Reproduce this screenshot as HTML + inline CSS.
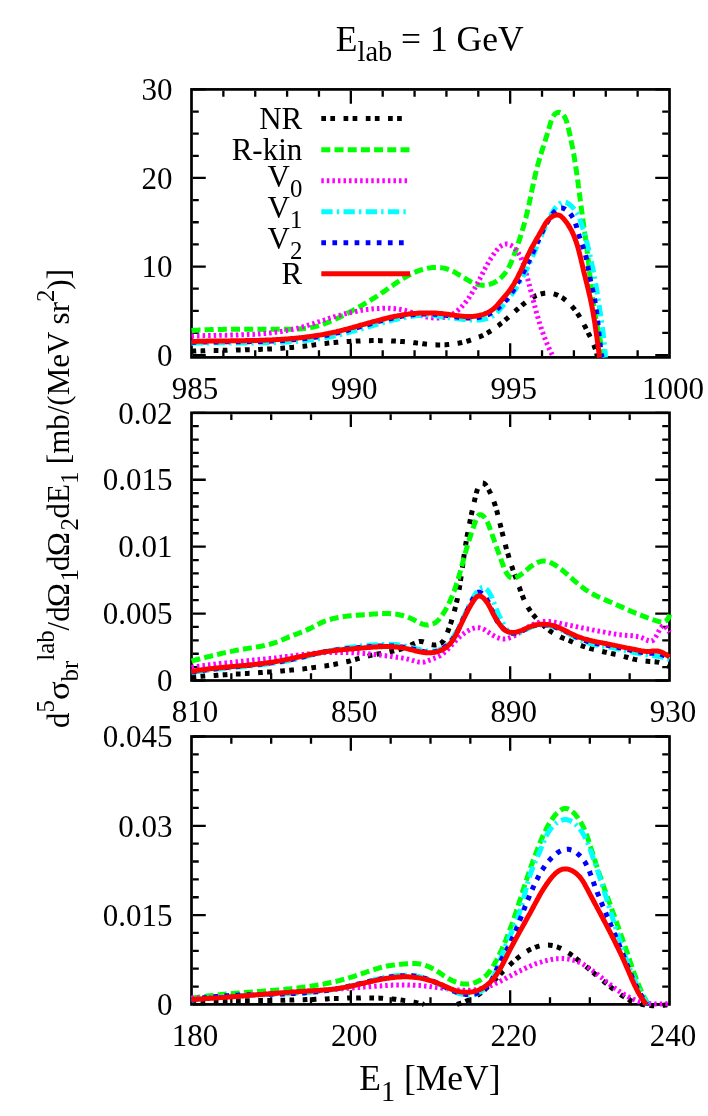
<!DOCTYPE html>
<html><head><meta charset="utf-8"><title>E_lab = 1 GeV</title>
<style>html,body{margin:0;padding:0;background:#fff}body{width:708px;height:1116px;overflow:hidden;font-family:"Liberation Serif",serif}svg{will-change:transform}</style>
</head><body>
<svg width="708" height="1116" viewBox="0 0 708 1116" style="display:block">
<rect width="708" height="1116" fill="#fff"/>
<rect x="191.5" y="89.4" width="478.0" height="268.0" fill="none" stroke="#000" stroke-width="2.7"/>
<path d="M223.37,356.04999999999995v-5.9 M223.37,90.75v5.9 M255.23,356.04999999999995v-5.9 M255.23,90.75v5.9 M287.10,356.04999999999995v-5.9 M287.10,90.75v5.9 M318.97,356.04999999999995v-5.9 M318.97,90.75v5.9 M350.83,356.04999999999995v-12.9 M350.83,90.75v12.9 M382.70,356.04999999999995v-5.9 M382.70,90.75v5.9 M414.57,356.04999999999995v-5.9 M414.57,90.75v5.9 M446.43,356.04999999999995v-5.9 M446.43,90.75v5.9 M478.30,356.04999999999995v-5.9 M478.30,90.75v5.9 M510.17,356.04999999999995v-12.9 M510.17,90.75v12.9 M542.03,356.04999999999995v-5.9 M542.03,90.75v5.9 M573.90,356.04999999999995v-5.9 M573.90,90.75v5.9 M605.77,356.04999999999995v-5.9 M605.77,90.75v5.9 M637.63,356.04999999999995v-5.9 M637.63,90.75v5.9 M192.85,355.10h12.9 M668.15,355.10h-12.9 M192.85,332.96h5.9 M668.15,332.96h-5.9 M192.85,310.82h5.9 M668.15,310.82h-5.9 M192.85,288.68h5.9 M668.15,288.68h-5.9 M192.85,266.53h12.9 M668.15,266.53h-12.9 M192.85,244.39h5.9 M668.15,244.39h-5.9 M192.85,222.25h5.9 M668.15,222.25h-5.9 M192.85,200.11h5.9 M668.15,200.11h-5.9 M192.85,177.97h12.9 M668.15,177.97h-12.9 M192.85,155.82h5.9 M668.15,155.82h-5.9 M192.85,133.68h5.9 M668.15,133.68h-5.9 M192.85,111.54h5.9 M668.15,111.54h-5.9 M192.85,89.40h12.9 M668.15,89.40h-12.9" stroke="#000" stroke-width="2.3" fill="none"/>
<text x="195.0" y="399.1" font-family="Liberation Serif, serif" font-size="31" text-anchor="middle">985</text>
<text x="354.3" y="399.1" font-family="Liberation Serif, serif" font-size="31" text-anchor="middle">990</text>
<text x="513.7" y="399.1" font-family="Liberation Serif, serif" font-size="31" text-anchor="middle">995</text>
<text x="673.0" y="399.1" font-family="Liberation Serif, serif" font-size="31" text-anchor="middle">1000</text>
<text x="172.5" y="365.8" font-family="Liberation Serif, serif" font-size="31" text-anchor="end">0</text>
<text x="172.5" y="277.2" font-family="Liberation Serif, serif" font-size="31" text-anchor="end">10</text>
<text x="172.5" y="188.7" font-family="Liberation Serif, serif" font-size="31" text-anchor="end">20</text>
<text x="172.5" y="100.1" font-family="Liberation Serif, serif" font-size="31" text-anchor="end">30</text>
<g fill="none" stroke-width="5.0" stroke-linejoin="round">
<path d="M191.5,351.2 L192.7,351.2 L193.9,351.1 L195.1,351.1 L196.3,351.0 L197.5,351.0 L198.7,350.9 L199.9,350.9 L201.1,350.9 L202.3,350.8 L203.5,350.8 L204.7,350.8 L205.9,350.7 L207.1,350.7 L208.3,350.7 L209.5,350.6 L210.7,350.6 L211.9,350.6 L213.1,350.5 L214.3,350.5 L215.5,350.5 L216.7,350.5 L217.9,350.4 L219.1,350.4 L220.3,350.4 L221.5,350.4 L222.7,350.3 L223.9,350.3 L225.1,350.3 L226.3,350.3 L227.5,350.2 L228.7,350.2 L229.9,350.2 L231.1,350.2 L232.3,350.1 L233.5,350.1 L234.7,350.1 L235.9,350.1 L237.1,350.0 L238.3,350.0 L239.5,350.0 L240.7,350.0 L241.9,349.9 L243.1,349.9 L244.3,349.9 L245.5,349.8 L246.7,349.8 L247.9,349.8 L249.1,349.7 L250.3,349.7 L251.5,349.7 L252.7,349.6 L253.9,349.6 L255.1,349.6 L256.3,349.5 L257.5,349.5 L258.7,349.4 L259.9,349.4 L261.1,349.3 L262.3,349.3 L263.5,349.3 L264.7,349.2 L265.9,349.1 L267.1,349.1 L268.3,349.0 L269.5,349.0 L270.7,348.9 L271.9,348.9 L273.1,348.8 L274.3,348.7 L275.5,348.7 L276.7,348.6 L277.9,348.5 L279.1,348.4 L280.3,348.4 L281.5,348.3 L282.7,348.2 L283.9,348.1 L285.1,348.0 L286.2,347.9 L287.4,347.8 L288.6,347.7 L289.8,347.6 L291.0,347.5 L292.2,347.4 L293.4,347.3 L294.6,347.2 L295.8,347.1 L297.0,347.0 L298.2,346.8 L299.4,346.7 L300.6,346.6 L301.8,346.4 L303.0,346.3 L304.1,346.2 L305.3,346.0 L306.5,345.9 L307.7,345.7 L308.9,345.6 L310.1,345.4 L311.3,345.3 L312.5,345.1 L313.7,344.9 L314.9,344.8 L316.0,344.6 L317.2,344.5 L318.4,344.3 L319.6,344.1 L320.8,344.0 L322.0,343.8 L323.2,343.7 L324.4,343.5 L325.6,343.4 L326.8,343.3 L327.9,343.1 L329.1,343.0 L330.3,342.9 L331.5,342.8 L332.7,342.6 L333.9,342.5 L335.1,342.4 L336.3,342.3 L337.5,342.2 L338.7,342.1 L339.9,342.0 L341.1,341.9 L342.3,341.8 L343.5,341.7 L344.7,341.7 L345.9,341.6 L347.1,341.5 L348.3,341.4 L349.5,341.4 L350.7,341.3 L351.9,341.2 L353.1,341.2 L354.3,341.1 L355.5,341.1 L356.7,341.0 L357.9,341.0 L359.1,340.9 L360.3,340.9 L361.5,340.8 L362.7,340.8 L363.9,340.8 L365.1,340.7 L366.3,340.7 L367.5,340.7 L368.7,340.7 L369.9,340.7 L371.1,340.6 L372.3,340.6 L373.5,340.6 L374.7,340.6 L375.9,340.6 L377.1,340.6 L378.3,340.6 L379.5,340.7 L380.7,340.7 L381.9,340.7 L383.1,340.7 L384.3,340.7 L385.5,340.8 L386.7,340.8 L387.9,340.8 L389.1,340.9 L390.3,340.9 L391.5,341.0 L392.7,341.0 L393.9,341.1 L395.1,341.1 L396.2,341.2 L397.4,341.3 L398.6,341.3 L399.8,341.4 L401.0,341.5 L402.2,341.6 L403.4,341.6 L404.6,341.7 L405.8,341.8 L407.0,341.9 L408.2,342.0 L409.4,342.2 L410.6,342.3 L411.8,342.4 L413.0,342.5 L414.2,342.7 L415.4,342.8 L416.6,342.9 L417.8,343.1 L419.0,343.2 L420.2,343.4 L421.4,343.5 L422.6,343.7 L423.8,343.8 L425.0,343.9 L426.2,344.1 L427.4,344.2 L428.6,344.3 L429.7,344.4 L430.9,344.5 L432.1,344.6 L433.3,344.7 L434.5,344.8 L435.7,344.8 L436.9,344.9 L438.1,344.9 L439.3,344.9 L440.5,344.9 L441.7,344.9 L442.8,344.9 L444.0,344.8 L445.2,344.8 L446.4,344.7 L447.6,344.6 L448.8,344.5 L450.0,344.4 L451.1,344.3 L452.3,344.1 L453.5,344.0 L454.7,343.8 L455.9,343.6 L457.1,343.4 L458.3,343.2 L459.5,343.0 L460.6,342.7 L461.8,342.5 L463.0,342.2 L464.2,341.9 L465.4,341.6 L466.5,341.3 L467.7,341.0 L468.9,340.7 L470.0,340.3 L471.2,339.9 L472.4,339.6 L473.5,339.2 L474.7,338.8 L475.8,338.3 L476.9,337.9 L478.0,337.4 L479.2,337.0 L480.3,336.5 L481.4,336.0 L482.5,335.5 L483.5,335.0 L484.6,334.4 L485.7,333.9 L486.7,333.3 L487.8,332.7 L488.8,332.1 L489.8,331.5 L490.8,330.9 L491.8,330.3 L492.8,329.6 L493.8,328.9 L494.8,328.3 L495.7,327.6 L496.7,326.9 L497.6,326.2 L498.6,325.5 L499.5,324.7 L500.4,324.0 L501.3,323.2 L502.3,322.5 L503.2,321.7 L504.1,321.0 L505.0,320.2 L505.9,319.4 L506.8,318.6 L507.7,317.9 L508.6,317.1 L509.5,316.3 L510.4,315.5 L511.3,314.7 L512.2,313.9 L513.1,313.1 L514.0,312.3 L514.9,311.5 L515.8,310.7 L516.7,309.8 L517.7,309.0 L518.6,308.2 L519.5,307.4 L520.4,306.6 L521.4,305.8 L522.3,305.0 L523.3,304.3 L524.2,303.5 L525.2,302.7 L526.2,301.9 L527.2,301.2 L528.1,300.5 L529.1,299.8 L530.2,299.1 L531.2,298.4 L532.2,297.8 L533.2,297.2 L534.3,296.6 L535.3,296.0 L536.4,295.5 L537.5,295.1 L538.6,294.7 L539.7,294.3 L540.8,294.0 L541.9,293.7 L543.1,293.5 L544.2,293.3 L545.4,293.2 L546.5,293.1 L547.7,293.1 L548.9,293.1 L550.0,293.2 L551.2,293.3 L552.3,293.5 L553.5,293.8 L554.6,294.1 L555.7,294.5 L556.8,294.9 L557.9,295.3 L558.9,295.8 L560.0,296.4 L561.0,297.0 L562.1,297.6 L563.1,298.3 L564.1,299.0 L565.0,299.7 L566.0,300.5 L566.9,301.3 L567.9,302.1 L568.8,303.0 L569.6,303.8 L570.5,304.7 L571.3,305.6 L572.1,306.5 L572.9,307.5 L573.7,308.4 L574.5,309.4 L575.2,310.3 L575.9,311.3 L576.6,312.3 L577.3,313.3 L578.0,314.3 L578.7,315.3 L579.3,316.3 L579.9,317.4 L580.5,318.4 L581.2,319.4 L581.7,320.5 L582.3,321.5 L582.9,322.6 L583.5,323.6 L584.0,324.7 L584.6,325.8 L585.2,326.8 L585.7,327.9 L586.2,329.0 L586.8,330.1 L587.3,331.1 L587.9,332.2 L588.4,333.3 L588.9,334.3 L589.5,335.4 L590.0,336.5 L590.5,337.5 L591.0,338.6 L591.5,339.7 L592.0,340.8 L592.5,341.9 L593.0,342.9 L593.4,344.0 L593.9,345.1 L594.3,346.2 L594.7,347.4 L595.1,348.5 L595.5,349.6 L595.9,350.7 L596.2,351.9 L596.5,353.0 L596.8,354.2 L597.1,355.4 L597.3,356.6 L597.5,357.4" stroke="#000000" stroke-dasharray="4.7 4.35 4.7 8.5"/>
<path d="M191.5,330.5 L192.7,330.4 L193.9,330.4 L195.1,330.3 L196.3,330.2 L197.5,330.2 L198.7,330.1 L199.9,330.0 L201.1,330.0 L202.3,329.9 L203.5,329.9 L204.7,329.8 L205.9,329.8 L207.1,329.8 L208.3,329.7 L209.5,329.7 L210.7,329.6 L211.9,329.6 L213.1,329.6 L214.3,329.5 L215.5,329.5 L216.7,329.5 L217.9,329.4 L219.1,329.4 L220.3,329.4 L221.5,329.4 L222.7,329.4 L223.9,329.3 L225.1,329.3 L226.3,329.3 L227.5,329.3 L228.7,329.3 L229.9,329.3 L231.1,329.3 L232.3,329.2 L233.5,329.2 L234.7,329.2 L235.9,329.2 L237.1,329.2 L238.3,329.2 L239.5,329.2 L240.7,329.2 L241.9,329.2 L243.1,329.2 L244.3,329.2 L245.5,329.2 L246.7,329.2 L247.9,329.2 L249.1,329.2 L250.2,329.2 L251.4,329.2 L252.6,329.2 L253.8,329.2 L255.0,329.2 L256.2,329.2 L257.4,329.2 L258.6,329.2 L259.8,329.2 L261.0,329.2 L262.2,329.2 L263.4,329.2 L264.6,329.2 L265.8,329.3 L267.0,329.3 L268.2,329.3 L269.4,329.3 L270.6,329.3 L271.9,329.3 L273.1,329.3 L274.3,329.3 L275.5,329.3 L276.7,329.3 L277.9,329.3 L279.1,329.3 L280.3,329.3 L281.5,329.3 L282.7,329.3 L283.9,329.3 L285.1,329.3 L286.3,329.3 L287.5,329.2 L288.7,329.2 L289.9,329.2 L291.1,329.2 L292.3,329.2 L293.5,329.1 L294.7,329.1 L295.9,329.0 L297.1,329.0 L298.3,328.9 L299.5,328.9 L300.7,328.8 L301.9,328.7 L303.1,328.6 L304.3,328.4 L305.5,328.3 L306.7,328.2 L307.8,328.0 L309.0,327.8 L310.2,327.6 L311.4,327.4 L312.5,327.2 L313.7,326.9 L314.9,326.7 L316.0,326.4 L317.2,326.1 L318.3,325.8 L319.5,325.4 L320.6,325.1 L321.8,324.7 L322.9,324.3 L324.0,323.9 L325.2,323.4 L326.3,323.0 L327.4,322.6 L328.5,322.1 L329.6,321.6 L330.8,321.2 L331.9,320.7 L333.0,320.2 L334.1,319.7 L335.2,319.2 L336.3,318.7 L337.4,318.2 L338.5,317.7 L339.5,317.2 L340.6,316.6 L341.7,316.1 L342.8,315.6 L343.9,315.1 L344.9,314.5 L346.0,314.0 L347.1,313.4 L348.2,312.9 L349.2,312.4 L350.3,311.8 L351.3,311.2 L352.4,310.7 L353.4,310.1 L354.5,309.5 L355.5,309.0 L356.6,308.4 L357.6,307.8 L358.7,307.2 L359.7,306.6 L360.8,306.1 L361.8,305.5 L362.8,304.9 L363.9,304.3 L364.9,303.6 L365.9,303.0 L366.9,302.4 L368.0,301.8 L369.0,301.2 L370.0,300.6 L371.0,299.9 L372.0,299.3 L373.0,298.6 L374.1,298.0 L375.1,297.4 L376.1,296.7 L377.1,296.1 L378.1,295.4 L379.1,294.7 L380.1,294.1 L381.1,293.4 L382.1,292.7 L383.1,292.1 L384.1,291.4 L385.1,290.7 L386.1,290.0 L387.1,289.3 L388.1,288.6 L389.0,287.9 L390.0,287.2 L391.0,286.5 L392.0,285.9 L393.0,285.2 L394.0,284.5 L395.0,283.8 L396.0,283.1 L397.0,282.4 L398.0,281.8 L399.0,281.1 L400.0,280.4 L401.0,279.8 L402.0,279.1 L403.1,278.5 L404.1,277.9 L405.1,277.3 L406.1,276.7 L407.2,276.1 L408.2,275.5 L409.3,274.9 L410.4,274.4 L411.4,273.9 L412.5,273.3 L413.6,272.8 L414.7,272.3 L415.8,271.9 L416.9,271.4 L418.0,271.0 L419.1,270.6 L420.2,270.2 L421.4,269.8 L422.5,269.5 L423.7,269.2 L424.9,268.9 L426.1,268.6 L427.2,268.3 L428.4,268.1 L429.6,267.9 L430.8,267.8 L432.0,267.6 L433.2,267.5 L434.4,267.5 L435.6,267.4 L436.8,267.4 L438.0,267.5 L439.1,267.5 L440.3,267.6 L441.5,267.8 L442.7,267.9 L443.8,268.1 L445.0,268.4 L446.1,268.7 L447.2,269.0 L448.4,269.4 L449.5,269.8 L450.6,270.3 L451.7,270.8 L452.8,271.3 L453.8,271.8 L454.9,272.4 L456.0,273.0 L457.0,273.6 L458.1,274.2 L459.2,274.8 L460.2,275.5 L461.3,276.1 L462.3,276.8 L463.4,277.5 L464.5,278.1 L465.5,278.8 L466.6,279.4 L467.7,280.0 L468.8,280.6 L469.8,281.2 L470.9,281.8 L472.0,282.3 L473.1,282.8 L474.2,283.3 L475.3,283.7 L476.4,284.1 L477.5,284.4 L478.7,284.7 L479.8,284.9 L480.9,285.1 L482.1,285.2 L483.2,285.3 L484.4,285.2 L485.6,285.2 L486.8,285.0 L487.9,284.8 L489.1,284.5 L490.3,284.1 L491.4,283.7 L492.6,283.3 L493.7,282.8 L494.8,282.2 L495.8,281.6 L496.9,281.0 L497.9,280.3 L498.8,279.6 L499.8,278.8 L500.7,278.0 L501.6,277.2 L502.4,276.3 L503.2,275.4 L504.0,274.5 L504.8,273.6 L505.5,272.6 L506.2,271.6 L506.9,270.6 L507.5,269.6 L508.1,268.6 L508.7,267.5 L509.2,266.5 L509.8,265.4 L510.3,264.3 L510.8,263.2 L511.3,262.1 L511.7,261.0 L512.2,259.9 L512.6,258.8 L513.1,257.7 L513.5,256.5 L513.9,255.4 L514.3,254.3 L514.7,253.2 L515.2,252.0 L515.6,250.9 L516.0,249.8 L516.4,248.6 L516.8,247.5 L517.2,246.4 L517.6,245.3 L518.0,244.1 L518.3,243.0 L518.7,241.9 L519.1,240.7 L519.5,239.6 L519.8,238.4 L520.2,237.3 L520.6,236.2 L520.9,235.0 L521.3,233.9 L521.7,232.8 L522.0,231.6 L522.3,230.5 L522.7,229.3 L523.0,228.2 L523.4,227.0 L523.7,225.9 L524.0,224.7 L524.3,223.6 L524.6,222.4 L524.9,221.3 L525.3,220.1 L525.6,218.9 L525.9,217.8 L526.1,216.6 L526.4,215.4 L526.7,214.3 L527.0,213.1 L527.3,211.9 L527.5,210.8 L527.8,209.6 L528.1,208.4 L528.3,207.2 L528.6,206.1 L528.9,204.9 L529.1,203.7 L529.4,202.5 L529.6,201.3 L529.9,200.2 L530.1,199.0 L530.4,197.8 L530.6,196.6 L530.9,195.4 L531.1,194.2 L531.4,193.1 L531.6,191.9 L531.8,190.7 L532.1,189.5 L532.3,188.3 L532.6,187.2 L532.8,186.0 L533.1,184.8 L533.3,183.6 L533.6,182.5 L533.9,181.3 L534.1,180.1 L534.4,178.9 L534.6,177.8 L534.9,176.6 L535.2,175.4 L535.4,174.3 L535.7,173.1 L536.0,172.0 L536.3,170.8 L536.6,169.6 L536.9,168.5 L537.2,167.3 L537.5,166.2 L537.8,165.0 L538.1,163.9 L538.4,162.8 L538.7,161.6 L539.1,160.5 L539.4,159.4 L539.7,158.2 L540.1,157.1 L540.4,155.9 L540.7,154.8 L541.1,153.7 L541.4,152.5 L541.8,151.4 L542.1,150.3 L542.5,149.1 L542.8,148.0 L543.2,146.9 L543.6,145.7 L543.9,144.6 L544.3,143.4 L544.6,142.3 L545.0,141.1 L545.4,140.0 L545.7,138.8 L546.1,137.7 L546.4,136.5 L546.8,135.4 L547.2,134.2 L547.5,133.0 L547.9,131.8 L548.3,130.6 L548.6,129.5 L549.0,128.3 L549.3,127.1 L549.7,125.9 L550.0,124.7 L550.4,123.4 L550.7,122.2 L551.1,121.0 L551.5,119.9 L552.0,118.7 L552.4,117.7 L553.0,116.6 L553.6,115.7 L554.3,114.8 L555.1,114.0 L555.9,113.3 L556.9,112.8 L557.9,112.4 L559.0,112.3 L560.0,112.4 L561.0,112.9 L561.9,113.6 L562.8,114.4 L563.6,115.4 L564.3,116.5 L565.0,117.5 L565.5,118.7 L566.0,119.8 L566.4,120.9 L566.8,122.1 L567.1,123.2 L567.4,124.4 L567.7,125.6 L568.0,126.7 L568.3,127.9 L568.6,129.1 L568.9,130.2 L569.1,131.4 L569.4,132.6 L569.7,133.8 L569.9,134.9 L570.2,136.1 L570.5,137.3 L570.7,138.5 L571.0,139.6 L571.2,140.8 L571.4,142.0 L571.7,143.2 L571.9,144.3 L572.1,145.5 L572.4,146.7 L572.6,147.9 L572.8,149.1 L573.0,150.2 L573.2,151.4 L573.4,152.6 L573.7,153.8 L573.9,155.0 L574.1,156.1 L574.3,157.3 L574.5,158.5 L574.7,159.7 L574.8,160.9 L575.0,162.1 L575.2,163.2 L575.4,164.4 L575.6,165.6 L575.8,166.8 L575.9,168.0 L576.1,169.2 L576.3,170.4 L576.5,171.5 L576.6,172.7 L576.8,173.9 L577.0,175.1 L577.1,176.3 L577.3,177.5 L577.5,178.7 L577.6,179.9 L577.8,181.0 L578.0,182.2 L578.1,183.4 L578.3,184.6 L578.4,185.8 L578.6,187.0 L578.8,188.2 L578.9,189.4 L579.1,190.6 L579.2,191.7 L579.4,192.9 L579.5,194.1 L579.7,195.3 L579.8,196.5 L580.0,197.7 L580.1,198.9 L580.3,200.1 L580.4,201.3 L580.6,202.5 L580.8,203.6 L580.9,204.8 L581.1,206.0 L581.2,207.2 L581.4,208.4 L581.5,209.6 L581.7,210.8 L581.8,212.0 L582.0,213.2 L582.2,214.4 L582.3,215.5 L582.5,216.7 L582.6,217.9 L582.8,219.1 L583.0,220.3 L583.1,221.5 L583.3,222.7 L583.5,223.9 L583.6,225.1 L583.8,226.2 L584.0,227.4 L584.2,228.6 L584.3,229.8 L584.5,231.0 L584.7,232.2 L584.8,233.4 L585.0,234.6 L585.2,235.8 L585.3,236.9 L585.5,238.1 L585.7,239.3 L585.8,240.5 L586.0,241.7 L586.1,242.9 L586.3,244.1 L586.5,245.3 L586.6,246.5 L586.8,247.6 L586.9,248.8 L587.1,250.0 L587.2,251.2 L587.4,252.4 L587.5,253.6 L587.6,254.8 L587.8,256.0 L587.9,257.2 L588.1,258.4 L588.2,259.6 L588.3,260.8 L588.5,261.9 L588.6,263.1 L588.7,264.3 L588.9,265.5 L589.0,266.7 L589.1,267.9 L589.2,269.1 L589.4,270.3 L589.5,271.5 L589.6,272.7 L589.7,273.9 L589.9,275.1 L590.0,276.3 L590.1,277.5 L590.3,278.6 L590.4,279.8 L590.5,281.0 L590.7,282.2 L590.8,283.4 L590.9,284.6 L591.1,285.8 L591.2,287.0 L591.3,288.2 L591.5,289.4 L591.6,290.6 L591.8,291.8 L591.9,292.9 L592.1,294.1 L592.2,295.3 L592.4,296.5 L592.5,297.7 L592.7,298.9 L592.9,300.1 L593.0,301.3 L593.2,302.5 L593.4,303.6 L593.6,304.8 L593.8,306.0 L593.9,307.2 L594.1,308.4 L594.3,309.6 L594.5,310.8 L594.7,311.9 L594.9,313.1 L595.1,314.3 L595.3,315.5 L595.5,316.7 L595.7,317.9 L595.9,319.0 L596.1,320.2 L596.4,321.4 L596.6,322.6 L596.8,323.8 L597.0,324.9 L597.2,326.1 L597.5,327.3 L597.7,328.5 L597.9,329.7 L598.2,330.8 L598.4,332.0 L598.6,333.2 L598.9,334.4 L599.1,335.5 L599.4,336.7 L599.6,337.9 L599.9,339.1 L600.1,340.2 L600.4,341.4 L600.6,342.6 L600.9,343.8 L601.1,344.9 L601.4,346.1 L601.7,347.3 L601.9,348.4 L602.2,349.6 L602.5,350.8 L602.7,351.9 L603.0,353.1 L603.3,354.3 L603.5,355.5 L603.8,356.6 L604.0,357.4" stroke="#00ff00" stroke-dasharray="9 4.2"/>
<path d="M191.5,336.1 L192.7,336.0 L193.9,336.0 L195.1,335.9 L196.3,335.9 L197.5,335.9 L198.7,335.8 L199.8,335.8 L201.0,335.7 L202.2,335.7 L203.4,335.7 L204.6,335.6 L205.8,335.6 L207.0,335.6 L208.2,335.6 L209.4,335.5 L210.6,335.5 L211.8,335.5 L213.0,335.5 L214.2,335.4 L215.4,335.4 L216.6,335.4 L217.8,335.4 L219.0,335.4 L220.2,335.3 L221.4,335.3 L222.6,335.3 L223.8,335.3 L225.1,335.3 L226.3,335.2 L227.5,335.2 L228.7,335.2 L229.9,335.2 L231.1,335.1 L232.3,335.1 L233.5,335.1 L234.7,335.1 L235.9,335.0 L237.1,335.0 L238.3,335.0 L239.5,334.9 L240.7,334.9 L241.9,334.8 L243.1,334.8 L244.3,334.8 L245.5,334.7 L246.7,334.7 L247.9,334.6 L249.1,334.5 L250.3,334.5 L251.5,334.4 L252.7,334.4 L253.9,334.3 L255.1,334.2 L256.3,334.1 L257.5,334.1 L258.7,334.0 L259.9,333.9 L261.1,333.8 L262.3,333.7 L263.5,333.6 L264.7,333.5 L265.9,333.4 L267.1,333.3 L268.3,333.1 L269.5,333.0 L270.7,332.9 L271.8,332.7 L273.0,332.6 L274.2,332.5 L275.4,332.3 L276.6,332.1 L277.8,332.0 L279.0,331.8 L280.1,331.6 L281.3,331.5 L282.5,331.3 L283.7,331.1 L284.9,330.9 L286.0,330.7 L287.2,330.4 L288.4,330.2 L289.6,330.0 L290.7,329.7 L291.9,329.5 L293.1,329.2 L294.2,329.0 L295.4,328.7 L296.6,328.4 L297.7,328.1 L298.9,327.8 L300.1,327.5 L301.2,327.2 L302.4,326.9 L303.5,326.6 L304.7,326.3 L305.8,325.9 L307.0,325.6 L308.1,325.2 L309.3,324.9 L310.4,324.5 L311.6,324.1 L312.7,323.8 L313.9,323.4 L315.0,323.0 L316.2,322.6 L317.3,322.3 L318.4,321.9 L319.6,321.5 L320.7,321.1 L321.9,320.7 L323.0,320.4 L324.2,320.0 L325.3,319.6 L326.5,319.2 L327.6,318.9 L328.7,318.5 L329.9,318.1 L331.0,317.8 L332.2,317.4 L333.3,317.1 L334.5,316.7 L335.6,316.4 L336.8,316.0 L337.9,315.7 L339.1,315.4 L340.2,315.1 L341.4,314.7 L342.5,314.4 L343.7,314.1 L344.9,313.8 L346.0,313.6 L347.2,313.3 L348.3,313.0 L349.5,312.7 L350.7,312.5 L351.8,312.2 L353.0,312.0 L354.2,311.7 L355.4,311.5 L356.5,311.3 L357.7,311.0 L358.9,310.8 L360.1,310.6 L361.2,310.4 L362.4,310.2 L363.6,310.1 L364.8,309.9 L366.0,309.7 L367.2,309.5 L368.4,309.4 L369.6,309.2 L370.8,309.1 L372.0,309.0 L373.2,308.8 L374.4,308.7 L375.6,308.6 L376.8,308.5 L378.0,308.5 L379.2,308.4 L380.4,308.3 L381.6,308.3 L382.8,308.2 L384.0,308.2 L385.2,308.2 L386.4,308.2 L387.7,308.2 L388.9,308.3 L390.1,308.3 L391.3,308.4 L392.4,308.5 L393.6,308.5 L394.8,308.7 L396.0,308.8 L397.2,308.9 L398.4,309.1 L399.6,309.3 L400.7,309.5 L401.9,309.7 L403.1,309.9 L404.2,310.2 L405.4,310.5 L406.5,310.8 L407.7,311.1 L408.8,311.4 L410.0,311.8 L411.1,312.1 L412.2,312.5 L413.4,312.9 L414.5,313.3 L415.6,313.7 L416.8,314.1 L417.9,314.5 L419.1,314.8 L420.2,315.2 L421.4,315.6 L422.5,315.9 L423.7,316.2 L424.8,316.5 L426.0,316.8 L427.2,317.1 L428.4,317.3 L429.6,317.5 L430.8,317.7 L432.0,317.8 L433.3,317.9 L434.5,318.0 L435.7,318.0 L436.9,318.0 L438.1,318.0 L439.3,317.9 L440.5,317.8 L441.7,317.7 L442.9,317.5 L444.1,317.2 L445.2,317.0 L446.4,316.7 L447.5,316.3 L448.6,315.9 L449.7,315.5 L450.8,315.0 L451.8,314.4 L452.9,313.9 L453.9,313.3 L454.9,312.6 L455.8,311.9 L456.8,311.2 L457.7,310.5 L458.6,309.7 L459.5,308.9 L460.4,308.0 L461.3,307.2 L462.1,306.3 L463.0,305.4 L463.8,304.5 L464.6,303.5 L465.3,302.6 L466.1,301.6 L466.9,300.6 L467.6,299.6 L468.3,298.6 L469.0,297.6 L469.7,296.6 L470.3,295.6 L471.0,294.6 L471.6,293.6 L472.3,292.6 L472.9,291.5 L473.5,290.5 L474.1,289.5 L474.7,288.4 L475.2,287.4 L475.8,286.4 L476.4,285.3 L476.9,284.3 L477.5,283.2 L478.0,282.2 L478.6,281.2 L479.1,280.1 L479.7,279.1 L480.2,278.0 L480.7,277.0 L481.3,275.9 L481.8,274.8 L482.3,273.8 L482.9,272.7 L483.4,271.7 L484.0,270.6 L484.5,269.6 L485.1,268.5 L485.6,267.5 L486.2,266.4 L486.8,265.4 L487.4,264.3 L488.0,263.3 L488.6,262.2 L489.2,261.2 L489.8,260.1 L490.5,259.1 L491.1,258.0 L491.8,257.0 L492.5,256.0 L493.2,254.9 L493.9,253.9 L494.6,252.9 L495.4,251.8 L496.2,250.8 L497.0,249.8 L497.8,248.9 L498.6,248.0 L499.5,247.1 L500.5,246.4 L501.4,245.7 L502.4,245.1 L503.5,244.6 L504.5,244.3 L505.6,244.1 L506.7,244.0 L507.8,244.1 L508.8,244.4 L509.8,244.8 L510.9,245.3 L511.8,246.0 L512.8,246.7 L513.7,247.5 L514.6,248.3 L515.5,249.2 L516.3,250.2 L517.1,251.2 L517.8,252.1 L518.5,253.1 L519.1,254.2 L519.7,255.2 L520.2,256.3 L520.8,257.3 L521.3,258.4 L521.7,259.5 L522.2,260.7 L522.6,261.8 L523.0,262.9 L523.4,264.0 L523.8,265.2 L524.1,266.3 L524.5,267.5 L524.8,268.7 L525.2,269.8 L525.5,271.0 L525.8,272.1 L526.2,273.3 L526.5,274.5 L526.8,275.6 L527.1,276.8 L527.4,277.9 L527.8,279.1 L528.1,280.3 L528.4,281.4 L528.7,282.6 L529.0,283.8 L529.3,284.9 L529.6,286.1 L529.9,287.3 L530.2,288.4 L530.5,289.6 L530.8,290.8 L531.1,291.9 L531.4,293.1 L531.7,294.2 L532.0,295.4 L532.3,296.6 L532.6,297.7 L532.9,298.9 L533.2,300.1 L533.5,301.2 L533.8,302.4 L534.1,303.5 L534.4,304.7 L534.7,305.9 L535.0,307.0 L535.3,308.2 L535.6,309.3 L535.9,310.5 L536.2,311.7 L536.5,312.8 L536.9,314.0 L537.2,315.1 L537.5,316.3 L537.9,317.4 L538.2,318.6 L538.5,319.7 L538.9,320.9 L539.2,322.0 L539.6,323.1 L539.9,324.3 L540.3,325.4 L540.7,326.6 L541.0,327.7 L541.4,328.8 L541.8,330.0 L542.2,331.1 L542.6,332.2 L543.0,333.3 L543.4,334.5 L543.8,335.6 L544.2,336.7 L544.6,337.8 L545.1,338.9 L545.5,340.0 L545.9,341.2 L546.4,342.3 L546.9,343.4 L547.3,344.5 L547.8,345.6 L548.3,346.7 L548.8,347.8 L549.3,348.9 L549.8,350.0 L550.3,351.0 L550.9,352.1 L551.4,353.2 L551.9,354.3 L552.5,355.4 L553.1,356.4 L553.6,357.4" stroke="#ff00ff" stroke-dasharray="2.5 3.05"/>
<path d="M191.5,343.2 L192.7,343.2 L193.9,343.1 L195.1,343.1 L196.3,343.1 L197.4,343.0 L198.6,343.0 L199.8,343.0 L201.0,343.0 L202.2,343.0 L203.4,342.9 L204.6,342.9 L205.8,342.9 L207.0,342.9 L208.2,342.9 L209.4,342.9 L210.6,342.9 L211.8,342.9 L213.0,342.9 L214.2,342.8 L215.4,342.8 L216.6,342.8 L217.8,342.8 L219.0,342.8 L220.2,342.8 L221.4,342.8 L222.6,342.8 L223.8,342.8 L225.0,342.8 L226.2,342.9 L227.4,342.9 L228.6,342.9 L229.8,342.9 L231.0,342.9 L232.2,342.9 L233.4,342.9 L234.6,342.9 L235.8,342.9 L237.0,342.9 L238.2,342.9 L239.4,342.9 L240.6,342.9 L241.8,342.9 L243.0,342.9 L244.2,342.9 L245.4,342.9 L246.6,342.9 L247.8,342.9 L249.1,342.9 L250.3,342.9 L251.5,342.9 L252.7,342.9 L253.9,342.9 L255.1,342.9 L256.3,342.9 L257.5,342.9 L258.7,342.8 L259.9,342.8 L261.1,342.8 L262.3,342.8 L263.5,342.8 L264.7,342.8 L265.9,342.7 L267.1,342.7 L268.3,342.7 L269.5,342.7 L270.7,342.6 L271.9,342.6 L273.1,342.6 L274.4,342.5 L275.6,342.5 L276.8,342.4 L278.0,342.4 L279.2,342.4 L280.4,342.3 L281.6,342.2 L282.8,342.2 L284.0,342.1 L285.2,342.1 L286.4,342.0 L287.6,341.9 L288.8,341.9 L290.0,341.8 L291.2,341.7 L292.4,341.6 L293.6,341.5 L294.7,341.5 L295.9,341.4 L297.1,341.3 L298.3,341.2 L299.5,341.1 L300.7,341.0 L301.9,340.8 L303.1,340.7 L304.3,340.6 L305.5,340.5 L306.7,340.4 L307.9,340.2 L309.1,340.1 L310.2,339.9 L311.4,339.8 L312.6,339.7 L313.8,339.5 L315.0,339.3 L316.2,339.2 L317.4,339.0 L318.5,338.8 L319.7,338.6 L320.9,338.5 L322.1,338.3 L323.3,338.1 L324.4,337.9 L325.6,337.7 L326.8,337.4 L328.0,337.2 L329.1,337.0 L330.3,336.8 L331.5,336.5 L332.7,336.3 L333.8,336.1 L335.0,335.8 L336.2,335.5 L337.3,335.3 L338.5,335.0 L339.7,334.7 L340.8,334.5 L342.0,334.2 L343.2,333.9 L344.3,333.6 L345.5,333.3 L346.6,333.0 L347.8,332.7 L349.0,332.4 L350.1,332.1 L351.3,331.7 L352.4,331.4 L353.6,331.1 L354.8,330.8 L355.9,330.5 L357.1,330.1 L358.2,329.8 L359.4,329.5 L360.5,329.1 L361.7,328.8 L362.9,328.5 L364.0,328.1 L365.2,327.8 L366.3,327.5 L367.5,327.1 L368.6,326.8 L369.8,326.5 L370.9,326.1 L372.1,325.8 L373.3,325.5 L374.4,325.1 L375.6,324.8 L376.7,324.5 L377.9,324.1 L379.0,323.8 L380.2,323.5 L381.4,323.2 L382.5,322.8 L383.7,322.5 L384.8,322.2 L386.0,321.9 L387.2,321.6 L388.3,321.3 L389.5,321.0 L390.7,320.7 L391.8,320.4 L393.0,320.1 L394.2,319.9 L395.3,319.6 L396.5,319.3 L397.7,319.0 L398.8,318.8 L400.0,318.5 L401.2,318.3 L402.3,318.0 L403.5,317.8 L404.7,317.6 L405.9,317.4 L407.1,317.1 L408.2,316.9 L409.4,316.7 L410.6,316.5 L411.8,316.4 L413.0,316.2 L414.2,316.0 L415.3,315.8 L416.5,315.7 L417.7,315.6 L418.9,315.4 L420.1,315.3 L421.3,315.2 L422.5,315.1 L423.7,315.0 L424.9,315.0 L426.1,314.9 L427.3,314.9 L428.5,315.0 L429.7,315.0 L430.9,315.1 L432.1,315.3 L433.3,315.4 L434.5,315.6 L435.7,315.8 L436.8,316.0 L438.0,316.2 L439.2,316.4 L440.4,316.7 L441.6,316.9 L442.8,317.1 L444.0,317.3 L445.1,317.4 L446.3,317.6 L447.5,317.7 L448.7,317.8 L449.9,317.9 L451.1,318.1 L452.2,318.2 L453.4,318.3 L454.6,318.4 L455.8,318.5 L457.0,318.6 L458.2,318.8 L459.4,318.9 L460.6,319.1 L461.8,319.2 L463.0,319.4 L464.2,319.5 L465.4,319.6 L466.6,319.7 L467.8,319.9 L469.0,320.0 L470.3,320.0 L471.5,320.1 L472.7,320.2 L473.9,320.2 L475.1,320.2 L476.3,320.2 L477.5,320.1 L478.7,320.1 L479.9,320.0 L481.0,319.8 L482.2,319.6 L483.4,319.4 L484.6,319.2 L485.7,318.9 L486.9,318.6 L488.0,318.2 L489.1,317.8 L490.2,317.3 L491.3,316.8 L492.3,316.2 L493.3,315.6 L494.3,314.9 L495.2,314.2 L496.1,313.4 L497.0,312.5 L497.8,311.7 L498.6,310.8 L499.4,309.9 L500.2,308.9 L501.0,308.0 L501.8,307.1 L502.6,306.1 L503.3,305.2 L504.1,304.3 L504.9,303.3 L505.6,302.4 L506.4,301.5 L507.1,300.5 L507.9,299.6 L508.6,298.6 L509.4,297.7 L510.1,296.7 L510.8,295.8 L511.5,294.8 L512.2,293.8 L512.9,292.8 L513.6,291.9 L514.3,290.9 L515.0,289.9 L515.6,288.9 L516.3,287.9 L516.9,286.9 L517.6,285.9 L518.2,284.9 L518.8,283.9 L519.4,282.9 L520.0,281.8 L520.6,280.8 L521.2,279.8 L521.8,278.7 L522.4,277.7 L523.0,276.6 L523.5,275.6 L524.1,274.5 L524.6,273.4 L525.2,272.4 L525.7,271.3 L526.2,270.2 L526.8,269.2 L527.3,268.1 L527.8,267.0 L528.3,265.9 L528.8,264.8 L529.3,263.7 L529.8,262.7 L530.3,261.6 L530.8,260.5 L531.3,259.4 L531.8,258.3 L532.2,257.2 L532.7,256.1 L533.2,255.0 L533.7,253.9 L534.1,252.7 L534.6,251.6 L535.1,250.5 L535.6,249.4 L536.0,248.3 L536.5,247.2 L537.0,246.1 L537.4,245.0 L537.9,243.9 L538.4,242.8 L538.8,241.6 L539.3,240.5 L539.8,239.4 L540.2,238.3 L540.7,237.2 L541.2,236.1 L541.7,235.0 L542.1,233.9 L542.6,232.8 L543.1,231.7 L543.6,230.6 L544.1,229.5 L544.6,228.4 L545.0,227.3 L545.5,226.2 L546.0,225.1 L546.6,224.0 L547.1,222.9 L547.6,221.8 L548.1,220.8 L548.6,219.7 L549.2,218.6 L549.7,217.5 L550.2,216.5 L550.8,215.4 L551.3,214.4 L551.9,213.3 L552.5,212.3 L553.1,211.2 L553.7,210.2 L554.4,209.2 L555.1,208.2 L555.9,207.3 L556.7,206.4 L557.5,205.5 L558.5,204.6 L559.5,203.8 L560.5,203.1 L561.6,202.5 L562.7,202.1 L563.8,201.9 L564.8,202.0 L565.9,202.3 L566.9,202.8 L567.9,203.4 L568.9,204.1 L569.9,204.8 L570.8,205.6 L571.8,206.5 L572.7,207.4 L573.6,208.3 L574.4,209.3 L575.2,210.3 L575.9,211.3 L576.6,212.4 L577.2,213.4 L577.7,214.5 L578.3,215.5 L578.7,216.6 L579.2,217.7 L579.6,218.8 L580.0,220.0 L580.4,221.1 L580.8,222.2 L581.2,223.3 L581.6,224.5 L581.9,225.6 L582.3,226.7 L582.7,227.9 L583.0,229.0 L583.4,230.1 L583.7,231.3 L584.0,232.4 L584.4,233.5 L584.7,234.7 L585.0,235.8 L585.4,237.0 L585.7,238.1 L586.0,239.3 L586.3,240.4 L586.6,241.6 L586.9,242.7 L587.2,243.9 L587.5,245.1 L587.8,246.2 L588.1,247.4 L588.4,248.5 L588.7,249.7 L589.0,250.9 L589.2,252.0 L589.5,253.2 L589.8,254.4 L590.1,255.5 L590.3,256.7 L590.6,257.9 L590.8,259.1 L591.1,260.2 L591.3,261.4 L591.6,262.6 L591.8,263.8 L592.1,264.9 L592.3,266.1 L592.6,267.3 L592.8,268.5 L593.0,269.7 L593.3,270.8 L593.5,272.0 L593.7,273.2 L593.9,274.4 L594.2,275.6 L594.4,276.7 L594.6,277.9 L594.8,279.1 L595.0,280.3 L595.2,281.5 L595.5,282.7 L595.7,283.9 L595.9,285.0 L596.1,286.2 L596.3,287.4 L596.5,288.6 L596.7,289.8 L596.9,291.0 L597.1,292.2 L597.2,293.4 L597.4,294.5 L597.6,295.7 L597.8,296.9 L598.0,298.1 L598.2,299.3 L598.4,300.5 L598.6,301.7 L598.8,302.9 L598.9,304.0 L599.1,305.2 L599.3,306.4 L599.5,307.6 L599.7,308.8 L599.8,310.0 L600.0,311.2 L600.2,312.3 L600.4,313.5 L600.5,314.7 L600.7,315.9 L600.9,317.1 L601.1,318.3 L601.2,319.4 L601.4,320.6 L601.6,321.8 L601.7,323.0 L601.9,324.2 L602.1,325.4 L602.2,326.5 L602.4,327.7 L602.5,328.9 L602.7,330.1 L602.9,331.3 L603.0,332.5 L603.2,333.6 L603.3,334.8 L603.4,336.0 L603.6,337.2 L603.7,338.4 L603.9,339.6 L604.0,340.8 L604.1,342.0 L604.2,343.2 L604.4,344.4 L604.5,345.6 L604.6,346.7 L604.7,347.9 L604.8,349.1 L604.9,350.3 L605.0,351.5 L605.2,352.7 L605.2,354.0 L605.3,355.2 L605.4,356.4 L605.5,357.4" stroke="#00ffff" stroke-dasharray="11.3 4.2 2.3 4.4"/>
<path d="M191.5,342.3 L192.7,342.3 L193.9,342.2 L195.1,342.2 L196.3,342.2 L197.5,342.1 L198.7,342.1 L199.8,342.1 L201.0,342.1 L202.2,342.1 L203.4,342.0 L204.6,342.0 L205.8,342.0 L207.0,342.0 L208.2,342.0 L209.4,342.0 L210.6,341.9 L211.8,341.9 L213.0,341.9 L214.2,341.9 L215.4,341.9 L216.6,341.9 L217.8,341.9 L219.0,341.9 L220.2,341.9 L221.4,341.9 L222.6,341.9 L223.8,341.9 L225.0,341.8 L226.2,341.8 L227.4,341.8 L228.6,341.8 L229.8,341.8 L231.0,341.8 L232.2,341.8 L233.4,341.8 L234.6,341.8 L235.8,341.8 L237.0,341.8 L238.3,341.8 L239.5,341.8 L240.7,341.8 L241.9,341.7 L243.1,341.7 L244.3,341.7 L245.5,341.7 L246.7,341.7 L247.9,341.7 L249.1,341.7 L250.3,341.6 L251.5,341.6 L252.7,341.6 L253.9,341.6 L255.1,341.6 L256.3,341.5 L257.5,341.5 L258.7,341.5 L259.9,341.5 L261.1,341.4 L262.3,341.4 L263.5,341.4 L264.7,341.3 L265.9,341.3 L267.1,341.3 L268.3,341.2 L269.5,341.2 L270.7,341.1 L271.9,341.1 L273.1,341.0 L274.3,341.0 L275.5,340.9 L276.7,340.9 L277.9,340.8 L279.1,340.7 L280.3,340.7 L281.5,340.6 L282.7,340.5 L283.9,340.4 L285.1,340.4 L286.3,340.3 L287.5,340.2 L288.7,340.1 L289.9,340.0 L291.1,339.9 L292.3,339.8 L293.5,339.7 L294.7,339.6 L295.9,339.5 L297.1,339.4 L298.3,339.3 L299.5,339.2 L300.6,339.0 L301.8,338.9 L303.0,338.8 L304.2,338.6 L305.4,338.5 L306.6,338.4 L307.8,338.2 L309.0,338.1 L310.2,337.9 L311.3,337.7 L312.5,337.6 L313.7,337.4 L314.9,337.2 L316.1,337.0 L317.3,336.9 L318.4,336.7 L319.6,336.5 L320.8,336.3 L322.0,336.1 L323.1,335.9 L324.3,335.7 L325.5,335.4 L326.7,335.2 L327.9,335.0 L329.0,334.7 L330.2,334.5 L331.4,334.3 L332.5,334.0 L333.7,333.7 L334.9,333.5 L336.0,333.2 L337.2,332.9 L338.4,332.7 L339.5,332.4 L340.7,332.1 L341.9,331.8 L343.0,331.5 L344.2,331.2 L345.4,330.9 L346.5,330.6 L347.7,330.3 L348.8,329.9 L350.0,329.6 L351.2,329.3 L352.3,329.0 L353.5,328.7 L354.6,328.3 L355.8,328.0 L357.0,327.7 L358.1,327.3 L359.3,327.0 L360.4,326.7 L361.6,326.3 L362.7,326.0 L363.9,325.7 L365.1,325.3 L366.2,325.0 L367.4,324.7 L368.5,324.3 L369.7,324.0 L370.9,323.7 L372.0,323.3 L373.2,323.0 L374.3,322.7 L375.5,322.4 L376.6,322.1 L377.8,321.7 L379.0,321.4 L380.1,321.1 L381.3,320.8 L382.5,320.5 L383.6,320.2 L384.8,319.9 L385.9,319.6 L387.1,319.3 L388.3,319.1 L389.4,318.8 L390.6,318.5 L391.8,318.2 L392.9,318.0 L394.1,317.7 L395.3,317.5 L396.5,317.2 L397.6,317.0 L398.8,316.8 L400.0,316.6 L401.2,316.3 L402.3,316.1 L403.5,315.9 L404.7,315.8 L405.9,315.6 L407.1,315.4 L408.2,315.2 L409.4,315.1 L410.6,314.9 L411.8,314.8 L413.0,314.7 L414.2,314.6 L415.4,314.4 L416.6,314.3 L417.8,314.3 L419.0,314.2 L420.2,314.1 L421.4,314.1 L422.6,314.0 L423.8,314.0 L425.0,314.0 L426.2,314.0 L427.4,314.0 L428.6,314.0 L429.8,314.0 L431.0,314.0 L432.2,314.1 L433.4,314.1 L434.6,314.2 L435.8,314.3 L437.0,314.4 L438.2,314.5 L439.4,314.6 L440.6,314.7 L441.8,314.8 L443.0,315.0 L444.2,315.1 L445.4,315.3 L446.5,315.4 L447.7,315.6 L448.9,315.8 L450.1,316.0 L451.3,316.2 L452.4,316.4 L453.6,316.5 L454.8,316.7 L456.0,316.9 L457.2,317.1 L458.3,317.2 L459.5,317.4 L460.7,317.5 L461.9,317.7 L463.1,317.8 L464.3,317.9 L465.6,318.0 L466.8,318.0 L468.0,318.1 L469.2,318.1 L470.4,318.1 L471.6,318.1 L472.8,318.0 L474.0,318.0 L475.2,317.9 L476.4,317.8 L477.6,317.6 L478.8,317.4 L480.0,317.2 L481.1,316.9 L482.3,316.6 L483.4,316.3 L484.6,316.0 L485.7,315.6 L486.8,315.1 L487.9,314.7 L489.0,314.1 L490.1,313.6 L491.1,313.0 L492.2,312.4 L493.2,311.8 L494.2,311.1 L495.2,310.5 L496.2,309.7 L497.1,309.0 L498.1,308.3 L499.0,307.5 L499.9,306.7 L500.8,305.9 L501.7,305.1 L502.5,304.2 L503.3,303.4 L504.2,302.5 L505.0,301.6 L505.7,300.7 L506.5,299.8 L507.3,298.9 L508.0,297.9 L508.7,297.0 L509.4,296.0 L510.1,295.1 L510.8,294.1 L511.5,293.1 L512.2,292.1 L512.8,291.1 L513.5,290.1 L514.1,289.1 L514.7,288.1 L515.4,287.0 L516.0,286.0 L516.6,285.0 L517.2,283.9 L517.8,282.9 L518.4,281.9 L519.0,280.8 L519.5,279.8 L520.1,278.7 L520.7,277.6 L521.3,276.6 L521.8,275.5 L522.4,274.4 L522.9,273.4 L523.5,272.3 L524.0,271.2 L524.6,270.2 L525.1,269.1 L525.6,268.0 L526.2,266.9 L526.7,265.8 L527.2,264.8 L527.7,263.7 L528.3,262.6 L528.8,261.5 L529.3,260.4 L529.8,259.3 L530.3,258.2 L530.8,257.1 L531.3,256.0 L531.8,254.9 L532.3,253.8 L532.8,252.8 L533.3,251.7 L533.8,250.6 L534.3,249.5 L534.8,248.4 L535.2,247.3 L535.7,246.2 L536.2,245.1 L536.7,244.0 L537.2,242.9 L537.7,241.8 L538.1,240.8 L538.6,239.7 L539.1,238.6 L539.6,237.5 L540.1,236.4 L540.6,235.4 L541.1,234.3 L541.6,233.2 L542.1,232.1 L542.6,231.1 L543.1,230.0 L543.6,228.9 L544.2,227.8 L544.7,226.8 L545.3,225.7 L545.9,224.7 L546.5,223.6 L547.1,222.5 L547.7,221.5 L548.3,220.4 L549.0,219.4 L549.7,218.3 L550.4,217.3 L551.1,216.2 L551.8,215.2 L552.6,214.1 L553.4,213.1 L554.2,212.1 L555.0,211.1 L555.9,210.3 L556.8,209.5 L557.7,208.8 L558.6,208.3 L559.6,208.0 L560.6,207.8 L561.6,207.8 L562.7,208.1 L563.8,208.5 L564.8,209.0 L565.9,209.7 L566.9,210.4 L567.9,211.3 L568.8,212.2 L569.7,213.1 L570.5,214.1 L571.3,215.1 L572.0,216.1 L572.6,217.2 L573.2,218.2 L573.7,219.3 L574.2,220.4 L574.7,221.5 L575.2,222.6 L575.6,223.8 L576.0,224.9 L576.3,226.1 L576.7,227.2 L577.0,228.4 L577.3,229.5 L577.7,230.7 L578.0,231.9 L578.3,233.0 L578.7,234.2 L579.0,235.3 L579.4,236.5 L579.8,237.6 L580.2,238.8 L580.6,239.9 L580.9,241.0 L581.3,242.2 L581.7,243.3 L582.1,244.4 L582.5,245.5 L582.9,246.7 L583.3,247.8 L583.7,248.9 L584.1,250.1 L584.4,251.2 L584.8,252.3 L585.1,253.5 L585.4,254.6 L585.7,255.8 L586.0,256.9 L586.3,258.1 L586.6,259.3 L586.8,260.4 L587.1,261.6 L587.3,262.8 L587.5,264.0 L587.7,265.2 L587.9,266.3 L588.1,267.5 L588.4,268.7 L588.6,269.9 L588.8,271.1 L589.0,272.3 L589.2,273.5 L589.4,274.6 L589.6,275.8 L589.8,277.0 L590.1,278.2 L590.3,279.4 L590.5,280.6 L590.8,281.7 L591.1,282.9 L591.3,284.1 L591.6,285.2 L591.8,286.4 L592.1,287.6 L592.4,288.8 L592.6,289.9 L592.9,291.1 L593.2,292.3 L593.4,293.4 L593.7,294.6 L593.9,295.8 L594.2,297.0 L594.4,298.1 L594.6,299.3 L594.8,300.5 L595.0,301.7 L595.2,302.9 L595.4,304.0 L595.6,305.2 L595.8,306.4 L596.0,307.6 L596.2,308.8 L596.3,310.0 L596.5,311.1 L596.6,312.3 L596.8,313.5 L596.9,314.7 L597.1,315.9 L597.2,317.1 L597.4,318.3 L597.5,319.5 L597.6,320.7 L597.7,321.9 L597.9,323.1 L598.0,324.3 L598.1,325.4 L598.2,326.6 L598.4,327.8 L598.5,329.0 L598.6,330.2 L598.7,331.4 L598.8,332.6 L599.0,333.8 L599.1,335.0 L599.2,336.2 L599.3,337.4 L599.5,338.6 L599.6,339.8 L599.7,341.0 L599.9,342.2 L600.0,343.4 L600.2,344.6 L600.3,345.7 L600.4,346.9 L600.6,348.1 L600.8,349.3 L600.9,350.5 L601.1,351.7 L601.3,352.9 L601.5,354.1 L601.6,355.2 L601.8,356.4 L602.0,357.4" stroke="#0000ff" stroke-dasharray="4.7 6.4"/>
<path d="M191.5,341.5 L192.7,341.5 L193.9,341.4 L195.1,341.4 L196.3,341.4 L197.5,341.3 L198.7,341.3 L199.9,341.3 L201.0,341.2 L202.2,341.2 L203.4,341.2 L204.6,341.2 L205.8,341.2 L207.0,341.1 L208.2,341.1 L209.4,341.1 L210.6,341.1 L211.8,341.1 L213.0,341.0 L214.2,341.0 L215.4,341.0 L216.6,341.0 L217.8,341.0 L219.0,341.0 L220.2,341.0 L221.4,340.9 L222.6,340.9 L223.8,340.9 L225.0,340.9 L226.2,340.9 L227.4,340.9 L228.6,340.9 L229.8,340.9 L231.0,340.8 L232.2,340.8 L233.4,340.8 L234.6,340.8 L235.8,340.8 L237.0,340.8 L238.3,340.8 L239.5,340.7 L240.7,340.7 L241.9,340.7 L243.1,340.7 L244.3,340.7 L245.5,340.6 L246.7,340.6 L247.9,340.6 L249.1,340.6 L250.3,340.6 L251.5,340.5 L252.7,340.5 L253.9,340.5 L255.1,340.5 L256.3,340.4 L257.5,340.4 L258.7,340.4 L259.9,340.3 L261.1,340.3 L262.3,340.2 L263.5,340.2 L264.7,340.2 L265.9,340.1 L267.1,340.1 L268.3,340.0 L269.5,340.0 L270.7,339.9 L271.9,339.9 L273.1,339.8 L274.3,339.7 L275.5,339.7 L276.7,339.6 L277.9,339.5 L279.1,339.5 L280.3,339.4 L281.5,339.3 L282.7,339.2 L283.9,339.2 L285.1,339.1 L286.3,339.0 L287.5,338.9 L288.7,338.8 L289.9,338.7 L291.1,338.6 L292.3,338.5 L293.5,338.4 L294.7,338.3 L295.9,338.2 L297.1,338.1 L298.2,337.9 L299.4,337.8 L300.6,337.7 L301.8,337.6 L303.0,337.4 L304.2,337.3 L305.4,337.1 L306.6,337.0 L307.8,336.8 L308.9,336.7 L310.1,336.5 L311.3,336.4 L312.5,336.2 L313.7,336.0 L314.9,335.8 L316.0,335.6 L317.2,335.5 L318.4,335.3 L319.6,335.1 L320.8,334.9 L321.9,334.7 L323.1,334.5 L324.3,334.2 L325.5,334.0 L326.7,333.8 L327.8,333.6 L329.0,333.3 L330.2,333.1 L331.3,332.8 L332.5,332.6 L333.7,332.3 L334.9,332.1 L336.0,331.8 L337.2,331.5 L338.4,331.2 L339.5,331.0 L340.7,330.7 L341.8,330.4 L343.0,330.1 L344.2,329.8 L345.3,329.5 L346.5,329.2 L347.7,328.9 L348.8,328.5 L350.0,328.2 L351.1,327.9 L352.3,327.6 L353.5,327.3 L354.6,326.9 L355.8,326.6 L356.9,326.3 L358.1,326.0 L359.2,325.6 L360.4,325.3 L361.6,325.0 L362.7,324.7 L363.9,324.3 L365.0,324.0 L366.2,323.7 L367.4,323.3 L368.5,323.0 L369.7,322.7 L370.8,322.4 L372.0,322.0 L373.1,321.7 L374.3,321.4 L375.5,321.1 L376.6,320.8 L377.8,320.5 L379.0,320.2 L380.1,319.9 L381.3,319.5 L382.4,319.3 L383.6,319.0 L384.8,318.7 L385.9,318.4 L387.1,318.1 L388.3,317.8 L389.4,317.6 L390.6,317.3 L391.8,317.0 L392.9,316.8 L394.1,316.5 L395.3,316.3 L396.5,316.1 L397.6,315.8 L398.8,315.6 L400.0,315.4 L401.2,315.2 L402.4,315.0 L403.5,314.8 L404.7,314.6 L405.9,314.4 L407.1,314.3 L408.3,314.1 L409.5,314.0 L410.7,313.8 L411.9,313.7 L413.0,313.6 L414.2,313.5 L415.4,313.4 L416.6,313.3 L417.8,313.2 L419.0,313.1 L420.2,313.0 L421.4,313.0 L422.6,312.9 L423.8,312.9 L425.0,312.9 L426.2,312.9 L427.4,312.9 L428.6,312.9 L429.8,312.9 L431.0,312.9 L432.2,312.9 L433.4,313.0 L434.6,313.0 L435.8,313.1 L437.0,313.2 L438.2,313.3 L439.4,313.4 L440.6,313.5 L441.8,313.6 L443.0,313.7 L444.2,313.9 L445.4,314.0 L446.6,314.2 L447.8,314.3 L449.0,314.5 L450.2,314.7 L451.4,314.8 L452.5,315.0 L453.7,315.2 L454.9,315.4 L456.1,315.5 L457.3,315.7 L458.5,315.8 L459.7,316.0 L460.8,316.1 L462.0,316.2 L463.2,316.3 L464.4,316.4 L465.6,316.5 L466.8,316.5 L468.0,316.6 L469.2,316.6 L470.4,316.5 L471.6,316.5 L472.8,316.4 L474.0,316.3 L475.2,316.2 L476.4,316.0 L477.6,315.8 L478.8,315.6 L480.0,315.3 L481.2,315.0 L482.3,314.7 L483.5,314.3 L484.6,313.9 L485.8,313.4 L486.9,313.0 L487.9,312.5 L489.0,311.9 L490.0,311.3 L491.0,310.7 L492.0,310.0 L493.0,309.3 L493.9,308.5 L494.8,307.8 L495.6,306.9 L496.5,306.1 L497.3,305.2 L498.1,304.3 L498.8,303.3 L499.6,302.4 L500.4,301.5 L501.2,300.6 L502.0,299.6 L502.8,298.7 L503.5,297.8 L504.3,296.9 L505.1,296.0 L505.9,295.1 L506.7,294.2 L507.4,293.3 L508.2,292.3 L508.9,291.4 L509.6,290.4 L510.3,289.5 L511.0,288.5 L511.7,287.5 L512.3,286.5 L513.0,285.5 L513.6,284.5 L514.2,283.5 L514.8,282.4 L515.4,281.4 L516.0,280.3 L516.6,279.3 L517.1,278.2 L517.7,277.2 L518.2,276.1 L518.8,275.0 L519.3,273.9 L519.8,272.8 L520.4,271.8 L520.9,270.7 L521.4,269.6 L521.9,268.5 L522.4,267.4 L522.9,266.3 L523.4,265.2 L523.9,264.1 L524.4,263.0 L524.9,261.9 L525.4,260.8 L525.9,259.7 L526.4,258.6 L526.9,257.5 L527.4,256.4 L527.9,255.3 L528.5,254.3 L529.0,253.2 L529.5,252.1 L530.0,251.1 L530.6,250.0 L531.1,248.9 L531.7,247.9 L532.2,246.9 L532.8,245.8 L533.4,244.8 L534.0,243.7 L534.5,242.7 L535.1,241.7 L535.7,240.6 L536.3,239.6 L536.9,238.6 L537.5,237.5 L538.1,236.5 L538.7,235.5 L539.3,234.4 L539.9,233.4 L540.5,232.3 L541.1,231.3 L541.7,230.2 L542.3,229.1 L542.8,228.1 L543.4,227.0 L544.1,225.9 L544.7,224.9 L545.3,223.8 L546.0,222.8 L546.7,221.8 L547.5,220.8 L548.3,219.9 L549.2,219.0 L550.1,218.1 L551.1,217.3 L552.2,216.6 L553.4,216.0 L554.5,215.5 L555.7,215.1 L556.8,214.9 L557.9,215.0 L559.0,215.2 L560.0,215.6 L560.9,216.2 L561.8,217.0 L562.7,217.8 L563.5,218.7 L564.3,219.6 L565.0,220.5 L565.8,221.5 L566.5,222.4 L567.2,223.4 L567.9,224.4 L568.5,225.4 L569.1,226.4 L569.7,227.4 L570.3,228.4 L570.9,229.5 L571.5,230.5 L572.0,231.6 L572.5,232.7 L573.0,233.7 L573.5,234.8 L573.9,235.9 L574.4,237.0 L574.8,238.2 L575.2,239.3 L575.6,240.4 L576.0,241.5 L576.4,242.7 L576.8,243.8 L577.2,245.0 L577.5,246.1 L577.9,247.3 L578.2,248.5 L578.5,249.7 L578.8,250.8 L579.1,252.0 L579.4,253.2 L579.7,254.4 L580.0,255.6 L580.3,256.7 L580.6,257.9 L580.9,259.1 L581.2,260.3 L581.4,261.5 L581.7,262.7 L582.0,263.9 L582.3,265.0 L582.5,266.2 L582.8,267.4 L583.1,268.6 L583.4,269.8 L583.6,270.9 L583.9,272.1 L584.2,273.3 L584.5,274.4 L584.8,275.6 L585.1,276.8 L585.4,277.9 L585.6,279.1 L585.9,280.2 L586.2,281.4 L586.5,282.6 L586.8,283.7 L587.1,284.9 L587.4,286.0 L587.6,287.2 L587.9,288.3 L588.2,289.5 L588.5,290.6 L588.7,291.8 L589.0,292.9 L589.3,294.1 L589.6,295.3 L589.8,296.4 L590.1,297.6 L590.3,298.7 L590.6,299.9 L590.8,301.1 L591.1,302.2 L591.3,303.4 L591.6,304.6 L591.8,305.8 L592.0,306.9 L592.2,308.1 L592.5,309.3 L592.7,310.5 L592.9,311.7 L593.1,312.8 L593.3,314.0 L593.5,315.2 L593.7,316.4 L593.9,317.6 L594.1,318.8 L594.3,320.0 L594.5,321.2 L594.7,322.4 L594.9,323.6 L595.1,324.8 L595.2,326.0 L595.4,327.1 L595.6,328.3 L595.8,329.5 L595.9,330.7 L596.1,331.9 L596.3,333.1 L596.5,334.3 L596.6,335.5 L596.8,336.7 L597.0,337.9 L597.1,339.1 L597.3,340.3 L597.4,341.5 L597.6,342.7 L597.8,343.9 L597.9,345.1 L598.1,346.2 L598.2,347.4 L598.4,348.6 L598.6,349.8 L598.7,351.0 L598.9,352.2 L599.0,353.3 L599.2,354.5 L599.4,355.7 L599.5,356.9 L599.6,357.4" stroke="#ff0000"/>
</g>
<rect x="191.5" y="412.8" width="478.0" height="267.7" fill="none" stroke="#000" stroke-width="2.7"/>
<path d="M231.33,679.15v-5.9 M231.33,414.15000000000003v5.9 M271.17,679.15v-5.9 M271.17,414.15000000000003v5.9 M311.00,679.15v-5.9 M311.00,414.15000000000003v5.9 M350.83,679.15v-12.9 M350.83,414.15000000000003v12.9 M390.67,679.15v-5.9 M390.67,414.15000000000003v5.9 M430.50,679.15v-5.9 M430.50,414.15000000000003v5.9 M470.33,679.15v-5.9 M470.33,414.15000000000003v5.9 M510.17,679.15v-12.9 M510.17,414.15000000000003v12.9 M550.00,679.15v-5.9 M550.00,414.15000000000003v5.9 M589.83,679.15v-5.9 M589.83,414.15000000000003v5.9 M629.67,679.15v-5.9 M629.67,414.15000000000003v5.9 M192.85,680.50h12.9 M668.15,680.50h-12.9 M192.85,667.12h5.9 M668.15,667.12h-5.9 M192.85,653.73h5.9 M668.15,653.73h-5.9 M192.85,640.35h5.9 M668.15,640.35h-5.9 M192.85,626.96h5.9 M668.15,626.96h-5.9 M192.85,613.58h12.9 M668.15,613.58h-12.9 M192.85,600.19h5.9 M668.15,600.19h-5.9 M192.85,586.81h5.9 M668.15,586.81h-5.9 M192.85,573.42h5.9 M668.15,573.42h-5.9 M192.85,560.03h5.9 M668.15,560.03h-5.9 M192.85,546.65h12.9 M668.15,546.65h-12.9 M192.85,533.26h5.9 M668.15,533.26h-5.9 M192.85,519.88h5.9 M668.15,519.88h-5.9 M192.85,506.50h5.9 M668.15,506.50h-5.9 M192.85,493.11h5.9 M668.15,493.11h-5.9 M192.85,479.73h12.9 M668.15,479.73h-12.9 M192.85,466.34h5.9 M668.15,466.34h-5.9 M192.85,452.95h5.9 M668.15,452.95h-5.9 M192.85,439.57h5.9 M668.15,439.57h-5.9 M192.85,426.19h5.9 M668.15,426.19h-5.9 M192.85,412.80h12.9 M668.15,412.80h-12.9" stroke="#000" stroke-width="2.3" fill="none"/>
<text x="195.0" y="722.2" font-family="Liberation Serif, serif" font-size="31" text-anchor="middle">810</text>
<text x="354.3" y="722.2" font-family="Liberation Serif, serif" font-size="31" text-anchor="middle">850</text>
<text x="513.7" y="722.2" font-family="Liberation Serif, serif" font-size="31" text-anchor="middle">890</text>
<text x="673.0" y="722.2" font-family="Liberation Serif, serif" font-size="31" text-anchor="middle">930</text>
<text x="172.5" y="691.2" font-family="Liberation Serif, serif" font-size="31" text-anchor="end">0</text>
<text x="172.5" y="624.3" font-family="Liberation Serif, serif" font-size="31" text-anchor="end">0.005</text>
<text x="172.5" y="557.4" font-family="Liberation Serif, serif" font-size="31" text-anchor="end">0.01</text>
<text x="172.5" y="490.4" font-family="Liberation Serif, serif" font-size="31" text-anchor="end">0.015</text>
<text x="172.5" y="423.5" font-family="Liberation Serif, serif" font-size="31" text-anchor="end">0.02</text>
<g fill="none" stroke-width="5.0" stroke-linejoin="round">
<path d="M191.5,677.0 L192.7,676.9 L193.9,676.8 L195.1,676.7 L196.3,676.6 L197.5,676.6 L198.7,676.5 L199.9,676.4 L201.1,676.3 L202.3,676.2 L203.4,676.1 L204.6,676.1 L205.8,676.0 L207.0,675.9 L208.2,675.8 L209.4,675.7 L210.6,675.7 L211.8,675.6 L213.0,675.5 L214.2,675.4 L215.4,675.4 L216.6,675.3 L217.8,675.2 L219.0,675.1 L220.2,675.1 L221.4,675.0 L222.6,674.9 L223.8,674.8 L225.0,674.8 L226.2,674.7 L227.4,674.6 L228.6,674.6 L229.8,674.5 L231.0,674.4 L232.2,674.4 L233.4,674.3 L234.6,674.2 L235.8,674.1 L237.0,674.1 L238.2,674.0 L239.4,673.9 L240.6,673.9 L241.8,673.8 L243.0,673.7 L244.2,673.6 L245.4,673.6 L246.6,673.5 L247.8,673.4 L249.0,673.3 L250.2,673.3 L251.4,673.2 L252.6,673.1 L253.8,673.0 L255.0,673.0 L256.2,672.9 L257.4,672.8 L258.6,672.7 L259.8,672.6 L261.0,672.6 L262.2,672.5 L263.4,672.4 L264.6,672.3 L265.8,672.2 L267.0,672.1 L268.2,672.1 L269.3,672.0 L270.5,671.9 L271.7,671.8 L272.9,671.7 L274.1,671.6 L275.3,671.5 L276.5,671.4 L277.7,671.3 L278.9,671.2 L280.1,671.1 L281.3,671.0 L282.5,670.9 L283.7,670.8 L284.9,670.7 L286.1,670.6 L287.3,670.5 L288.5,670.4 L289.7,670.3 L290.9,670.1 L292.1,670.0 L293.3,669.9 L294.5,669.8 L295.6,669.7 L296.8,669.5 L298.0,669.4 L299.2,669.3 L300.4,669.2 L301.6,669.0 L302.8,668.9 L304.0,668.8 L305.2,668.6 L306.4,668.5 L307.6,668.3 L308.7,668.2 L309.9,668.0 L311.1,667.9 L312.3,667.7 L313.5,667.6 L314.7,667.4 L315.9,667.2 L317.1,667.1 L318.3,666.9 L319.4,666.7 L320.6,666.6 L321.8,666.4 L323.0,666.2 L324.2,666.0 L325.4,665.9 L326.5,665.7 L327.7,665.5 L328.9,665.3 L330.1,665.1 L331.3,664.9 L332.5,664.7 L333.6,664.5 L334.8,664.3 L336.0,664.0 L337.2,663.8 L338.3,663.6 L339.5,663.3 L340.7,663.1 L341.9,662.8 L343.0,662.6 L344.2,662.3 L345.4,662.0 L346.5,661.8 L347.7,661.5 L348.9,661.2 L350.0,660.9 L351.2,660.5 L352.3,660.2 L353.5,659.9 L354.7,659.6 L355.8,659.3 L357.0,658.9 L358.1,658.6 L359.3,658.3 L360.4,658.0 L361.6,657.7 L362.8,657.3 L363.9,657.0 L365.1,656.7 L366.2,656.4 L367.4,656.2 L368.6,655.9 L369.7,655.6 L370.9,655.4 L372.1,655.1 L373.2,654.9 L374.4,654.7 L375.6,654.4 L376.8,654.2 L377.9,654.0 L379.1,653.8 L380.3,653.6 L381.5,653.4 L382.7,653.2 L383.8,653.0 L385.0,652.7 L386.2,652.5 L387.4,652.3 L388.5,652.1 L389.7,651.8 L390.9,651.6 L392.0,651.4 L393.2,651.1 L394.4,650.8 L395.5,650.6 L396.7,650.3 L397.9,650.0 L399.0,649.6 L400.2,649.3 L401.3,649.0 L402.4,648.6 L403.6,648.2 L404.7,647.8 L405.9,647.4 L407.0,646.9 L408.1,646.5 L409.2,646.0 L410.3,645.5 L411.4,644.9 L412.5,644.4 L413.6,643.8 L414.7,643.2 L415.8,642.7 L416.9,642.2 L418.0,641.9 L419.1,641.6 L420.2,641.5 L421.3,641.6 L422.5,641.7 L423.6,642.0 L424.8,642.4 L426.0,642.8 L427.2,643.3 L428.4,643.7 L429.6,644.1 L430.8,644.5 L432.1,644.7 L433.4,644.9 L434.7,645.0 L436.0,644.9 L437.2,644.7 L438.4,644.4 L439.5,644.0 L440.6,643.5 L441.5,642.9 L442.3,642.1 L443.1,641.3 L443.8,640.4 L444.4,639.4 L445.0,638.3 L445.5,637.2 L446.0,636.1 L446.5,634.9 L446.9,633.8 L447.4,632.6 L447.8,631.5 L448.3,630.3 L448.7,629.1 L449.1,628.0 L449.5,626.8 L449.9,625.7 L450.3,624.5 L450.7,623.4 L451.1,622.2 L451.4,621.1 L451.8,619.9 L452.1,618.8 L452.5,617.6 L452.8,616.5 L453.2,615.3 L453.5,614.2 L453.8,613.0 L454.2,611.8 L454.5,610.7 L454.8,609.5 L455.1,608.4 L455.4,607.2 L455.7,606.1 L455.9,604.9 L456.2,603.8 L456.5,602.6 L456.8,601.4 L457.0,600.3 L457.3,599.1 L457.5,597.9 L457.7,596.8 L458.0,595.6 L458.2,594.4 L458.4,593.3 L458.7,592.1 L458.9,590.9 L459.1,589.7 L459.3,588.6 L459.5,587.4 L459.7,586.2 L459.9,585.0 L460.0,583.8 L460.2,582.6 L460.4,581.4 L460.6,580.2 L460.7,579.0 L460.9,577.9 L461.1,576.7 L461.2,575.5 L461.4,574.3 L461.6,573.1 L461.7,571.9 L461.9,570.7 L462.1,569.5 L462.2,568.3 L462.4,567.1 L462.6,565.9 L462.7,564.7 L462.9,563.5 L463.1,562.3 L463.2,561.2 L463.4,560.0 L463.6,558.8 L463.7,557.6 L463.9,556.4 L464.1,555.2 L464.3,554.1 L464.4,552.9 L464.6,551.7 L464.8,550.5 L465.0,549.3 L465.2,548.1 L465.4,547.0 L465.5,545.8 L465.7,544.6 L465.9,543.4 L466.1,542.2 L466.3,541.1 L466.5,539.9 L466.7,538.7 L466.9,537.5 L467.1,536.3 L467.3,535.2 L467.5,534.0 L467.8,532.8 L468.0,531.6 L468.2,530.4 L468.4,529.3 L468.6,528.1 L468.9,526.9 L469.1,525.7 L469.3,524.5 L469.6,523.4 L469.8,522.2 L470.0,521.0 L470.3,519.8 L470.5,518.6 L470.8,517.4 L471.0,516.3 L471.3,515.1 L471.5,513.9 L471.8,512.7 L472.0,511.6 L472.3,510.4 L472.5,509.2 L472.8,508.1 L473.1,506.9 L473.3,505.7 L473.6,504.6 L473.8,503.4 L474.1,502.3 L474.4,501.1 L474.6,500.0 L474.9,498.8 L475.2,497.7 L475.4,496.5 L475.7,495.3 L476.0,494.2 L476.3,493.0 L476.7,491.8 L477.0,490.6 L477.4,489.5 L477.8,488.3 L478.2,487.0 L478.6,485.9 L479.2,484.8 L480.1,484.0 L481.1,483.3 L482.2,483.0 L483.2,483.1 L484.2,483.5 L485.0,484.2 L485.8,485.0 L486.5,486.0 L487.1,487.1 L487.8,488.2 L488.4,489.2 L489.0,490.3 L489.5,491.4 L490.1,492.5 L490.6,493.6 L491.1,494.7 L491.6,495.8 L492.1,496.9 L492.6,498.0 L493.0,499.2 L493.4,500.3 L493.8,501.4 L494.2,502.5 L494.6,503.7 L495.0,504.8 L495.4,505.9 L495.7,507.1 L496.0,508.2 L496.4,509.4 L496.7,510.5 L497.0,511.7 L497.3,512.8 L497.6,514.0 L497.9,515.1 L498.2,516.3 L498.5,517.4 L498.8,518.6 L499.1,519.8 L499.4,520.9 L499.6,522.1 L499.9,523.3 L500.2,524.4 L500.5,525.6 L500.8,526.8 L501.1,527.9 L501.3,529.1 L501.6,530.3 L501.9,531.4 L502.2,532.6 L502.5,533.8 L502.8,534.9 L503.1,536.1 L503.4,537.3 L503.7,538.4 L504.0,539.6 L504.3,540.8 L504.6,541.9 L504.9,543.1 L505.2,544.3 L505.5,545.4 L505.8,546.6 L506.1,547.8 L506.5,548.9 L506.8,550.1 L507.1,551.2 L507.4,552.4 L507.8,553.5 L508.1,554.7 L508.5,555.8 L508.8,557.0 L509.1,558.1 L509.5,559.3 L509.8,560.4 L510.2,561.6 L510.6,562.7 L510.9,563.8 L511.3,565.0 L511.7,566.1 L512.1,567.2 L512.5,568.4 L512.8,569.5 L513.2,570.6 L513.6,571.7 L514.0,572.9 L514.4,574.0 L514.8,575.1 L515.2,576.2 L515.7,577.3 L516.1,578.5 L516.5,579.6 L516.9,580.7 L517.3,581.8 L517.7,583.0 L518.1,584.1 L518.5,585.2 L518.9,586.4 L519.4,587.5 L519.8,588.7 L520.2,589.8 L520.6,590.9 L521.0,592.1 L521.4,593.2 L521.9,594.4 L522.3,595.5 L522.8,596.6 L523.2,597.8 L523.7,598.9 L524.2,600.0 L524.7,601.1 L525.2,602.2 L525.7,603.2 L526.2,604.3 L526.8,605.4 L527.4,606.4 L528.0,607.4 L528.6,608.4 L529.3,609.4 L529.9,610.4 L530.6,611.4 L531.3,612.3 L532.0,613.3 L532.7,614.2 L533.5,615.1 L534.2,616.0 L535.0,616.9 L535.8,617.8 L536.6,618.7 L537.4,619.6 L538.3,620.4 L539.1,621.3 L539.9,622.1 L540.8,623.0 L541.7,623.8 L542.6,624.7 L543.5,625.5 L544.4,626.3 L545.3,627.1 L546.2,627.9 L547.2,628.6 L548.1,629.4 L549.1,630.1 L550.0,630.9 L551.0,631.6 L552.0,632.3 L553.0,632.9 L554.0,633.6 L555.1,634.2 L556.1,634.8 L557.1,635.4 L558.2,635.9 L559.3,636.4 L560.3,636.9 L561.4,637.4 L562.5,637.8 L563.6,638.3 L564.7,638.7 L565.8,639.2 L566.9,639.6 L568.0,640.1 L569.1,640.5 L570.2,641.0 L571.3,641.5 L572.5,642.0 L573.6,642.5 L574.7,642.9 L575.8,643.4 L576.9,643.9 L578.0,644.3 L579.1,644.8 L580.2,645.2 L581.4,645.6 L582.5,646.1 L583.6,646.4 L584.8,646.8 L585.9,647.2 L587.1,647.6 L588.2,647.9 L589.4,648.2 L590.5,648.6 L591.7,648.9 L592.8,649.2 L594.0,649.5 L595.1,649.8 L596.3,650.1 L597.5,650.4 L598.6,650.6 L599.8,650.9 L601.0,651.2 L602.1,651.4 L603.3,651.7 L604.5,652.0 L605.7,652.2 L606.8,652.5 L608.0,652.7 L609.2,653.0 L610.3,653.2 L611.5,653.5 L612.7,653.7 L613.9,654.0 L615.0,654.3 L616.2,654.5 L617.4,654.8 L618.5,655.1 L619.7,655.4 L620.9,655.7 L622.0,656.0 L623.2,656.3 L624.4,656.6 L625.5,656.9 L626.7,657.2 L627.8,657.5 L629.0,657.9 L630.2,658.2 L631.3,658.5 L632.5,658.8 L633.6,659.1 L634.8,659.4 L636.0,659.6 L637.1,659.9 L638.3,660.1 L639.5,660.4 L640.7,660.6 L641.8,660.7 L643.0,660.9 L644.2,661.0 L645.4,661.1 L646.6,661.2 L647.8,661.3 L649.0,661.4 L650.2,661.4 L651.4,661.5 L652.5,661.6 L653.7,661.7 L654.9,661.8 L656.1,661.9 L657.3,662.1 L658.5,662.3 L659.6,662.6 L660.8,662.8 L661.9,663.2 L663.1,663.6 L664.2,664.0 L665.3,664.5 L666.5,665.1 L667.6,665.7 L668.8,666.0 L669.5,666.0" stroke="#000000" stroke-dasharray="4.7 4.35 4.7 8.5"/>
<path d="M191.5,661.0 L192.7,660.7 L193.8,660.4 L195.0,660.1 L196.2,659.8 L197.3,659.5 L198.5,659.2 L199.7,658.9 L200.8,658.6 L202.0,658.3 L203.1,658.0 L204.3,657.7 L205.5,657.4 L206.6,657.1 L207.8,656.8 L209.0,656.6 L210.1,656.3 L211.3,656.0 L212.4,655.7 L213.6,655.4 L214.8,655.1 L215.9,654.8 L217.1,654.5 L218.3,654.2 L219.4,654.0 L220.6,653.7 L221.8,653.4 L222.9,653.1 L224.1,652.9 L225.3,652.6 L226.4,652.4 L227.6,652.1 L228.8,651.8 L229.9,651.6 L231.1,651.4 L232.3,651.1 L233.5,650.9 L234.7,650.6 L235.8,650.4 L237.0,650.2 L238.2,650.0 L239.4,649.8 L240.6,649.6 L241.7,649.4 L242.9,649.2 L244.1,649.0 L245.3,648.8 L246.5,648.6 L247.7,648.4 L248.9,648.2 L250.1,648.1 L251.3,647.9 L252.4,647.7 L253.6,647.5 L254.8,647.3 L256.0,647.1 L257.2,646.9 L258.4,646.7 L259.6,646.5 L260.7,646.3 L261.9,646.1 L263.1,645.8 L264.3,645.6 L265.4,645.3 L266.6,645.1 L267.8,644.8 L268.9,644.5 L270.1,644.2 L271.2,643.8 L272.4,643.5 L273.5,643.2 L274.6,642.8 L275.8,642.4 L276.9,642.0 L278.0,641.6 L279.1,641.1 L280.3,640.7 L281.4,640.2 L282.5,639.7 L283.6,639.3 L284.7,638.8 L285.8,638.3 L286.9,637.9 L288.0,637.4 L289.1,636.9 L290.3,636.5 L291.4,636.0 L292.5,635.6 L293.6,635.1 L294.7,634.7 L295.9,634.3 L297.0,633.9 L298.1,633.5 L299.2,633.0 L300.4,632.6 L301.5,632.2 L302.6,631.8 L303.7,631.3 L304.8,630.9 L305.9,630.4 L307.0,629.9 L308.1,629.4 L309.2,628.9 L310.3,628.4 L311.3,627.8 L312.4,627.3 L313.5,626.7 L314.5,626.2 L315.6,625.6 L316.6,625.0 L317.7,624.5 L318.8,623.9 L319.8,623.4 L320.9,622.9 L322.0,622.4 L323.1,621.9 L324.2,621.4 L325.4,621.0 L326.5,620.6 L327.6,620.2 L328.8,619.8 L329.9,619.5 L331.1,619.2 L332.2,618.8 L333.4,618.5 L334.6,618.3 L335.8,618.0 L336.9,617.8 L338.1,617.5 L339.3,617.3 L340.5,617.1 L341.7,616.9 L342.8,616.7 L344.0,616.6 L345.2,616.4 L346.4,616.2 L347.6,616.1 L348.8,616.0 L350.0,615.8 L351.2,615.7 L352.4,615.6 L353.6,615.5 L354.8,615.4 L355.9,615.3 L357.1,615.2 L358.3,615.2 L359.5,615.1 L360.7,615.0 L361.9,614.9 L363.1,614.8 L364.3,614.8 L365.5,614.7 L366.7,614.6 L367.9,614.5 L369.1,614.4 L370.3,614.3 L371.5,614.2 L372.7,614.1 L373.9,614.1 L375.1,614.0 L376.3,613.9 L377.5,613.8 L378.7,613.7 L379.9,613.7 L381.1,613.6 L382.3,613.6 L383.5,613.5 L384.7,613.5 L385.9,613.5 L387.1,613.5 L388.3,613.5 L389.5,613.6 L390.7,613.7 L391.9,613.8 L393.1,613.9 L394.3,614.0 L395.5,614.1 L396.7,614.3 L397.9,614.5 L399.0,614.7 L400.2,615.0 L401.4,615.2 L402.6,615.5 L403.7,615.8 L404.9,616.2 L406.0,616.5 L407.1,616.9 L408.2,617.3 L409.4,617.8 L410.5,618.3 L411.6,618.8 L412.7,619.3 L413.7,619.8 L414.8,620.4 L415.9,621.0 L416.9,621.6 L418.0,622.1 L419.1,622.7 L420.2,623.2 L421.3,623.6 L422.4,624.1 L423.6,624.4 L424.7,624.7 L425.9,624.9 L427.1,625.0 L428.3,625.0 L429.5,624.8 L430.7,624.6 L431.9,624.2 L433.1,623.8 L434.2,623.3 L435.3,622.7 L436.3,622.0 L437.2,621.2 L438.1,620.4 L438.9,619.6 L439.7,618.7 L440.4,617.7 L441.1,616.8 L441.8,615.8 L442.5,614.8 L443.1,613.8 L443.7,612.8 L444.4,611.8 L445.0,610.7 L445.6,609.7 L446.2,608.7 L446.7,607.6 L447.3,606.5 L447.9,605.5 L448.4,604.4 L448.9,603.3 L449.4,602.3 L450.0,601.2 L450.4,600.1 L450.9,599.0 L451.4,597.9 L451.9,596.8 L452.3,595.7 L452.8,594.5 L453.2,593.4 L453.6,592.3 L454.1,591.2 L454.5,590.0 L454.9,588.9 L455.3,587.8 L455.7,586.6 L456.1,585.5 L456.4,584.3 L456.8,583.2 L457.2,582.0 L457.6,580.9 L457.9,579.7 L458.3,578.6 L458.6,577.4 L459.0,576.2 L459.3,575.1 L459.6,573.9 L460.0,572.7 L460.3,571.6 L460.6,570.4 L460.9,569.3 L461.2,568.1 L461.6,566.9 L461.9,565.8 L462.2,564.6 L462.5,563.4 L462.8,562.3 L463.1,561.1 L463.4,560.0 L463.7,558.8 L464.1,557.7 L464.4,556.5 L464.7,555.4 L465.0,554.2 L465.3,553.1 L465.6,552.0 L465.9,550.8 L466.3,549.7 L466.6,548.6 L466.9,547.4 L467.2,546.3 L467.6,545.2 L467.9,544.1 L468.2,543.0 L468.6,541.9 L468.9,540.8 L469.3,539.6 L469.6,538.5 L470.0,537.4 L470.4,536.3 L470.7,535.1 L471.1,534.0 L471.5,532.8 L471.9,531.6 L472.3,530.5 L472.7,529.3 L473.1,528.1 L473.6,526.8 L474.0,525.6 L474.4,524.3 L474.9,523.1 L475.3,521.8 L475.8,520.5 L476.3,519.2 L476.8,518.0 L477.4,516.9 L478.0,516.0 L478.7,515.3 L479.4,514.8 L480.2,514.7 L481.1,514.8 L482.0,515.2 L482.9,515.9 L483.8,516.7 L484.7,517.6 L485.4,518.6 L486.1,519.6 L486.7,520.7 L487.3,521.8 L487.8,522.9 L488.3,524.1 L488.7,525.3 L489.2,526.5 L489.6,527.7 L490.0,528.8 L490.4,530.0 L490.8,531.2 L491.3,532.3 L491.7,533.4 L492.1,534.6 L492.5,535.7 L492.9,536.8 L493.3,537.9 L493.7,539.0 L494.1,540.1 L494.5,541.2 L494.9,542.4 L495.3,543.5 L495.7,544.6 L496.1,545.7 L496.5,546.8 L496.8,547.9 L497.2,549.0 L497.6,550.1 L498.0,551.3 L498.4,552.4 L498.8,553.5 L499.2,554.6 L499.6,555.8 L500.1,556.9 L500.5,558.0 L500.9,559.2 L501.3,560.3 L501.7,561.5 L502.1,562.6 L502.5,563.8 L503.0,564.9 L503.4,566.1 L503.8,567.3 L504.3,568.4 L504.8,569.6 L505.3,570.7 L505.8,571.8 L506.4,572.8 L507.1,573.8 L507.8,574.8 L508.5,575.7 L509.3,576.6 L510.2,577.3 L511.2,577.8 L512.2,578.1 L513.3,578.1 L514.4,577.9 L515.6,577.6 L516.7,577.1 L517.9,576.5 L519.0,575.8 L520.1,575.1 L521.1,574.4 L522.1,573.7 L523.1,572.9 L524.0,572.2 L524.9,571.4 L525.8,570.7 L526.7,569.9 L527.6,569.1 L528.5,568.4 L529.4,567.6 L530.4,566.8 L531.4,566.1 L532.5,565.4 L533.5,564.7 L534.6,564.1 L535.7,563.4 L536.8,562.9 L537.9,562.4 L539.0,562.0 L540.2,561.6 L541.3,561.3 L542.4,561.1 L543.6,561.1 L544.7,561.1 L545.8,561.2 L546.9,561.4 L548.1,561.7 L549.2,562.0 L550.3,562.5 L551.4,562.9 L552.4,563.5 L553.5,564.1 L554.6,564.7 L555.6,565.4 L556.7,566.1 L557.7,566.8 L558.7,567.5 L559.7,568.2 L560.7,569.0 L561.7,569.7 L562.6,570.5 L563.6,571.3 L564.5,572.0 L565.4,572.8 L566.4,573.6 L567.3,574.4 L568.2,575.2 L569.1,576.0 L570.0,576.8 L570.9,577.6 L571.8,578.4 L572.7,579.2 L573.6,580.0 L574.5,580.8 L575.4,581.6 L576.3,582.4 L577.2,583.1 L578.1,583.9 L579.0,584.7 L580.0,585.4 L580.9,586.2 L581.8,586.9 L582.7,587.6 L583.7,588.3 L584.6,589.0 L585.6,589.7 L586.6,590.4 L587.6,591.0 L588.6,591.7 L589.6,592.3 L590.6,592.9 L591.7,593.5 L592.7,594.0 L593.8,594.6 L594.9,595.1 L596.0,595.7 L597.0,596.2 L598.1,596.7 L599.2,597.2 L600.4,597.7 L601.5,598.2 L602.6,598.7 L603.7,599.1 L604.8,599.6 L605.9,600.1 L607.0,600.6 L608.1,601.1 L609.3,601.6 L610.4,602.0 L611.5,602.5 L612.6,603.0 L613.7,603.5 L614.8,604.0 L615.9,604.5 L617.0,605.0 L618.1,605.5 L619.2,605.9 L620.3,606.4 L621.4,606.9 L622.5,607.4 L623.6,607.9 L624.6,608.4 L625.7,608.8 L626.8,609.3 L627.9,609.8 L629.0,610.3 L630.1,610.7 L631.2,611.2 L632.3,611.7 L633.4,612.2 L634.5,612.6 L635.6,613.1 L636.7,613.5 L637.8,614.0 L638.9,614.4 L640.1,614.9 L641.2,615.3 L642.3,615.8 L643.4,616.2 L644.5,616.6 L645.6,617.0 L646.8,617.5 L647.9,617.9 L649.0,618.3 L650.1,618.7 L651.3,619.1 L652.4,619.5 L653.5,619.9 L654.7,620.2 L655.8,620.6 L657.0,621.0 L658.1,621.3 L659.3,621.7 L660.5,621.9 L661.6,622.1 L662.7,622.0 L663.8,621.8 L664.9,621.4 L666.0,620.8 L666.9,620.0 L667.7,619.0 L668.5,617.8 L669.0,616.5 L669.4,615.0 L669.5,614.5" stroke="#00ff00" stroke-dasharray="9 4.2"/>
<path d="M191.5,667.3 L192.7,667.1 L193.9,666.9 L195.1,666.8 L196.3,666.6 L197.4,666.4 L198.6,666.2 L199.8,666.1 L201.0,665.9 L202.2,665.7 L203.4,665.6 L204.6,665.4 L205.8,665.3 L207.0,665.1 L208.1,665.0 L209.3,664.8 L210.5,664.7 L211.7,664.5 L212.9,664.4 L214.1,664.2 L215.3,664.1 L216.5,663.9 L217.7,663.8 L218.9,663.7 L220.1,663.5 L221.3,663.4 L222.4,663.3 L223.6,663.1 L224.8,663.0 L226.0,662.9 L227.2,662.8 L228.4,662.6 L229.6,662.5 L230.8,662.4 L232.0,662.3 L233.2,662.1 L234.4,662.0 L235.6,661.9 L236.8,661.8 L238.0,661.7 L239.1,661.5 L240.3,661.4 L241.5,661.3 L242.7,661.2 L243.9,661.1 L245.1,661.0 L246.3,660.8 L247.5,660.7 L248.7,660.6 L249.9,660.5 L251.1,660.4 L252.3,660.2 L253.5,660.1 L254.7,660.0 L255.9,659.9 L257.1,659.8 L258.3,659.7 L259.4,659.5 L260.6,659.4 L261.8,659.3 L263.0,659.2 L264.2,659.1 L265.4,658.9 L266.6,658.8 L267.8,658.7 L269.0,658.6 L270.2,658.4 L271.4,658.3 L272.6,658.2 L273.8,658.0 L275.0,657.9 L276.2,657.8 L277.3,657.6 L278.5,657.5 L279.7,657.4 L280.9,657.2 L282.1,657.1 L283.3,656.9 L284.5,656.8 L285.7,656.6 L286.9,656.5 L288.1,656.4 L289.3,656.2 L290.5,656.1 L291.6,655.9 L292.8,655.8 L294.0,655.6 L295.2,655.5 L296.4,655.3 L297.6,655.2 L298.8,655.0 L300.0,654.9 L301.2,654.7 L302.4,654.6 L303.6,654.4 L304.8,654.3 L305.9,654.2 L307.1,654.0 L308.3,653.9 L309.5,653.8 L310.7,653.7 L311.9,653.6 L313.1,653.5 L314.3,653.3 L315.5,653.2 L316.7,653.1 L317.9,653.1 L319.1,653.0 L320.3,652.9 L321.5,652.8 L322.7,652.7 L323.9,652.7 L325.1,652.6 L326.3,652.6 L327.5,652.5 L328.7,652.5 L329.9,652.4 L331.1,652.4 L332.3,652.4 L333.5,652.4 L334.7,652.4 L335.9,652.4 L337.1,652.3 L338.3,652.3 L339.5,652.4 L340.7,652.4 L341.9,652.4 L343.1,652.4 L344.3,652.4 L345.5,652.5 L346.7,652.5 L347.9,652.5 L349.1,652.6 L350.3,652.6 L351.5,652.7 L352.7,652.7 L353.9,652.8 L355.1,652.9 L356.3,652.9 L357.5,653.0 L358.7,653.1 L359.9,653.2 L361.1,653.2 L362.3,653.3 L363.5,653.4 L364.7,653.5 L365.9,653.6 L367.0,653.7 L368.2,653.8 L369.4,653.9 L370.6,654.0 L371.8,654.2 L373.0,654.3 L374.2,654.4 L375.4,654.5 L376.6,654.6 L377.8,654.8 L379.0,654.9 L380.2,655.0 L381.4,655.2 L382.6,655.3 L383.8,655.5 L384.9,655.6 L386.1,655.8 L387.3,655.9 L388.5,656.1 L389.7,656.2 L390.9,656.4 L392.1,656.5 L393.3,656.7 L394.4,656.8 L395.6,657.0 L396.8,657.2 L398.0,657.4 L399.2,657.5 L400.3,657.7 L401.5,657.9 L402.7,658.1 L403.9,658.3 L405.1,658.6 L406.2,658.8 L407.4,659.1 L408.6,659.3 L409.8,659.6 L411.0,659.9 L412.2,660.3 L413.3,660.6 L414.5,661.0 L415.7,661.3 L416.9,661.6 L418.1,661.9 L419.3,662.1 L420.4,662.2 L421.6,662.3 L422.8,662.2 L423.9,662.1 L425.0,661.8 L426.2,661.4 L427.3,661.0 L428.4,660.6 L429.6,660.1 L430.7,659.7 L431.8,659.2 L433.0,658.8 L434.1,658.4 L435.2,657.9 L436.4,657.5 L437.5,657.0 L438.5,656.5 L439.6,656.0 L440.6,655.4 L441.6,654.7 L442.6,654.0 L443.5,653.3 L444.4,652.5 L445.3,651.7 L446.2,650.9 L447.0,650.1 L447.9,649.2 L448.7,648.3 L449.5,647.4 L450.4,646.5 L451.2,645.6 L452.0,644.7 L452.8,643.8 L453.6,642.9 L454.5,642.1 L455.3,641.2 L456.2,640.3 L457.0,639.5 L457.9,638.6 L458.7,637.8 L459.6,637.0 L460.5,636.2 L461.4,635.4 L462.3,634.6 L463.3,633.9 L464.2,633.2 L465.2,632.5 L466.2,631.9 L467.2,631.2 L468.3,630.6 L469.3,630.1 L470.4,629.5 L471.6,629.0 L472.7,628.6 L473.9,628.2 L475.0,627.9 L476.2,627.7 L477.4,627.6 L478.5,627.7 L479.7,627.8 L480.8,628.1 L481.9,628.5 L483.0,629.0 L484.1,629.5 L485.2,630.1 L486.2,630.8 L487.3,631.5 L488.4,632.2 L489.4,632.9 L490.5,633.6 L491.5,634.3 L492.6,635.0 L493.6,635.6 L494.7,636.2 L495.7,636.8 L496.8,637.4 L497.9,637.8 L498.9,638.2 L500.1,638.6 L501.2,638.8 L502.3,638.9 L503.5,639.0 L504.7,638.9 L505.9,638.8 L507.1,638.6 L508.2,638.3 L509.4,637.9 L510.6,637.5 L511.7,637.0 L512.8,636.5 L513.8,636.0 L514.9,635.4 L515.9,634.9 L516.9,634.2 L518.0,633.6 L519.0,633.0 L520.0,632.3 L521.0,631.6 L522.0,630.9 L523.0,630.3 L524.0,629.6 L525.0,628.9 L526.0,628.3 L527.1,627.6 L528.2,627.0 L529.2,626.4 L530.3,625.8 L531.4,625.3 L532.5,624.8 L533.6,624.3 L534.7,623.8 L535.8,623.4 L537.0,623.0 L538.1,622.6 L539.3,622.3 L540.4,622.0 L541.6,621.8 L542.8,621.6 L543.9,621.5 L545.1,621.4 L546.3,621.4 L547.5,621.4 L548.7,621.5 L549.8,621.6 L551.0,621.7 L552.2,621.8 L553.4,622.0 L554.6,622.2 L555.8,622.4 L557.0,622.6 L558.2,622.9 L559.4,623.1 L560.6,623.4 L561.8,623.6 L563.0,623.9 L564.2,624.1 L565.4,624.4 L566.6,624.6 L567.8,624.9 L568.9,625.1 L570.1,625.4 L571.3,625.6 L572.5,625.9 L573.7,626.1 L574.8,626.3 L576.0,626.6 L577.2,626.8 L578.3,627.1 L579.5,627.3 L580.7,627.5 L581.9,627.8 L583.0,628.0 L584.2,628.2 L585.4,628.5 L586.5,628.7 L587.7,628.9 L588.9,629.2 L590.1,629.4 L591.2,629.6 L592.4,629.9 L593.6,630.1 L594.7,630.3 L595.9,630.5 L597.1,630.8 L598.3,631.0 L599.4,631.2 L600.6,631.4 L601.8,631.7 L603.0,631.9 L604.2,632.1 L605.4,632.4 L606.5,632.6 L607.7,632.8 L608.9,633.0 L610.1,633.2 L611.3,633.5 L612.5,633.7 L613.7,633.9 L614.9,634.1 L616.1,634.2 L617.3,634.4 L618.4,634.6 L619.6,634.7 L620.8,634.9 L622.0,635.0 L623.2,635.1 L624.4,635.2 L625.6,635.3 L626.7,635.4 L627.9,635.5 L629.1,635.5 L630.3,635.6 L631.5,635.7 L632.6,635.8 L633.8,635.9 L635.0,636.0 L636.2,636.2 L637.4,636.5 L638.6,636.7 L639.8,637.1 L641.0,637.5 L642.2,637.9 L643.4,638.4 L644.6,639.0 L645.8,639.6 L647.0,640.1 L648.1,640.6 L649.2,640.9 L650.3,641.1 L651.2,641.1 L652.2,640.8 L653.0,640.3 L653.8,639.6 L654.6,638.8 L655.2,637.8 L655.9,636.7 L656.5,635.5 L657.2,634.3 L657.8,633.1 L658.4,631.9 L659.0,630.8 L659.6,629.7 L660.3,628.6 L660.9,627.6 L661.7,626.7 L662.4,626.0 L663.2,625.7 L663.9,625.7 L664.7,626.1 L665.5,626.8 L666.3,627.7 L667.1,628.8 L667.9,629.9 L668.6,631.0 L669.3,632.0 L669.5,632.3" stroke="#ff00ff" stroke-dasharray="2.5 3.05"/>
<path d="M191.5,672.7 L192.7,672.5 L193.9,672.3 L195.0,672.1 L196.2,671.9 L197.4,671.7 L198.6,671.5 L199.8,671.3 L201.0,671.2 L202.2,671.0 L203.3,670.8 L204.5,670.7 L205.7,670.5 L206.9,670.4 L208.1,670.2 L209.3,670.1 L210.5,669.9 L211.7,669.8 L212.9,669.6 L214.1,669.5 L215.3,669.4 L216.4,669.2 L217.6,669.1 L218.8,669.0 L220.0,668.8 L221.2,668.7 L222.4,668.6 L223.6,668.5 L224.8,668.4 L226.0,668.2 L227.2,668.1 L228.4,668.0 L229.6,667.9 L230.8,667.8 L232.0,667.7 L233.2,667.6 L234.4,667.4 L235.6,667.3 L236.8,667.2 L238.0,667.1 L239.2,667.0 L240.4,666.9 L241.6,666.8 L242.8,666.7 L243.9,666.6 L245.1,666.4 L246.3,666.3 L247.5,666.2 L248.7,666.1 L249.9,666.0 L251.1,665.9 L252.3,665.8 L253.5,665.6 L254.7,665.5 L255.9,665.4 L257.1,665.3 L258.3,665.1 L259.5,665.0 L260.7,664.9 L261.9,664.7 L263.1,664.6 L264.2,664.4 L265.4,664.3 L266.6,664.1 L267.8,664.0 L269.0,663.8 L270.2,663.7 L271.4,663.5 L272.6,663.4 L273.8,663.2 L274.9,663.0 L276.1,662.8 L277.3,662.6 L278.5,662.5 L279.7,662.3 L280.9,662.1 L282.0,661.9 L283.2,661.7 L284.4,661.4 L285.6,661.2 L286.8,661.0 L287.9,660.8 L289.1,660.5 L290.3,660.3 L291.5,660.1 L292.6,659.8 L293.8,659.5 L295.0,659.3 L296.2,659.0 L297.3,658.7 L298.5,658.5 L299.7,658.2 L300.8,657.9 L302.0,657.6 L303.2,657.3 L304.3,657.0 L305.5,656.7 L306.7,656.4 L307.8,656.1 L309.0,655.8 L310.2,655.5 L311.3,655.2 L312.5,654.9 L313.6,654.6 L314.8,654.3 L316.0,654.0 L317.1,653.7 L318.3,653.5 L319.5,653.2 L320.6,652.9 L321.8,652.6 L323.0,652.3 L324.1,652.0 L325.3,651.8 L326.5,651.5 L327.7,651.2 L328.8,651.0 L330.0,650.7 L331.2,650.5 L332.3,650.2 L333.5,650.0 L334.7,649.8 L335.9,649.6 L337.0,649.3 L338.2,649.1 L339.4,648.9 L340.6,648.7 L341.8,648.5 L342.9,648.3 L344.1,648.1 L345.3,647.9 L346.5,647.8 L347.7,647.6 L348.9,647.4 L350.0,647.2 L351.2,647.1 L352.4,646.9 L353.6,646.8 L354.8,646.6 L356.0,646.5 L357.2,646.3 L358.4,646.2 L359.6,646.1 L360.8,646.0 L361.9,645.8 L363.1,645.7 L364.3,645.6 L365.5,645.5 L366.7,645.4 L367.9,645.3 L369.1,645.2 L370.3,645.1 L371.5,645.0 L372.7,644.9 L373.9,644.9 L375.1,644.8 L376.3,644.7 L377.5,644.7 L378.7,644.6 L379.9,644.5 L381.1,644.5 L382.3,644.4 L383.5,644.4 L384.8,644.4 L386.0,644.3 L387.2,644.3 L388.4,644.3 L389.6,644.3 L390.8,644.4 L392.0,644.4 L393.2,644.4 L394.4,644.5 L395.6,644.6 L396.8,644.7 L397.9,644.8 L399.1,644.9 L400.3,645.1 L401.5,645.2 L402.7,645.4 L403.9,645.6 L405.0,645.9 L406.2,646.1 L407.4,646.4 L408.5,646.7 L409.7,647.0 L410.9,647.3 L412.0,647.6 L413.2,647.9 L414.4,648.3 L415.5,648.6 L416.7,648.9 L417.8,649.2 L419.0,649.5 L420.2,649.8 L421.4,650.1 L422.5,650.3 L423.7,650.5 L424.9,650.7 L426.1,650.9 L427.3,651.0 L428.5,651.1 L429.7,651.1 L430.9,651.1 L432.1,651.1 L433.3,651.0 L434.6,650.9 L435.8,650.7 L436.9,650.5 L438.1,650.2 L439.2,649.8 L440.3,649.4 L441.4,648.9 L442.4,648.4 L443.4,647.8 L444.4,647.1 L445.3,646.4 L446.2,645.7 L447.1,644.9 L447.9,644.1 L448.8,643.2 L449.5,642.3 L450.3,641.3 L451.0,640.4 L451.8,639.4 L452.5,638.4 L453.1,637.3 L453.8,636.3 L454.4,635.2 L455.1,634.1 L455.7,633.0 L456.3,631.9 L456.8,630.8 L457.4,629.7 L458.0,628.7 L458.5,627.6 L459.1,626.5 L459.6,625.4 L460.2,624.3 L460.7,623.3 L461.2,622.2 L461.7,621.1 L462.2,620.0 L462.7,619.0 L463.2,617.9 L463.7,616.9 L464.2,615.8 L464.7,614.7 L465.2,613.7 L465.7,612.6 L466.2,611.5 L466.8,610.5 L467.3,609.4 L467.8,608.4 L468.3,607.3 L468.8,606.2 L469.3,605.2 L469.9,604.1 L470.4,603.0 L471.0,602.0 L471.5,600.9 L472.1,599.8 L472.7,598.7 L473.3,597.6 L473.9,596.6 L474.5,595.5 L475.2,594.4 L475.9,593.4 L476.6,592.4 L477.4,591.4 L478.3,590.4 L479.2,589.5 L480.1,588.7 L481.1,588.1 L482.1,587.6 L483.1,587.4 L484.1,587.5 L485.0,587.9 L485.9,588.5 L486.8,589.3 L487.6,590.2 L488.4,591.3 L489.1,592.4 L489.8,593.5 L490.4,594.6 L490.9,595.7 L491.5,596.8 L492.0,597.9 L492.4,599.1 L492.9,600.2 L493.3,601.3 L493.8,602.4 L494.2,603.6 L494.6,604.7 L495.0,605.8 L495.5,606.9 L495.9,608.0 L496.3,609.1 L496.8,610.2 L497.2,611.3 L497.7,612.3 L498.1,613.4 L498.6,614.5 L499.1,615.5 L499.6,616.5 L500.1,617.6 L500.7,618.6 L501.2,619.7 L501.8,620.8 L502.3,621.8 L502.9,622.9 L503.5,624.0 L504.1,625.1 L504.8,626.3 L505.4,627.4 L506.1,628.6 L506.8,629.6 L507.6,630.7 L508.4,631.5 L509.3,632.3 L510.2,632.9 L511.2,633.3 L512.2,633.6 L513.3,633.8 L514.4,633.8 L515.6,633.7 L516.7,633.5 L517.9,633.2 L519.1,632.9 L520.2,632.5 L521.4,632.0 L522.6,631.4 L523.7,630.9 L524.8,630.3 L525.9,629.7 L527.0,629.1 L528.1,628.5 L529.2,628.0 L530.3,627.4 L531.4,626.9 L532.5,626.5 L533.6,626.1 L534.8,625.8 L535.9,625.5 L537.1,625.3 L538.3,625.1 L539.4,625.0 L540.6,625.0 L541.8,625.0 L543.0,625.0 L544.1,625.1 L545.3,625.2 L546.5,625.3 L547.7,625.5 L548.9,625.7 L550.0,626.0 L551.2,626.3 L552.4,626.6 L553.5,627.0 L554.7,627.3 L555.8,627.7 L556.9,628.2 L558.1,628.6 L559.2,629.1 L560.3,629.6 L561.4,630.1 L562.4,630.6 L563.5,631.1 L564.6,631.7 L565.7,632.2 L566.7,632.8 L567.8,633.3 L568.9,633.9 L569.9,634.5 L571.0,635.1 L572.1,635.6 L573.1,636.2 L574.2,636.8 L575.2,637.4 L576.3,637.9 L577.4,638.5 L578.4,639.0 L579.5,639.5 L580.6,640.0 L581.7,640.5 L582.8,641.0 L583.9,641.5 L585.0,641.9 L586.1,642.3 L587.2,642.7 L588.4,643.1 L589.5,643.4 L590.6,643.8 L591.8,644.0 L593.0,644.3 L594.2,644.6 L595.3,644.8 L596.5,645.0 L597.7,645.2 L598.9,645.4 L600.1,645.6 L601.3,645.8 L602.5,646.0 L603.7,646.2 L604.9,646.3 L606.1,646.5 L607.3,646.7 L608.5,647.0 L609.7,647.2 L610.9,647.4 L612.1,647.6 L613.2,647.9 L614.4,648.1 L615.6,648.4 L616.8,648.7 L617.9,648.9 L619.1,649.2 L620.3,649.4 L621.4,649.7 L622.6,650.0 L623.8,650.3 L624.9,650.5 L626.1,650.8 L627.3,651.1 L628.4,651.3 L629.6,651.6 L630.8,651.8 L631.9,652.1 L633.1,652.4 L634.3,652.6 L635.4,652.8 L636.6,653.1 L637.8,653.3 L639.0,653.5 L640.1,653.7 L641.3,653.9 L642.5,654.1 L643.7,654.2 L644.9,654.4 L646.1,654.6 L647.3,654.7 L648.5,654.9 L649.7,655.1 L650.9,655.2 L652.1,655.4 L653.2,655.6 L654.4,655.8 L655.6,656.0 L656.8,656.2 L658.0,656.4 L659.2,656.6 L660.3,656.8 L661.5,657.1 L662.7,657.4 L663.8,657.7 L665.0,658.0 L666.1,658.3 L667.3,658.7 L668.4,659.1 L669.5,659.5" stroke="#00ffff" stroke-dasharray="11.3 4.2 2.3 4.4"/>
<path d="M191.5,672.1 L192.7,671.9 L193.9,671.7 L195.1,671.5 L196.2,671.3 L197.4,671.2 L198.6,671.0 L199.8,670.8 L201.0,670.6 L202.2,670.5 L203.4,670.3 L204.6,670.2 L205.7,670.0 L206.9,669.8 L208.1,669.7 L209.3,669.5 L210.5,669.4 L211.7,669.3 L212.9,669.1 L214.1,669.0 L215.3,668.8 L216.5,668.7 L217.7,668.6 L218.9,668.4 L220.0,668.3 L221.2,668.2 L222.4,668.1 L223.6,667.9 L224.8,667.8 L226.0,667.7 L227.2,667.6 L228.4,667.4 L229.6,667.3 L230.8,667.2 L232.0,667.1 L233.2,667.0 L234.4,666.8 L235.6,666.7 L236.8,666.6 L238.0,666.5 L239.2,666.4 L240.4,666.3 L241.5,666.1 L242.7,666.0 L243.9,665.9 L245.1,665.8 L246.3,665.7 L247.5,665.6 L248.7,665.4 L249.9,665.3 L251.1,665.2 L252.3,665.1 L253.5,665.0 L254.7,664.8 L255.9,664.7 L257.1,664.6 L258.3,664.4 L259.5,664.3 L260.6,664.2 L261.8,664.0 L263.0,663.9 L264.2,663.8 L265.4,663.6 L266.6,663.5 L267.8,663.3 L269.0,663.2 L270.2,663.0 L271.4,662.9 L272.5,662.7 L273.7,662.5 L274.9,662.4 L276.1,662.2 L277.3,662.0 L278.5,661.8 L279.7,661.6 L280.8,661.5 L282.0,661.3 L283.2,661.1 L284.4,660.8 L285.6,660.6 L286.8,660.4 L287.9,660.2 L289.1,660.0 L290.3,659.7 L291.5,659.5 L292.6,659.2 L293.8,659.0 L295.0,658.7 L296.2,658.5 L297.3,658.2 L298.5,657.9 L299.7,657.6 L300.8,657.3 L302.0,657.1 L303.2,656.8 L304.4,656.5 L305.5,656.2 L306.7,655.9 L307.9,655.6 L309.0,655.3 L310.2,655.0 L311.4,654.8 L312.5,654.5 L313.7,654.2 L314.9,653.9 L316.0,653.6 L317.2,653.4 L318.4,653.1 L319.6,652.8 L320.7,652.6 L321.9,652.3 L323.1,652.1 L324.2,651.8 L325.4,651.6 L326.6,651.4 L327.8,651.2 L329.0,651.0 L330.1,650.8 L331.3,650.6 L332.5,650.4 L333.7,650.2 L334.9,650.1 L336.0,649.9 L337.2,649.7 L338.4,649.6 L339.6,649.5 L340.8,649.3 L342.0,649.2 L343.2,649.0 L344.4,648.9 L345.5,648.8 L346.7,648.7 L347.9,648.6 L349.1,648.4 L350.3,648.3 L351.5,648.2 L352.7,648.1 L353.9,648.0 L355.1,647.9 L356.3,647.8 L357.5,647.7 L358.7,647.6 L359.9,647.5 L361.1,647.4 L362.3,647.3 L363.5,647.2 L364.7,647.1 L365.9,647.0 L367.1,646.9 L368.3,646.8 L369.5,646.7 L370.7,646.6 L371.9,646.5 L373.1,646.4 L374.3,646.3 L375.5,646.2 L376.8,646.1 L378.0,646.1 L379.2,646.0 L380.4,646.0 L381.6,645.9 L382.8,645.9 L383.9,645.9 L385.1,645.9 L386.3,645.9 L387.5,645.9 L388.7,645.9 L389.9,645.9 L391.1,646.0 L392.3,646.0 L393.5,646.1 L394.6,646.2 L395.8,646.3 L397.0,646.4 L398.2,646.5 L399.4,646.7 L400.5,646.8 L401.7,647.0 L402.9,647.1 L404.1,647.3 L405.2,647.5 L406.4,647.7 L407.6,647.9 L408.8,648.2 L410.0,648.4 L411.2,648.6 L412.3,648.9 L413.5,649.1 L414.7,649.4 L415.9,649.7 L417.1,650.0 L418.3,650.3 L419.5,650.6 L420.7,650.9 L421.9,651.2 L423.1,651.4 L424.3,651.7 L425.5,651.9 L426.7,652.1 L427.9,652.2 L429.1,652.3 L430.3,652.3 L431.5,652.3 L432.7,652.2 L433.8,652.0 L435.0,651.8 L436.1,651.5 L437.2,651.1 L438.4,650.7 L439.4,650.3 L440.5,649.8 L441.6,649.2 L442.6,648.6 L443.6,647.9 L444.6,647.3 L445.6,646.5 L446.5,645.8 L447.4,645.0 L448.3,644.2 L449.1,643.3 L450.0,642.4 L450.8,641.5 L451.5,640.6 L452.3,639.7 L453.0,638.7 L453.7,637.7 L454.3,636.7 L455.0,635.7 L455.6,634.7 L456.2,633.6 L456.8,632.6 L457.4,631.5 L457.9,630.4 L458.5,629.3 L459.0,628.2 L459.6,627.1 L460.1,626.0 L460.6,624.9 L461.1,623.8 L461.6,622.7 L462.1,621.6 L462.5,620.5 L463.0,619.4 L463.5,618.3 L464.0,617.2 L464.5,616.1 L465.0,615.0 L465.4,614.0 L465.9,612.9 L466.4,611.9 L467.0,610.8 L467.5,609.8 L468.0,608.8 L468.5,607.7 L469.1,606.7 L469.6,605.6 L470.2,604.5 L470.7,603.4 L471.3,602.3 L471.9,601.1 L472.5,599.9 L473.1,598.7 L473.8,597.4 L474.4,596.2 L475.1,595.1 L475.8,594.1 L476.5,593.3 L477.3,592.7 L478.1,592.3 L479.0,592.1 L479.8,592.3 L480.8,592.7 L481.7,593.3 L482.6,594.1 L483.5,595.0 L484.4,596.0 L485.2,597.1 L486.0,598.1 L486.7,599.2 L487.3,600.3 L488.0,601.4 L488.5,602.5 L489.1,603.6 L489.6,604.7 L490.1,605.9 L490.6,607.0 L491.1,608.1 L491.5,609.2 L492.0,610.3 L492.4,611.4 L492.9,612.5 L493.4,613.6 L493.8,614.6 L494.3,615.7 L494.8,616.7 L495.3,617.8 L495.9,618.8 L496.5,619.9 L497.1,620.9 L497.7,621.9 L498.4,622.9 L499.1,624.0 L499.9,625.0 L500.7,625.9 L501.5,626.9 L502.4,627.8 L503.3,628.7 L504.2,629.5 L505.1,630.2 L506.1,630.9 L507.1,631.6 L508.2,632.1 L509.2,632.5 L510.3,632.9 L511.4,633.2 L512.6,633.3 L513.7,633.3 L514.9,633.2 L516.0,633.0 L517.2,632.7 L518.4,632.4 L519.5,632.0 L520.7,631.5 L521.8,631.0 L523.0,630.4 L524.1,629.9 L525.2,629.3 L526.3,628.8 L527.5,628.2 L528.6,627.7 L529.7,627.2 L530.8,626.7 L531.9,626.3 L533.1,625.9 L534.2,625.5 L535.4,625.3 L536.5,625.1 L537.7,624.9 L538.9,624.8 L540.0,624.7 L541.2,624.6 L542.4,624.6 L543.6,624.7 L544.7,624.8 L545.9,624.9 L547.1,625.1 L548.3,625.2 L549.5,625.5 L550.6,625.7 L551.8,626.0 L553.0,626.3 L554.1,626.7 L555.2,627.0 L556.4,627.4 L557.5,627.8 L558.6,628.3 L559.7,628.7 L560.9,629.2 L562.0,629.7 L563.1,630.2 L564.1,630.7 L565.2,631.2 L566.3,631.7 L567.4,632.3 L568.5,632.8 L569.5,633.4 L570.6,633.9 L571.7,634.4 L572.8,635.0 L573.9,635.5 L574.9,636.1 L576.0,636.6 L577.1,637.1 L578.2,637.7 L579.3,638.2 L580.4,638.7 L581.4,639.1 L582.5,639.6 L583.7,640.1 L584.8,640.5 L585.9,640.9 L587.0,641.3 L588.2,641.7 L589.3,642.0 L590.5,642.3 L591.6,642.6 L592.8,642.9 L594.0,643.1 L595.2,643.3 L596.3,643.6 L597.5,643.8 L598.7,644.0 L599.9,644.1 L601.1,644.3 L602.3,644.5 L603.5,644.7 L604.7,644.9 L605.9,645.1 L607.1,645.3 L608.3,645.5 L609.5,645.7 L610.7,645.9 L611.9,646.1 L613.0,646.4 L614.2,646.6 L615.4,646.8 L616.6,647.1 L617.7,647.3 L618.9,647.6 L620.1,647.8 L621.2,648.1 L622.4,648.4 L623.6,648.6 L624.7,648.9 L625.9,649.2 L627.1,649.4 L628.2,649.7 L629.4,649.9 L630.6,650.2 L631.7,650.4 L632.9,650.7 L634.1,650.9 L635.3,651.2 L636.4,651.4 L637.6,651.7 L638.8,651.9 L640.0,652.1 L641.2,652.3 L642.3,652.5 L643.5,652.7 L644.7,652.9 L645.9,653.0 L647.1,653.1 L648.3,653.2 L649.5,653.3 L650.7,653.3 L651.9,653.3 L653.1,653.3 L654.3,653.3 L655.5,653.4 L656.7,653.5 L657.9,653.6 L659.0,653.8 L660.2,654.1 L661.3,654.5 L662.4,654.9 L663.6,655.3 L664.7,655.8 L665.8,656.3 L666.9,656.8 L667.9,657.4 L669.0,657.9 L669.5,658.2" stroke="#0000ff" stroke-dasharray="4.7 6.4"/>
<path d="M191.5,671.5 L192.7,671.3 L193.9,671.1 L195.0,670.9 L196.2,670.7 L197.4,670.5 L198.6,670.3 L199.8,670.1 L201.0,670.0 L202.2,669.8 L203.4,669.6 L204.5,669.5 L205.7,669.3 L206.9,669.1 L208.1,669.0 L209.3,668.9 L210.5,668.7 L211.7,668.6 L212.9,668.4 L214.1,668.3 L215.3,668.2 L216.5,668.0 L217.7,667.9 L218.8,667.8 L220.0,667.7 L221.2,667.6 L222.4,667.4 L223.6,667.3 L224.8,667.2 L226.0,667.1 L227.2,667.0 L228.4,666.9 L229.6,666.8 L230.8,666.7 L232.0,666.6 L233.2,666.5 L234.4,666.4 L235.6,666.2 L236.8,666.1 L238.0,666.0 L239.2,665.9 L240.4,665.8 L241.6,665.7 L242.8,665.6 L244.0,665.5 L245.2,665.4 L246.4,665.3 L247.5,665.2 L248.7,665.0 L249.9,664.9 L251.1,664.8 L252.3,664.7 L253.5,664.6 L254.7,664.4 L255.9,664.3 L257.1,664.2 L258.3,664.0 L259.5,663.9 L260.7,663.7 L261.9,663.6 L263.1,663.4 L264.2,663.3 L265.4,663.1 L266.6,663.0 L267.8,662.8 L269.0,662.6 L270.2,662.5 L271.4,662.3 L272.6,662.1 L273.7,661.9 L274.9,661.7 L276.1,661.5 L277.3,661.3 L278.5,661.1 L279.6,660.9 L280.8,660.7 L282.0,660.4 L283.2,660.2 L284.4,660.0 L285.5,659.7 L286.7,659.5 L287.9,659.3 L289.1,659.0 L290.2,658.8 L291.4,658.5 L292.6,658.3 L293.8,658.0 L294.9,657.8 L296.1,657.5 L297.3,657.3 L298.5,657.0 L299.6,656.8 L300.8,656.5 L302.0,656.3 L303.2,656.0 L304.3,655.8 L305.5,655.5 L306.7,655.3 L307.9,655.0 L309.0,654.8 L310.2,654.5 L311.4,654.3 L312.6,654.1 L313.7,653.8 L314.9,653.6 L316.1,653.4 L317.3,653.2 L318.5,652.9 L319.6,652.7 L320.8,652.5 L322.0,652.3 L323.2,652.1 L324.4,651.9 L325.5,651.8 L326.7,651.6 L327.9,651.4 L329.1,651.2 L330.3,651.1 L331.5,650.9 L332.7,650.8 L333.8,650.6 L335.0,650.5 L336.2,650.3 L337.4,650.2 L338.6,650.1 L339.8,650.0 L341.0,649.8 L342.2,649.7 L343.4,649.6 L344.6,649.5 L345.8,649.4 L347.0,649.3 L348.1,649.2 L349.3,649.1 L350.5,649.0 L351.7,648.9 L352.9,648.8 L354.1,648.7 L355.3,648.6 L356.5,648.5 L357.7,648.4 L358.9,648.3 L360.1,648.2 L361.3,648.1 L362.5,648.0 L363.7,647.9 L364.9,647.8 L366.1,647.7 L367.3,647.6 L368.5,647.5 L369.7,647.4 L370.9,647.3 L372.1,647.2 L373.3,647.1 L374.5,647.0 L375.7,646.9 L376.9,646.9 L378.1,646.8 L379.3,646.8 L380.5,646.7 L381.7,646.7 L382.9,646.6 L384.1,646.6 L385.3,646.6 L386.5,646.6 L387.7,646.6 L388.9,646.6 L390.1,646.6 L391.2,646.7 L392.4,646.7 L393.6,646.8 L394.8,646.9 L396.0,647.0 L397.2,647.1 L398.4,647.2 L399.6,647.4 L400.8,647.5 L402.0,647.7 L403.2,647.9 L404.3,648.1 L405.5,648.4 L406.7,648.6 L407.9,648.9 L409.1,649.2 L410.3,649.5 L411.5,649.8 L412.7,650.1 L413.8,650.4 L415.0,650.7 L416.2,651.0 L417.4,651.2 L418.6,651.5 L419.7,651.8 L420.9,652.0 L422.1,652.2 L423.3,652.4 L424.5,652.5 L425.7,652.7 L426.8,652.8 L428.0,652.8 L429.2,652.8 L430.4,652.8 L431.6,652.7 L432.7,652.6 L433.9,652.4 L435.1,652.2 L436.2,651.9 L437.4,651.6 L438.5,651.3 L439.6,650.9 L440.7,650.4 L441.8,649.9 L442.8,649.4 L443.9,648.8 L444.9,648.2 L445.9,647.5 L446.8,646.8 L447.7,646.0 L448.6,645.2 L449.5,644.3 L450.3,643.4 L451.0,642.5 L451.8,641.5 L452.5,640.5 L453.2,639.5 L453.8,638.4 L454.5,637.4 L455.1,636.3 L455.7,635.2 L456.3,634.1 L456.8,633.0 L457.4,631.9 L457.9,630.8 L458.5,629.7 L459.0,628.6 L459.5,627.5 L460.0,626.5 L460.5,625.4 L461.0,624.3 L461.5,623.3 L462.0,622.2 L462.5,621.2 L463.0,620.1 L463.5,619.0 L464.0,618.0 L464.6,616.9 L465.1,615.9 L465.6,614.8 L466.1,613.8 L466.7,612.7 L467.2,611.6 L467.8,610.6 L468.4,609.5 L469.0,608.4 L469.6,607.3 L470.2,606.2 L470.8,605.1 L471.5,604.0 L472.2,602.9 L472.9,601.8 L473.6,600.7 L474.3,599.6 L475.1,598.6 L475.9,597.7 L476.7,596.9 L477.6,596.3 L478.4,596.0 L479.3,595.8 L480.3,596.0 L481.2,596.4 L482.1,597.0 L483.1,597.7 L484.0,598.6 L484.9,599.6 L485.7,600.6 L486.5,601.7 L487.3,602.8 L488.0,603.9 L488.6,604.9 L489.2,606.0 L489.8,607.1 L490.4,608.2 L490.9,609.3 L491.5,610.3 L492.0,611.4 L492.5,612.5 L493.1,613.5 L493.6,614.6 L494.2,615.6 L494.7,616.6 L495.3,617.6 L495.9,618.6 L496.5,619.6 L497.2,620.6 L497.8,621.6 L498.5,622.6 L499.2,623.6 L500.0,624.7 L500.7,625.7 L501.5,626.7 L502.4,627.6 L503.2,628.5 L504.1,629.4 L505.1,630.1 L506.0,630.8 L507.1,631.4 L508.1,631.8 L509.2,632.1 L510.3,632.3 L511.4,632.5 L512.6,632.5 L513.8,632.4 L515.0,632.3 L516.2,632.1 L517.3,631.8 L518.5,631.5 L519.7,631.1 L520.9,630.7 L522.1,630.3 L523.2,629.8 L524.3,629.3 L525.4,628.8 L526.5,628.3 L527.6,627.8 L528.7,627.3 L529.8,626.8 L531.0,626.4 L532.1,626.0 L533.2,625.6 L534.4,625.3 L535.5,625.0 L536.7,624.8 L537.9,624.6 L539.1,624.5 L540.3,624.3 L541.5,624.3 L542.7,624.3 L543.9,624.3 L545.1,624.3 L546.3,624.4 L547.5,624.5 L548.6,624.7 L549.8,624.9 L551.0,625.1 L552.2,625.4 L553.4,625.7 L554.5,626.0 L555.7,626.4 L556.8,626.8 L557.9,627.2 L559.0,627.7 L560.1,628.2 L561.2,628.7 L562.3,629.2 L563.4,629.7 L564.4,630.3 L565.5,630.8 L566.6,631.4 L567.7,631.9 L568.7,632.5 L569.8,633.0 L570.9,633.6 L572.0,634.1 L573.1,634.6 L574.2,635.1 L575.3,635.6 L576.4,636.0 L577.5,636.5 L578.6,636.9 L579.7,637.3 L580.9,637.7 L582.0,638.1 L583.1,638.5 L584.3,638.9 L585.4,639.2 L586.6,639.5 L587.8,639.8 L588.9,640.1 L590.1,640.4 L591.3,640.7 L592.4,641.0 L593.6,641.2 L594.8,641.5 L595.9,641.7 L597.1,642.0 L598.3,642.2 L599.5,642.4 L600.7,642.6 L601.8,642.8 L603.0,643.1 L604.2,643.3 L605.4,643.5 L606.6,643.7 L607.7,644.0 L608.9,644.2 L610.1,644.4 L611.3,644.7 L612.4,644.9 L613.6,645.1 L614.8,645.4 L616.0,645.6 L617.1,645.9 L618.3,646.1 L619.5,646.4 L620.7,646.6 L621.8,646.9 L623.0,647.1 L624.2,647.4 L625.4,647.6 L626.5,647.9 L627.7,648.1 L628.9,648.3 L630.1,648.6 L631.2,648.8 L632.4,649.1 L633.6,649.3 L634.8,649.5 L636.0,649.8 L637.1,650.0 L638.3,650.2 L639.5,650.4 L640.7,650.7 L641.9,650.9 L643.0,651.1 L644.2,651.2 L645.4,651.4 L646.6,651.4 L647.8,651.5 L649.0,651.4 L650.2,651.4 L651.4,651.2 L652.6,651.1 L653.8,651.0 L655.0,650.9 L656.1,650.9 L657.3,651.0 L658.4,651.2 L659.6,651.5 L660.7,651.8 L661.8,652.3 L662.8,652.8 L663.9,653.4 L665.0,654.0 L666.0,654.7 L667.0,655.3 L668.0,656.0 L669.0,656.7 L669.5,657.0" stroke="#ff0000"/>
</g>
<rect x="191.5" y="736.5" width="478.0" height="267.9" fill="none" stroke="#000" stroke-width="2.7"/>
<path d="M231.33,1003.05v-5.9 M231.33,737.85v5.9 M271.17,1003.05v-5.9 M271.17,737.85v5.9 M311.00,1003.05v-5.9 M311.00,737.85v5.9 M350.83,1003.05v-12.9 M350.83,737.85v12.9 M390.67,1003.05v-5.9 M390.67,737.85v5.9 M430.50,1003.05v-5.9 M430.50,737.85v5.9 M470.33,1003.05v-5.9 M470.33,737.85v5.9 M510.17,1003.05v-12.9 M510.17,737.85v12.9 M550.00,1003.05v-5.9 M550.00,737.85v5.9 M589.83,1003.05v-5.9 M589.83,737.85v5.9 M629.67,1003.05v-5.9 M629.67,737.85v5.9 M192.85,1004.40h12.9 M668.15,1004.40h-12.9 M192.85,986.54h5.9 M668.15,986.54h-5.9 M192.85,968.68h5.9 M668.15,968.68h-5.9 M192.85,950.82h5.9 M668.15,950.82h-5.9 M192.85,932.96h5.9 M668.15,932.96h-5.9 M192.85,915.10h12.9 M668.15,915.10h-12.9 M192.85,897.24h5.9 M668.15,897.24h-5.9 M192.85,879.38h5.9 M668.15,879.38h-5.9 M192.85,861.52h5.9 M668.15,861.52h-5.9 M192.85,843.66h5.9 M668.15,843.66h-5.9 M192.85,825.80h12.9 M668.15,825.80h-12.9 M192.85,807.94h5.9 M668.15,807.94h-5.9 M192.85,790.08h5.9 M668.15,790.08h-5.9 M192.85,772.22h5.9 M668.15,772.22h-5.9 M192.85,754.36h5.9 M668.15,754.36h-5.9 M192.85,736.50h12.9 M668.15,736.50h-12.9" stroke="#000" stroke-width="2.3" fill="none"/>
<text x="195.0" y="1046.1" font-family="Liberation Serif, serif" font-size="31" text-anchor="middle">180</text>
<text x="354.3" y="1046.1" font-family="Liberation Serif, serif" font-size="31" text-anchor="middle">200</text>
<text x="513.7" y="1046.1" font-family="Liberation Serif, serif" font-size="31" text-anchor="middle">220</text>
<text x="673.0" y="1046.1" font-family="Liberation Serif, serif" font-size="31" text-anchor="middle">240</text>
<text x="172.5" y="1015.1" font-family="Liberation Serif, serif" font-size="31" text-anchor="end">0</text>
<text x="172.5" y="925.8" font-family="Liberation Serif, serif" font-size="31" text-anchor="end">0.015</text>
<text x="172.5" y="836.5" font-family="Liberation Serif, serif" font-size="31" text-anchor="end">0.03</text>
<text x="172.5" y="747.2" font-family="Liberation Serif, serif" font-size="31" text-anchor="end">0.045</text>
<g fill="none" stroke-width="5.0" stroke-linejoin="round">
<path d="M191.5,1000.5 L192.7,1000.5 L193.9,1000.5 L195.1,1000.6 L196.3,1000.6 L197.5,1000.6 L198.7,1000.6 L199.9,1000.6 L201.1,1000.6 L202.3,1000.7 L203.5,1000.7 L204.7,1000.7 L205.9,1000.7 L207.1,1000.7 L208.3,1000.7 L209.5,1000.7 L210.7,1000.7 L211.9,1000.7 L213.1,1000.8 L214.3,1000.8 L215.5,1000.8 L216.7,1000.8 L217.9,1000.8 L219.1,1000.8 L220.3,1000.8 L221.5,1000.8 L222.7,1000.8 L223.9,1000.8 L225.1,1000.8 L226.3,1000.8 L227.5,1000.8 L228.7,1000.8 L229.9,1000.8 L231.1,1000.8 L232.3,1000.8 L233.5,1000.8 L234.7,1000.8 L235.9,1000.8 L237.1,1000.8 L238.3,1000.8 L239.5,1000.8 L240.7,1000.8 L241.9,1000.8 L243.1,1000.8 L244.3,1000.8 L245.5,1000.8 L246.7,1000.7 L247.9,1000.7 L249.1,1000.7 L250.3,1000.7 L251.5,1000.7 L252.7,1000.7 L253.9,1000.7 L255.1,1000.7 L256.3,1000.7 L257.5,1000.6 L258.7,1000.6 L259.9,1000.6 L261.1,1000.6 L262.3,1000.6 L263.5,1000.6 L264.7,1000.6 L265.9,1000.5 L267.1,1000.5 L268.3,1000.5 L269.5,1000.5 L270.7,1000.5 L271.9,1000.4 L273.1,1000.4 L274.3,1000.4 L275.5,1000.4 L276.7,1000.3 L277.9,1000.3 L279.1,1000.3 L280.3,1000.3 L281.5,1000.3 L282.7,1000.2 L283.9,1000.2 L285.1,1000.2 L286.3,1000.1 L287.5,1000.1 L288.7,1000.1 L289.9,1000.1 L291.1,1000.0 L292.3,1000.0 L293.5,1000.0 L294.7,999.9 L295.9,999.9 L297.1,999.9 L298.3,999.8 L299.5,999.8 L300.7,999.8 L301.9,999.7 L303.1,999.7 L304.3,999.7 L305.5,999.6 L306.7,999.6 L307.9,999.5 L309.1,999.5 L310.3,999.5 L311.5,999.4 L312.7,999.4 L313.9,999.4 L315.1,999.3 L316.3,999.3 L317.5,999.2 L318.7,999.2 L319.9,999.1 L321.1,999.1 L322.3,999.1 L323.5,999.0 L324.7,999.0 L325.9,998.9 L327.1,998.9 L328.3,998.8 L329.5,998.8 L330.7,998.7 L331.9,998.7 L333.1,998.6 L334.3,998.6 L335.5,998.5 L336.7,998.5 L337.9,998.4 L339.1,998.4 L340.3,998.4 L341.5,998.3 L342.7,998.3 L343.9,998.2 L345.1,998.2 L346.3,998.2 L347.5,998.1 L348.7,998.1 L349.9,998.0 L351.1,998.0 L352.3,998.0 L353.5,998.0 L354.7,997.9 L355.9,997.9 L357.1,997.9 L358.3,997.9 L359.5,997.9 L360.7,997.9 L361.9,997.8 L363.1,997.8 L364.3,997.8 L365.5,997.8 L366.7,997.9 L367.9,997.9 L369.1,997.9 L370.3,997.9 L371.5,997.9 L372.7,997.9 L373.9,998.0 L375.1,998.0 L376.2,998.0 L377.4,998.1 L378.6,998.1 L379.8,998.2 L381.0,998.2 L382.2,998.3 L383.4,998.4 L384.6,998.4 L385.8,998.5 L387.0,998.6 L388.2,998.7 L389.4,998.8 L390.6,998.9 L391.8,999.0 L393.0,999.1 L394.2,999.2 L395.3,999.3 L396.5,999.5 L397.7,999.6 L398.9,999.8 L400.1,999.9 L401.3,1000.1 L402.5,1000.2 L403.7,1000.4 L404.8,1000.6 L406.0,1000.7 L407.2,1000.9 L408.4,1001.1 L409.6,1001.3 L410.8,1001.5 L411.9,1001.8 L413.1,1002.0 L414.3,1002.2 L415.5,1002.4 L416.7,1002.7 L417.9,1002.9 L419.0,1003.2 L420.2,1003.5 L421.4,1003.8 L422.6,1004.0 L423.7,1004.3 L424.0,1004.4" stroke="#000000" stroke-dasharray="4.7 4.35 4.7 8.5"/>
<path d="M456.9,1004.4 L458.1,1004.0 L459.2,1003.7 L460.3,1003.3 L461.5,1002.9 L462.6,1002.5 L463.8,1002.1 L464.9,1001.7 L466.0,1001.2 L467.1,1000.7 L468.2,1000.3 L469.3,999.8 L470.4,999.2 L471.5,998.7 L472.5,998.2 L473.6,997.6 L474.6,997.0 L475.7,996.4 L476.7,995.8 L477.7,995.1 L478.7,994.5 L479.6,993.8 L480.6,993.1 L481.5,992.3 L482.5,991.6 L483.4,990.9 L484.3,990.1 L485.2,989.3 L486.1,988.5 L487.0,987.7 L487.9,986.9 L488.7,986.1 L489.6,985.2 L490.5,984.4 L491.3,983.5 L492.2,982.7 L493.0,981.8 L493.8,980.9 L494.7,980.1 L495.5,979.2 L496.3,978.3 L497.2,977.5 L498.0,976.6 L498.8,975.7 L499.7,974.9 L500.5,974.0 L501.3,973.1 L502.2,972.3 L503.0,971.4 L503.9,970.6 L504.7,969.8 L505.6,968.9 L506.4,968.1 L507.3,967.3 L508.2,966.4 L509.0,965.6 L509.9,964.8 L510.8,964.0 L511.7,963.2 L512.6,962.4 L513.5,961.6 L514.4,960.8 L515.3,960.1 L516.2,959.3 L517.1,958.5 L518.0,957.7 L519.0,957.0 L519.9,956.2 L520.9,955.5 L521.8,954.7 L522.8,954.0 L523.8,953.3 L524.8,952.6 L525.8,952.0 L526.8,951.3 L527.9,950.7 L528.9,950.1 L530.0,949.5 L531.1,949.0 L532.2,948.5 L533.3,948.0 L534.4,947.6 L535.6,947.1 L536.7,946.8 L537.9,946.4 L539.1,946.1 L540.2,945.8 L541.4,945.6 L542.6,945.4 L543.8,945.3 L545.0,945.2 L546.1,945.1 L547.3,945.1 L548.5,945.1 L549.6,945.2 L550.8,945.3 L551.9,945.5 L553.1,945.7 L554.2,946.0 L555.3,946.3 L556.4,946.7 L557.5,947.0 L558.6,947.5 L559.7,947.9 L560.8,948.4 L561.9,948.9 L562.9,949.5 L564.0,950.1 L565.0,950.7 L566.1,951.3 L567.1,952.0 L568.1,952.6 L569.2,953.3 L570.2,954.0 L571.2,954.8 L572.2,955.5 L573.2,956.2 L574.2,957.0 L575.2,957.7 L576.1,958.5 L577.1,959.3 L578.1,960.0 L579.0,960.8 L580.0,961.6 L580.9,962.3 L581.9,963.1 L582.8,963.8 L583.7,964.6 L584.6,965.4 L585.6,966.1 L586.5,966.9 L587.4,967.7 L588.3,968.4 L589.2,969.2 L590.1,970.0 L591.1,970.7 L592.0,971.5 L592.9,972.3 L593.8,973.0 L594.7,973.8 L595.6,974.6 L596.5,975.3 L597.4,976.1 L598.3,976.9 L599.2,977.6 L600.1,978.4 L601.0,979.1 L601.9,979.9 L602.8,980.7 L603.7,981.4 L604.6,982.2 L605.6,982.9 L606.5,983.7 L607.4,984.4 L608.3,985.2 L609.3,985.9 L610.2,986.7 L611.1,987.5 L612.1,988.2 L613.0,988.9 L614.0,989.7 L614.9,990.4 L615.9,991.2 L616.9,991.9 L617.9,992.6 L618.8,993.3 L619.8,994.0 L620.8,994.7 L621.8,995.4 L622.8,996.0 L623.9,996.7 L624.9,997.3 L625.9,997.9 L627.0,998.5 L628.0,999.1 L629.1,999.7 L630.1,1000.2 L631.2,1000.7 L632.3,1001.2 L633.4,1001.7 L634.5,1002.1 L635.6,1002.5 L636.8,1002.9 L637.9,1003.3 L639.0,1003.6 L640.2,1003.9 L641.3,1004.2 L642.5,1004.5 L643.7,1004.7 L644.9,1004.9 L646.1,1005.1 L647.2,1005.3 L648.4,1005.4 L649.6,1005.5 L650.9,1005.6 L652.1,1005.7 L653.3,1005.7 L654.5,1005.7 L655.7,1005.7 L656.9,1005.7 L658.1,1005.7 L659.3,1005.6 L660.6,1005.5 L661.8,1005.4 L663.0,1005.3 L664.2,1005.2 L665.4,1005.0 L666.6,1004.9 L667.8,1004.7 L669.0,1004.5 L669.5,1004.4" stroke="#000000" stroke-dasharray="4.7 4.35 4.7 8.5"/>
<path d="M191.5,998.3 L192.7,998.1 L193.9,997.9 L195.0,997.7 L196.2,997.6 L197.4,997.4 L198.6,997.2 L199.8,997.0 L201.0,996.9 L202.1,996.7 L203.3,996.6 L204.5,996.4 L205.7,996.2 L206.9,996.1 L208.1,996.0 L209.3,995.8 L210.5,995.7 L211.7,995.5 L212.8,995.4 L214.0,995.3 L215.2,995.1 L216.4,995.0 L217.6,994.9 L218.8,994.8 L220.0,994.6 L221.2,994.5 L222.4,994.4 L223.6,994.3 L224.8,994.2 L226.0,994.1 L227.2,994.0 L228.4,993.9 L229.6,993.8 L230.8,993.7 L232.0,993.6 L233.2,993.5 L234.4,993.4 L235.6,993.3 L236.8,993.2 L238.0,993.1 L239.2,993.0 L240.4,992.9 L241.6,992.8 L242.8,992.7 L244.0,992.6 L245.2,992.5 L246.4,992.4 L247.6,992.3 L248.8,992.2 L250.0,992.2 L251.2,992.1 L252.4,992.0 L253.6,991.9 L254.8,991.8 L256.0,991.7 L257.2,991.6 L258.4,991.5 L259.6,991.4 L260.8,991.4 L262.0,991.3 L263.2,991.2 L264.4,991.1 L265.6,991.0 L266.8,990.9 L268.0,990.8 L269.2,990.7 L270.4,990.6 L271.6,990.5 L272.8,990.4 L274.0,990.3 L275.2,990.2 L276.4,990.1 L277.6,990.0 L278.8,989.9 L280.0,989.8 L281.1,989.7 L282.3,989.6 L283.5,989.5 L284.7,989.4 L285.9,989.2 L287.1,989.1 L288.3,989.0 L289.5,988.9 L290.7,988.8 L291.9,988.6 L293.1,988.5 L294.3,988.4 L295.5,988.2 L296.7,988.1 L297.9,987.9 L299.1,987.8 L300.2,987.7 L301.4,987.5 L302.6,987.3 L303.8,987.2 L305.0,987.0 L306.2,986.9 L307.4,986.7 L308.5,986.5 L309.7,986.4 L310.9,986.2 L312.1,986.0 L313.3,985.8 L314.5,985.6 L315.6,985.4 L316.8,985.2 L318.0,985.0 L319.2,984.8 L320.4,984.6 L321.5,984.4 L322.7,984.2 L323.9,984.0 L325.1,983.7 L326.2,983.5 L327.4,983.3 L328.6,983.0 L329.7,982.8 L330.9,982.5 L332.1,982.3 L333.2,982.0 L334.4,981.7 L335.6,981.5 L336.7,981.2 L337.9,980.9 L339.1,980.6 L340.2,980.3 L341.4,980.0 L342.5,979.7 L343.7,979.4 L344.9,979.1 L346.0,978.7 L347.2,978.4 L348.3,978.1 L349.5,977.7 L350.6,977.4 L351.8,977.0 L352.9,976.7 L354.1,976.3 L355.2,975.9 L356.3,975.5 L357.5,975.1 L358.6,974.7 L359.8,974.4 L360.9,974.0 L362.0,973.6 L363.2,973.2 L364.3,972.8 L365.5,972.4 L366.6,972.0 L367.7,971.6 L368.9,971.2 L370.0,970.8 L371.2,970.4 L372.3,970.0 L373.5,969.7 L374.6,969.3 L375.7,968.9 L376.9,968.6 L378.0,968.3 L379.2,967.9 L380.3,967.6 L381.5,967.3 L382.6,967.0 L383.8,966.7 L385.0,966.5 L386.1,966.2 L387.3,966.0 L388.5,965.8 L389.6,965.6 L390.8,965.4 L392.0,965.3 L393.2,965.1 L394.4,965.0 L395.5,964.8 L396.7,964.7 L397.9,964.6 L399.1,964.4 L400.3,964.3 L401.5,964.2 L402.8,964.1 L404.0,964.0 L405.2,963.9 L406.4,963.8 L407.6,963.7 L408.9,963.6 L410.1,963.5 L411.3,963.5 L412.5,963.5 L413.7,963.5 L414.9,963.5 L416.1,963.6 L417.3,963.7 L418.5,963.8 L419.7,963.9 L420.8,964.1 L422.0,964.4 L423.2,964.7 L424.3,965.0 L425.4,965.4 L426.5,965.8 L427.7,966.2 L428.8,966.7 L429.8,967.1 L430.9,967.7 L432.0,968.2 L433.0,968.8 L434.1,969.4 L435.1,970.0 L436.2,970.6 L437.2,971.2 L438.2,971.9 L439.2,972.5 L440.2,973.2 L441.2,973.9 L442.1,974.5 L443.1,975.2 L444.1,975.9 L445.1,976.5 L446.1,977.2 L447.1,977.8 L448.1,978.4 L449.2,979.0 L450.2,979.6 L451.3,980.1 L452.5,980.7 L453.6,981.2 L454.7,981.6 L455.9,982.1 L457.1,982.5 L458.3,982.8 L459.5,983.2 L460.6,983.4 L461.8,983.7 L463.0,983.9 L464.2,984.0 L465.4,984.1 L466.6,984.1 L467.8,984.1 L469.0,984.0 L470.2,983.8 L471.3,983.6 L472.5,983.4 L473.6,983.0 L474.7,982.7 L475.8,982.3 L476.9,981.8 L478.0,981.3 L479.0,980.8 L480.0,980.2 L481.1,979.5 L482.0,978.9 L483.0,978.1 L483.9,977.4 L484.9,976.6 L485.7,975.8 L486.6,975.0 L487.4,974.1 L488.2,973.2 L489.0,972.3 L489.7,971.3 L490.5,970.3 L491.2,969.3 L491.8,968.3 L492.5,967.3 L493.1,966.3 L493.7,965.2 L494.3,964.2 L494.9,963.1 L495.5,962.0 L496.1,961.0 L496.7,959.9 L497.2,958.8 L497.8,957.7 L498.3,956.6 L498.9,955.6 L499.4,954.5 L499.9,953.4 L500.4,952.3 L500.9,951.2 L501.5,950.1 L502.0,949.0 L502.5,947.9 L502.9,946.8 L503.4,945.7 L503.9,944.6 L504.4,943.5 L504.8,942.4 L505.3,941.3 L505.8,940.2 L506.2,939.1 L506.7,938.0 L507.1,936.9 L507.6,935.8 L508.0,934.7 L508.4,933.6 L508.9,932.5 L509.3,931.3 L509.7,930.2 L510.1,929.1 L510.5,928.0 L510.9,926.9 L511.4,925.7 L511.8,924.6 L512.2,923.5 L512.6,922.4 L513.0,921.2 L513.3,920.1 L513.7,919.0 L514.1,917.8 L514.5,916.7 L514.9,915.6 L515.3,914.4 L515.7,913.3 L516.0,912.2 L516.4,911.0 L516.8,909.9 L517.2,908.8 L517.5,907.6 L517.9,906.5 L518.3,905.3 L518.6,904.2 L519.0,903.1 L519.4,901.9 L519.7,900.8 L520.1,899.6 L520.5,898.5 L520.8,897.3 L521.2,896.2 L521.6,895.0 L521.9,893.9 L522.3,892.8 L522.7,891.6 L523.0,890.5 L523.4,889.3 L523.8,888.2 L524.1,887.0 L524.5,885.9 L524.9,884.7 L525.3,883.6 L525.6,882.4 L526.0,881.3 L526.4,880.2 L526.8,879.0 L527.1,877.9 L527.5,876.7 L527.9,875.6 L528.3,874.4 L528.7,873.3 L529.1,872.2 L529.5,871.0 L529.9,869.9 L530.2,868.7 L530.6,867.6 L531.0,866.5 L531.4,865.3 L531.9,864.2 L532.3,863.1 L532.7,861.9 L533.1,860.8 L533.5,859.7 L533.9,858.6 L534.3,857.4 L534.7,856.3 L535.2,855.2 L535.6,854.1 L536.0,853.0 L536.4,851.9 L536.9,850.7 L537.3,849.6 L537.7,848.5 L538.2,847.4 L538.6,846.3 L539.0,845.2 L539.5,844.1 L539.9,843.0 L540.4,841.9 L540.8,840.9 L541.3,839.8 L541.7,838.7 L542.2,837.6 L542.7,836.5 L543.1,835.5 L543.6,834.4 L544.1,833.3 L544.6,832.2 L545.1,831.2 L545.7,830.1 L546.2,829.0 L546.8,827.9 L547.3,826.9 L547.9,825.8 L548.6,824.7 L549.2,823.6 L549.9,822.5 L550.6,821.5 L551.3,820.4 L552.0,819.3 L552.8,818.2 L553.6,817.1 L554.4,816.0 L555.3,815.0 L556.2,813.9 L557.1,813.0 L558.0,812.1 L558.9,811.3 L559.9,810.5 L560.8,809.9 L561.8,809.4 L562.8,808.9 L563.8,808.6 L564.8,808.5 L565.8,808.4 L566.8,808.6 L567.8,808.8 L568.7,809.2 L569.7,809.7 L570.7,810.4 L571.7,811.1 L572.6,811.9 L573.6,812.7 L574.5,813.7 L575.4,814.7 L576.2,815.7 L577.1,816.8 L577.9,817.9 L578.6,819.0 L579.4,820.1 L580.1,821.2 L580.8,822.3 L581.4,823.4 L582.0,824.5 L582.6,825.6 L583.1,826.7 L583.7,827.8 L584.2,828.9 L584.6,830.0 L585.1,831.1 L585.6,832.2 L586.0,833.3 L586.4,834.4 L586.8,835.5 L587.2,836.6 L587.6,837.7 L588.0,838.8 L588.4,839.9 L588.7,841.1 L589.1,842.2 L589.5,843.3 L589.8,844.4 L590.2,845.6 L590.6,846.7 L590.9,847.9 L591.3,849.0 L591.6,850.1 L592.0,851.3 L592.4,852.4 L592.7,853.6 L593.1,854.7 L593.4,855.9 L593.8,857.0 L594.2,858.1 L594.5,859.3 L594.9,860.4 L595.3,861.6 L595.6,862.7 L596.0,863.9 L596.4,865.0 L596.8,866.1 L597.1,867.3 L597.5,868.4 L597.9,869.6 L598.3,870.7 L598.7,871.8 L599.0,873.0 L599.4,874.1 L599.8,875.3 L600.2,876.4 L600.6,877.5 L601.0,878.7 L601.4,879.8 L601.8,880.9 L602.2,882.1 L602.6,883.2 L602.9,884.3 L603.3,885.5 L603.7,886.6 L604.1,887.7 L604.5,888.9 L604.9,890.0 L605.3,891.1 L605.7,892.2 L606.1,893.4 L606.5,894.5 L606.9,895.6 L607.4,896.8 L607.8,897.9 L608.2,899.0 L608.6,900.1 L609.0,901.3 L609.4,902.4 L609.8,903.5 L610.2,904.7 L610.6,905.8 L611.0,906.9 L611.4,908.0 L611.8,909.2 L612.2,910.3 L612.6,911.4 L613.0,912.6 L613.5,913.7 L613.9,914.8 L614.3,915.9 L614.7,917.1 L615.1,918.2 L615.5,919.3 L615.9,920.5 L616.3,921.6 L616.7,922.7 L617.1,923.8 L617.5,925.0 L617.9,926.1 L618.3,927.2 L618.7,928.4 L619.1,929.5 L619.5,930.6 L619.9,931.7 L620.3,932.9 L620.7,934.0 L621.1,935.1 L621.5,936.3 L621.9,937.4 L622.3,938.5 L622.7,939.7 L623.1,940.8 L623.5,941.9 L623.9,943.1 L624.3,944.2 L624.7,945.3 L625.1,946.5 L625.5,947.6 L625.8,948.7 L626.2,949.9 L626.6,951.0 L627.0,952.2 L627.4,953.3 L627.8,954.4 L628.1,955.6 L628.5,956.7 L628.9,957.9 L629.3,959.0 L629.6,960.1 L630.0,961.3 L630.4,962.4 L630.8,963.5 L631.2,964.7 L631.6,965.8 L632.0,967.0 L632.3,968.1 L632.7,969.2 L633.1,970.4 L633.5,971.5 L633.9,972.6 L634.3,973.7 L634.7,974.9 L635.1,976.0 L635.6,977.1 L636.0,978.3 L636.4,979.4 L636.8,980.5 L637.3,981.6 L637.7,982.7 L638.2,983.8 L638.6,985.0 L639.1,986.1 L639.5,987.2 L640.0,988.3 L640.5,989.4 L641.0,990.5 L641.5,991.6 L642.0,992.7 L642.5,993.8 L643.0,994.8 L643.5,995.9 L644.0,997.0 L644.6,998.1 L645.2,999.1 L645.8,1000.1 L646.4,1001.1 L647.1,1002.1 L647.8,1003.1 L648.6,1004.0 L649.0,1004.4" stroke="#00ff00" stroke-dasharray="9 4.2"/>
<path d="M191.5,998.0 L192.7,998.0 L193.9,997.9 L195.1,997.9 L196.3,997.9 L197.5,997.8 L198.7,997.8 L199.9,997.7 L201.1,997.7 L202.3,997.7 L203.5,997.6 L204.7,997.6 L205.9,997.5 L207.1,997.5 L208.3,997.4 L209.5,997.4 L210.7,997.3 L211.9,997.3 L213.1,997.2 L214.3,997.2 L215.5,997.1 L216.7,997.1 L217.9,997.0 L219.1,997.0 L220.3,996.9 L221.5,996.8 L222.7,996.8 L223.9,996.7 L225.1,996.7 L226.3,996.6 L227.5,996.5 L228.7,996.5 L229.9,996.4 L231.1,996.3 L232.3,996.3 L233.5,996.2 L234.7,996.1 L235.9,996.1 L237.0,996.0 L238.2,995.9 L239.4,995.9 L240.6,995.8 L241.8,995.7 L243.0,995.7 L244.2,995.6 L245.4,995.5 L246.6,995.4 L247.8,995.4 L249.0,995.3 L250.2,995.2 L251.4,995.1 L252.6,995.1 L253.8,995.0 L255.0,994.9 L256.2,994.8 L257.4,994.7 L258.6,994.7 L259.8,994.6 L261.0,994.5 L262.2,994.4 L263.4,994.3 L264.6,994.3 L265.8,994.2 L267.0,994.1 L268.2,994.0 L269.4,993.9 L270.6,993.9 L271.8,993.8 L273.0,993.7 L274.2,993.6 L275.4,993.5 L276.6,993.4 L277.8,993.3 L279.0,993.3 L280.2,993.2 L281.4,993.1 L282.6,993.0 L283.8,992.9 L285.0,992.8 L286.2,992.7 L287.4,992.7 L288.5,992.6 L289.7,992.5 L290.9,992.4 L292.1,992.3 L293.3,992.2 L294.5,992.1 L295.7,992.0 L296.9,992.0 L298.1,991.9 L299.3,991.8 L300.5,991.7 L301.7,991.6 L302.9,991.5 L304.1,991.4 L305.3,991.3 L306.5,991.2 L307.7,991.2 L308.9,991.1 L310.1,991.0 L311.3,990.9 L312.5,990.8 L313.7,990.7 L314.9,990.6 L316.1,990.5 L317.3,990.5 L318.5,990.4 L319.7,990.3 L320.9,990.2 L322.1,990.1 L323.2,990.0 L324.4,989.9 L325.6,989.9 L326.8,989.8 L328.0,989.7 L329.2,989.6 L330.4,989.5 L331.6,989.4 L332.8,989.3 L334.0,989.3 L335.2,989.2 L336.4,989.1 L337.6,989.0 L338.8,988.9 L340.0,988.8 L341.2,988.8 L342.4,988.7 L343.6,988.6 L344.8,988.5 L346.0,988.4 L347.2,988.3 L348.4,988.3 L349.6,988.2 L350.8,988.1 L352.0,988.0 L353.2,987.9 L354.3,987.8 L355.5,987.7 L356.7,987.7 L357.9,987.6 L359.1,987.5 L360.3,987.4 L361.5,987.3 L362.7,987.2 L363.9,987.1 L365.1,987.0 L366.3,987.0 L367.5,986.9 L368.7,986.8 L369.9,986.7 L371.1,986.6 L372.3,986.5 L373.5,986.4 L374.7,986.3 L375.9,986.2 L377.1,986.1 L378.3,986.0 L379.5,985.9 L380.7,985.9 L381.9,985.8 L383.1,985.7 L384.3,985.6 L385.5,985.5 L386.7,985.5 L387.9,985.4 L389.1,985.3 L390.3,985.2 L391.5,985.2 L392.7,985.1 L393.9,985.1 L395.1,985.0 L396.3,985.0 L397.5,985.0 L398.7,984.9 L399.9,984.9 L401.1,984.9 L402.3,984.9 L403.5,984.9 L404.7,984.9 L405.9,984.9 L407.1,984.9 L408.3,985.0 L409.5,985.0 L410.7,985.0 L411.8,985.1 L413.0,985.2 L414.2,985.2 L415.4,985.3 L416.6,985.4 L417.8,985.5 L419.0,985.5 L420.2,985.6 L421.4,985.7 L422.6,985.9 L423.8,986.0 L425.0,986.1 L426.2,986.2 L427.4,986.3 L428.6,986.4 L429.8,986.6 L431.0,986.7 L432.1,986.9 L433.3,987.0 L434.5,987.1 L435.7,987.3 L436.9,987.4 L438.1,987.6 L439.3,987.7 L440.5,987.9 L441.7,988.1 L442.9,988.2 L444.1,988.4 L445.3,988.5 L446.5,988.7 L447.7,988.8 L448.9,989.0 L450.1,989.1 L451.3,989.3 L452.5,989.4 L453.7,989.5 L454.9,989.6 L456.1,989.7 L457.3,989.9 L458.5,989.9 L459.7,990.0 L460.9,990.1 L462.1,990.2 L463.3,990.2 L464.5,990.2 L465.7,990.3 L466.9,990.3 L468.1,990.3 L469.3,990.2 L470.5,990.2 L471.7,990.1 L472.9,990.0 L474.0,989.9 L475.2,989.8 L476.4,989.7 L477.6,989.5 L478.8,989.3 L479.9,989.1 L481.1,988.8 L482.3,988.6 L483.4,988.2 L484.6,987.9 L485.7,987.6 L486.8,987.2 L487.9,986.8 L489.1,986.4 L490.2,985.9 L491.3,985.5 L492.4,985.0 L493.5,984.5 L494.6,984.0 L495.6,983.5 L496.7,983.0 L497.8,982.5 L498.9,982.0 L500.0,981.4 L501.0,980.9 L502.1,980.3 L503.2,979.7 L504.3,979.2 L505.3,978.6 L506.4,978.1 L507.4,977.5 L508.5,976.9 L509.6,976.3 L510.6,975.8 L511.7,975.2 L512.8,974.6 L513.8,974.1 L514.9,973.5 L515.9,973.0 L517.0,972.4 L518.1,971.8 L519.1,971.3 L520.2,970.8 L521.3,970.2 L522.4,969.7 L523.4,969.2 L524.5,968.6 L525.6,968.1 L526.7,967.6 L527.8,967.1 L528.9,966.7 L530.0,966.2 L531.1,965.7 L532.2,965.2 L533.3,964.8 L534.4,964.4 L535.5,963.9 L536.6,963.5 L537.8,963.1 L538.9,962.7 L540.0,962.4 L541.2,962.0 L542.3,961.6 L543.5,961.3 L544.7,961.0 L545.9,960.7 L547.0,960.4 L548.2,960.1 L549.4,959.9 L550.6,959.7 L551.8,959.4 L553.0,959.3 L554.2,959.1 L555.4,958.9 L556.6,958.8 L557.8,958.7 L559.0,958.7 L560.1,958.6 L561.3,958.6 L562.5,958.6 L563.7,958.6 L564.9,958.7 L566.1,958.8 L567.2,958.9 L568.4,959.0 L569.6,959.2 L570.7,959.4 L571.9,959.7 L573.0,960.0 L574.1,960.3 L575.3,960.6 L576.4,961.0 L577.5,961.4 L578.6,961.9 L579.6,962.4 L580.7,962.9 L581.8,963.5 L582.8,964.0 L583.9,964.7 L584.9,965.3 L585.9,965.9 L587.0,966.6 L588.0,967.3 L589.0,968.0 L590.0,968.7 L591.0,969.4 L592.0,970.2 L592.9,970.9 L593.9,971.7 L594.9,972.4 L595.9,973.2 L596.8,973.9 L597.8,974.7 L598.7,975.5 L599.7,976.2 L600.6,977.0 L601.6,977.7 L602.5,978.5 L603.4,979.3 L604.4,980.0 L605.3,980.8 L606.2,981.5 L607.2,982.3 L608.1,983.0 L609.1,983.8 L610.0,984.5 L610.9,985.2 L611.9,986.0 L612.8,986.7 L613.8,987.4 L614.7,988.1 L615.7,988.8 L616.7,989.5 L617.6,990.2 L618.6,990.9 L619.6,991.5 L620.6,992.2 L621.6,992.9 L622.6,993.5 L623.6,994.1 L624.6,994.7 L625.6,995.3 L626.7,995.9 L627.7,996.5 L628.8,997.1 L629.8,997.6 L630.9,998.1 L632.0,998.7 L633.1,999.2 L634.2,999.6 L635.3,1000.1 L636.4,1000.5 L637.5,1000.9 L638.6,1001.3 L639.8,1001.7 L640.9,1002.0 L642.1,1002.3 L643.3,1002.6 L644.4,1002.9 L645.6,1003.1 L646.8,1003.3 L648.0,1003.4 L649.2,1003.6 L650.4,1003.7 L651.6,1003.8 L652.8,1003.8 L654.0,1003.9 L655.2,1003.9 L656.5,1003.9 L657.7,1003.9 L658.9,1003.9 L660.1,1003.9 L661.3,1003.9 L662.5,1003.8 L663.7,1003.8 L664.9,1003.7 L666.1,1003.7 L667.3,1003.7 L668.5,1003.6 L669.5,1003.6" stroke="#ff00ff" stroke-dasharray="2.5 3.05"/>
<path d="M191.5,1000.3 L192.7,1000.1 L193.8,999.9 L195.0,999.7 L196.2,999.6 L197.4,999.4 L198.6,999.2 L199.7,999.0 L200.9,998.9 L202.1,998.7 L203.3,998.6 L204.5,998.4 L205.7,998.3 L206.8,998.1 L208.0,998.0 L209.2,997.9 L210.4,997.7 L211.6,997.6 L212.8,997.5 L214.0,997.4 L215.2,997.3 L216.3,997.2 L217.5,997.1 L218.7,997.0 L219.9,996.9 L221.1,996.8 L222.3,996.7 L223.5,996.6 L224.7,996.5 L225.9,996.4 L227.1,996.3 L228.3,996.2 L229.5,996.2 L230.7,996.1 L231.9,996.0 L233.1,996.0 L234.3,995.9 L235.5,995.8 L236.7,995.8 L237.9,995.7 L239.1,995.6 L240.3,995.6 L241.5,995.5 L242.7,995.5 L243.9,995.4 L245.1,995.4 L246.3,995.3 L247.5,995.3 L248.7,995.2 L250.0,995.2 L251.2,995.1 L252.4,995.1 L253.6,995.0 L254.8,995.0 L256.0,995.0 L257.2,994.9 L258.4,994.9 L259.6,994.8 L260.8,994.8 L262.0,994.7 L263.2,994.7 L264.4,994.7 L265.6,994.6 L266.9,994.6 L268.1,994.5 L269.3,994.5 L270.5,994.5 L271.7,994.4 L272.9,994.4 L274.1,994.3 L275.3,994.3 L276.5,994.2 L277.7,994.2 L278.9,994.2 L280.1,994.1 L281.3,994.1 L282.5,994.0 L283.7,994.0 L285.0,993.9 L286.2,993.8 L287.4,993.8 L288.6,993.7 L289.8,993.7 L291.0,993.6 L292.2,993.5 L293.4,993.5 L294.6,993.4 L295.8,993.3 L297.0,993.3 L298.2,993.2 L299.4,993.1 L300.6,993.0 L301.8,992.9 L303.0,992.9 L304.2,992.8 L305.4,992.7 L306.6,992.6 L307.8,992.5 L309.0,992.4 L310.2,992.3 L311.4,992.2 L312.6,992.1 L313.8,992.0 L315.0,991.8 L316.1,991.7 L317.3,991.6 L318.5,991.5 L319.7,991.3 L320.9,991.2 L322.1,991.1 L323.3,990.9 L324.5,990.8 L325.7,990.6 L326.8,990.4 L328.0,990.3 L329.2,990.1 L330.4,989.9 L331.6,989.8 L332.8,989.6 L333.9,989.4 L335.1,989.2 L336.3,989.0 L337.5,988.8 L338.6,988.6 L339.8,988.4 L341.0,988.2 L342.2,987.9 L343.3,987.7 L344.5,987.5 L345.7,987.2 L346.8,987.0 L348.0,986.7 L349.2,986.5 L350.3,986.2 L351.5,985.9 L352.7,985.7 L353.8,985.4 L355.0,985.1 L356.1,984.8 L357.3,984.5 L358.4,984.2 L359.6,983.9 L360.8,983.5 L361.9,983.2 L363.1,982.9 L364.2,982.6 L365.4,982.3 L366.5,981.9 L367.7,981.6 L368.8,981.3 L370.0,981.0 L371.2,980.7 L372.3,980.4 L373.5,980.0 L374.6,979.7 L375.8,979.4 L377.0,979.1 L378.1,978.9 L379.3,978.6 L380.5,978.3 L381.6,978.0 L382.8,977.8 L384.0,977.5 L385.2,977.3 L386.4,977.1 L387.5,976.8 L388.7,976.6 L389.9,976.4 L391.1,976.3 L392.3,976.1 L393.5,975.9 L394.7,975.8 L395.9,975.7 L397.1,975.6 L398.4,975.5 L399.6,975.4 L400.8,975.3 L402.0,975.3 L403.2,975.2 L404.4,975.2 L405.6,975.2 L406.8,975.2 L408.0,975.3 L409.2,975.3 L410.4,975.4 L411.6,975.5 L412.8,975.6 L414.0,975.7 L415.2,975.9 L416.3,976.0 L417.5,976.2 L418.7,976.4 L419.8,976.7 L421.0,976.9 L422.2,977.2 L423.3,977.5 L424.5,977.8 L425.6,978.1 L426.7,978.5 L427.8,978.9 L429.0,979.3 L430.1,979.8 L431.2,980.2 L432.2,980.7 L433.3,981.2 L434.4,981.8 L435.5,982.3 L436.5,982.9 L437.6,983.4 L438.6,984.0 L439.7,984.6 L440.7,985.2 L441.8,985.7 L442.8,986.3 L443.9,986.9 L445.0,987.4 L446.0,988.0 L447.1,988.5 L448.2,989.0 L449.2,989.5 L450.3,990.0 L451.4,990.5 L452.6,991.0 L453.7,991.5 L454.8,991.9 L456.0,992.4 L457.2,992.8 L458.4,993.2 L459.6,993.5 L460.8,993.9 L462.0,994.2 L463.3,994.5 L464.5,994.7 L465.7,994.9 L467.0,995.0 L468.2,995.1 L469.4,995.1 L470.6,995.1 L471.8,995.0 L472.9,994.8 L474.0,994.6 L475.2,994.3 L476.2,993.9 L477.3,993.5 L478.3,993.0 L479.4,992.4 L480.3,991.8 L481.3,991.2 L482.2,990.5 L483.2,989.7 L484.1,989.0 L484.9,988.1 L485.8,987.3 L486.6,986.4 L487.4,985.5 L488.2,984.5 L488.9,983.6 L489.6,982.6 L490.3,981.6 L491.0,980.5 L491.6,979.5 L492.2,978.5 L492.8,977.4 L493.4,976.4 L494.0,975.3 L494.5,974.2 L495.0,973.1 L495.5,972.1 L496.0,971.0 L496.5,969.9 L496.9,968.7 L497.4,967.6 L497.8,966.5 L498.3,965.4 L498.7,964.3 L499.1,963.1 L499.5,962.0 L499.9,960.9 L500.3,959.7 L500.7,958.6 L501.1,957.5 L501.5,956.3 L502.0,955.2 L502.4,954.1 L502.8,952.9 L503.2,951.8 L503.6,950.7 L504.1,949.6 L504.5,948.4 L505.0,947.3 L505.4,946.2 L505.9,945.1 L506.4,944.0 L506.9,942.9 L507.3,941.8 L507.8,940.7 L508.3,939.6 L508.8,938.5 L509.3,937.4 L509.8,936.3 L510.3,935.3 L510.8,934.2 L511.3,933.1 L511.8,932.0 L512.2,930.9 L512.7,929.8 L513.2,928.7 L513.7,927.6 L514.2,926.5 L514.6,925.4 L515.1,924.3 L515.6,923.2 L516.0,922.1 L516.5,921.0 L516.9,919.9 L517.3,918.8 L517.7,917.6 L518.2,916.5 L518.6,915.4 L518.9,914.3 L519.3,913.1 L519.7,912.0 L520.1,910.8 L520.4,909.7 L520.8,908.5 L521.1,907.4 L521.4,906.2 L521.8,905.1 L522.1,903.9 L522.4,902.8 L522.7,901.6 L523.0,900.4 L523.4,899.3 L523.7,898.1 L524.0,896.9 L524.3,895.8 L524.6,894.6 L524.9,893.4 L525.2,892.3 L525.5,891.1 L525.8,889.9 L526.1,888.8 L526.4,887.6 L526.7,886.5 L527.0,885.3 L527.4,884.1 L527.7,883.0 L528.0,881.8 L528.4,880.7 L528.7,879.5 L529.0,878.4 L529.4,877.2 L529.8,876.1 L530.1,874.9 L530.5,873.8 L530.9,872.7 L531.3,871.5 L531.7,870.4 L532.1,869.3 L532.6,868.2 L533.0,867.1 L533.5,866.0 L533.9,864.9 L534.4,863.8 L534.9,862.7 L535.3,861.6 L535.8,860.5 L536.3,859.4 L536.8,858.3 L537.3,857.2 L537.8,856.1 L538.2,855.0 L538.7,853.9 L539.2,852.8 L539.7,851.7 L540.1,850.6 L540.6,849.5 L541.0,848.4 L541.5,847.3 L541.9,846.1 L542.3,845.0 L542.8,843.9 L543.2,842.8 L543.7,841.7 L544.2,840.6 L544.6,839.5 L545.1,838.4 L545.6,837.3 L546.2,836.2 L546.7,835.1 L547.3,834.0 L548.0,832.9 L548.6,831.9 L549.3,830.8 L550.0,829.8 L550.8,828.8 L551.6,827.8 L552.5,826.8 L553.4,825.8 L554.3,824.9 L555.3,824.1 L556.2,823.3 L557.2,822.5 L558.3,821.8 L559.3,821.2 L560.4,820.7 L561.4,820.3 L562.5,819.9 L563.6,819.7 L564.7,819.6 L565.8,819.6 L566.9,819.7 L568.0,820.0 L569.0,820.3 L570.1,820.7 L571.1,821.3 L572.2,821.9 L573.2,822.5 L574.2,823.3 L575.2,824.1 L576.1,825.0 L577.0,825.9 L577.9,826.8 L578.8,827.8 L579.6,828.8 L580.4,829.8 L581.2,830.8 L581.9,831.9 L582.6,832.9 L583.2,834.0 L583.8,835.0 L584.4,836.1 L585.0,837.2 L585.5,838.2 L586.0,839.3 L586.6,840.4 L587.0,841.5 L587.5,842.6 L588.0,843.8 L588.4,844.9 L588.8,846.0 L589.2,847.1 L589.7,848.2 L590.1,849.4 L590.5,850.5 L590.9,851.6 L591.3,852.7 L591.7,853.9 L592.1,855.0 L592.5,856.1 L592.9,857.2 L593.3,858.4 L593.7,859.5 L594.1,860.6 L594.5,861.8 L594.9,862.9 L595.3,864.0 L595.7,865.2 L596.0,866.3 L596.4,867.4 L596.8,868.6 L597.2,869.7 L597.6,870.9 L598.0,872.0 L598.3,873.1 L598.7,874.3 L599.1,875.4 L599.5,876.5 L599.8,877.7 L600.2,878.8 L600.6,880.0 L601.0,881.1 L601.3,882.2 L601.7,883.4 L602.1,884.5 L602.4,885.7 L602.8,886.8 L603.2,888.0 L603.5,889.1 L603.9,890.2 L604.2,891.4 L604.6,892.5 L605.0,893.7 L605.3,894.8 L605.7,896.0 L606.1,897.1 L606.4,898.2 L606.8,899.4 L607.1,900.5 L607.5,901.7 L607.9,902.8 L608.2,904.0 L608.6,905.1 L608.9,906.2 L609.3,907.4 L609.6,908.5 L610.0,909.7 L610.4,910.8 L610.7,912.0 L611.1,913.1 L611.4,914.3 L611.8,915.4 L612.2,916.5 L612.5,917.7 L612.9,918.8 L613.2,920.0 L613.6,921.1 L614.0,922.3 L614.3,923.4 L614.7,924.5 L615.1,925.7 L615.4,926.8 L615.8,928.0 L616.2,929.1 L616.5,930.3 L616.9,931.4 L617.3,932.5 L617.6,933.7 L618.0,934.8 L618.4,936.0 L618.7,937.1 L619.1,938.2 L619.5,939.4 L619.9,940.5 L620.2,941.7 L620.6,942.8 L621.0,943.9 L621.4,945.1 L621.8,946.2 L622.1,947.4 L622.5,948.5 L622.9,949.6 L623.3,950.8 L623.7,951.9 L624.1,953.0 L624.5,954.2 L624.9,955.3 L625.3,956.5 L625.7,957.6 L626.1,958.7 L626.5,959.8 L626.9,961.0 L627.3,962.1 L627.7,963.2 L628.2,964.4 L628.6,965.5 L629.0,966.6 L629.4,967.7 L629.9,968.8 L630.3,970.0 L630.7,971.1 L631.2,972.2 L631.7,973.3 L632.1,974.4 L632.6,975.5 L633.0,976.6 L633.5,977.7 L634.0,978.8 L634.5,979.9 L635.0,981.0 L635.5,982.1 L636.0,983.2 L636.5,984.3 L637.0,985.4 L637.5,986.4 L638.1,987.5 L638.6,988.6 L639.1,989.6 L639.7,990.7 L640.2,991.8 L640.8,992.8 L641.4,993.9 L642.0,994.9 L642.6,996.0 L643.2,997.0 L643.8,998.0 L644.4,999.1 L645.0,1000.1 L645.7,1001.1 L646.3,1002.1 L647.0,1003.1 L647.6,1004.1 L647.8,1004.4" stroke="#00ffff" stroke-dasharray="11.3 4.2 2.3 4.4"/>
<path d="M191.5,1000.1 L192.7,999.9 L193.8,999.7 L195.0,999.4 L196.2,999.2 L197.3,999.0 L198.5,998.8 L199.7,998.7 L200.8,998.5 L202.0,998.3 L203.2,998.1 L204.4,998.0 L205.5,997.8 L206.7,997.7 L207.9,997.5 L209.1,997.4 L210.3,997.2 L211.4,997.1 L212.6,997.0 L213.8,996.8 L215.0,996.7 L216.2,996.6 L217.4,996.5 L218.6,996.4 L219.8,996.3 L221.0,996.2 L222.2,996.1 L223.4,996.0 L224.5,995.9 L225.7,995.8 L226.9,995.7 L228.1,995.7 L229.3,995.6 L230.5,995.5 L231.7,995.5 L233.0,995.4 L234.2,995.3 L235.4,995.3 L236.6,995.2 L237.8,995.2 L239.0,995.1 L240.2,995.1 L241.4,995.0 L242.6,995.0 L243.8,994.9 L245.0,994.9 L246.2,994.8 L247.4,994.8 L248.7,994.8 L249.9,994.7 L251.1,994.7 L252.3,994.7 L253.5,994.6 L254.7,994.6 L255.9,994.6 L257.1,994.6 L258.3,994.5 L259.6,994.5 L260.8,994.5 L262.0,994.4 L263.2,994.4 L264.4,994.4 L265.6,994.4 L266.8,994.3 L268.1,994.3 L269.3,994.3 L270.5,994.3 L271.7,994.2 L272.9,994.2 L274.1,994.2 L275.3,994.1 L276.6,994.1 L277.8,994.1 L279.0,994.0 L280.2,994.0 L281.4,994.0 L282.6,993.9 L283.8,993.9 L285.0,993.8 L286.2,993.8 L287.5,993.8 L288.7,993.7 L289.9,993.7 L291.1,993.6 L292.3,993.6 L293.5,993.5 L294.7,993.4 L295.9,993.4 L297.1,993.3 L298.3,993.2 L299.5,993.2 L300.7,993.1 L301.9,993.0 L303.1,992.9 L304.3,992.9 L305.5,992.8 L306.7,992.7 L307.9,992.6 L309.1,992.5 L310.3,992.4 L311.5,992.3 L312.7,992.2 L313.9,992.0 L315.1,991.9 L316.3,991.8 L317.5,991.7 L318.6,991.5 L319.8,991.4 L321.0,991.2 L322.2,991.1 L323.4,990.9 L324.6,990.8 L325.7,990.6 L326.9,990.4 L328.1,990.3 L329.3,990.1 L330.4,989.9 L331.6,989.7 L332.8,989.5 L333.9,989.3 L335.1,989.1 L336.3,988.9 L337.5,988.6 L338.6,988.4 L339.8,988.2 L340.9,988.0 L342.1,987.7 L343.3,987.5 L344.4,987.2 L345.6,987.0 L346.8,986.7 L347.9,986.5 L349.1,986.2 L350.2,985.9 L351.4,985.7 L352.6,985.4 L353.7,985.1 L354.9,984.9 L356.0,984.6 L357.2,984.3 L358.4,984.0 L359.5,983.8 L360.7,983.5 L361.9,983.2 L363.0,982.9 L364.2,982.6 L365.4,982.4 L366.6,982.1 L367.7,981.8 L368.9,981.5 L370.1,981.2 L371.3,981.0 L372.4,980.7 L373.6,980.4 L374.8,980.1 L376.0,979.9 L377.2,979.6 L378.4,979.3 L379.5,979.1 L380.7,978.8 L381.9,978.6 L383.1,978.3 L384.3,978.1 L385.5,977.9 L386.7,977.6 L387.9,977.4 L389.1,977.2 L390.3,977.0 L391.5,976.8 L392.7,976.7 L393.9,976.5 L395.0,976.4 L396.2,976.2 L397.4,976.1 L398.6,976.0 L399.8,975.9 L401.0,975.8 L402.2,975.7 L403.4,975.7 L404.6,975.7 L405.8,975.6 L406.9,975.6 L408.1,975.7 L409.3,975.7 L410.5,975.8 L411.7,975.8 L412.8,975.9 L414.0,976.1 L415.2,976.2 L416.4,976.4 L417.5,976.6 L418.7,976.8 L419.9,977.0 L421.0,977.3 L422.2,977.5 L423.3,977.9 L424.5,978.2 L425.6,978.5 L426.8,978.9 L427.9,979.3 L429.0,979.7 L430.2,980.2 L431.3,980.6 L432.4,981.1 L433.6,981.5 L434.7,982.0 L435.8,982.5 L436.9,983.0 L438.0,983.5 L439.1,984.1 L440.2,984.6 L441.2,985.1 L442.3,985.6 L443.4,986.2 L444.5,986.7 L445.5,987.2 L446.6,987.8 L447.7,988.3 L448.8,988.8 L449.9,989.3 L451.0,989.8 L452.1,990.3 L453.2,990.8 L454.3,991.2 L455.4,991.6 L456.6,992.1 L457.7,992.5 L458.9,992.8 L460.1,993.2 L461.3,993.5 L462.5,993.8 L463.7,994.0 L464.9,994.3 L466.1,994.4 L467.4,994.5 L468.6,994.6 L469.8,994.6 L471.0,994.6 L472.1,994.5 L473.3,994.3 L474.5,994.1 L475.6,993.8 L476.7,993.4 L477.8,993.0 L478.9,992.5 L479.9,992.0 L481.0,991.5 L482.0,990.8 L483.0,990.2 L483.9,989.5 L484.8,988.7 L485.7,987.9 L486.6,987.1 L487.4,986.2 L488.2,985.3 L489.0,984.4 L489.7,983.5 L490.4,982.5 L491.1,981.5 L491.7,980.4 L492.3,979.4 L492.8,978.3 L493.4,977.2 L493.9,976.1 L494.4,975.0 L494.8,973.9 L495.3,972.7 L495.8,971.6 L496.2,970.5 L496.7,969.4 L497.2,968.3 L497.7,967.1 L498.2,966.0 L498.7,965.0 L499.3,963.9 L499.8,962.8 L500.4,961.7 L500.9,960.7 L501.5,959.6 L502.1,958.6 L502.6,957.5 L503.2,956.5 L503.8,955.4 L504.4,954.4 L505.0,953.3 L505.5,952.3 L506.1,951.2 L506.7,950.1 L507.2,949.1 L507.7,948.0 L508.3,947.0 L508.8,945.9 L509.3,944.8 L509.9,943.7 L510.4,942.6 L510.9,941.6 L511.4,940.5 L511.9,939.4 L512.4,938.3 L512.8,937.2 L513.3,936.1 L513.8,935.0 L514.3,933.9 L514.7,932.8 L515.2,931.7 L515.7,930.6 L516.1,929.5 L516.6,928.4 L517.0,927.3 L517.5,926.2 L517.9,925.0 L518.4,923.9 L518.8,922.8 L519.2,921.7 L519.7,920.6 L520.1,919.5 L520.6,918.3 L521.0,917.2 L521.4,916.1 L521.9,915.0 L522.3,913.9 L522.7,912.8 L523.2,911.6 L523.6,910.5 L524.0,909.4 L524.5,908.3 L524.9,907.2 L525.3,906.0 L525.8,904.9 L526.2,903.8 L526.7,902.7 L527.1,901.6 L527.5,900.5 L528.0,899.4 L528.5,898.3 L528.9,897.2 L529.4,896.0 L529.8,894.9 L530.3,893.8 L530.8,892.7 L531.2,891.6 L531.7,890.5 L532.2,889.5 L532.7,888.4 L533.2,887.3 L533.7,886.2 L534.2,885.1 L534.7,884.0 L535.2,882.9 L535.7,881.9 L536.3,880.8 L536.8,879.7 L537.4,878.7 L537.9,877.6 L538.5,876.5 L539.0,875.5 L539.6,874.4 L540.2,873.4 L540.8,872.4 L541.4,871.3 L542.0,870.3 L542.7,869.3 L543.3,868.3 L544.0,867.2 L544.7,866.2 L545.4,865.2 L546.2,864.3 L546.9,863.3 L547.7,862.3 L548.5,861.3 L549.3,860.4 L550.2,859.4 L551.0,858.5 L551.9,857.6 L552.9,856.7 L553.8,855.8 L554.8,854.9 L555.8,854.1 L556.8,853.3 L557.8,852.6 L558.8,851.9 L559.9,851.3 L560.9,850.8 L562.0,850.3 L563.1,849.9 L564.1,849.6 L565.2,849.4 L566.3,849.3 L567.4,849.2 L568.5,849.3 L569.6,849.5 L570.7,849.8 L571.8,850.1 L572.9,850.6 L573.9,851.1 L575.0,851.7 L576.0,852.4 L577.0,853.1 L577.9,853.9 L578.9,854.8 L579.8,855.6 L580.7,856.5 L581.6,857.5 L582.4,858.5 L583.1,859.5 L583.9,860.5 L584.6,861.5 L585.2,862.5 L585.8,863.6 L586.4,864.7 L587.0,865.8 L587.5,866.8 L588.0,867.9 L588.5,869.1 L589.0,870.2 L589.4,871.3 L589.9,872.4 L590.3,873.6 L590.7,874.7 L591.1,875.8 L591.5,877.0 L591.9,878.1 L592.3,879.3 L592.7,880.4 L593.2,881.5 L593.6,882.7 L594.0,883.8 L594.4,884.9 L594.8,886.1 L595.3,887.2 L595.7,888.3 L596.1,889.4 L596.6,890.5 L597.0,891.7 L597.4,892.8 L597.9,893.9 L598.3,895.0 L598.8,896.1 L599.2,897.3 L599.7,898.4 L600.1,899.5 L600.6,900.6 L601.0,901.7 L601.5,902.8 L601.9,903.9 L602.4,905.0 L602.8,906.1 L603.3,907.2 L603.8,908.3 L604.2,909.5 L604.7,910.6 L605.2,911.7 L605.6,912.8 L606.1,913.9 L606.5,915.0 L607.0,916.1 L607.5,917.2 L608.0,918.3 L608.4,919.4 L608.9,920.5 L609.4,921.6 L609.8,922.7 L610.3,923.8 L610.8,924.9 L611.2,926.0 L611.7,927.1 L612.2,928.2 L612.6,929.3 L613.1,930.4 L613.6,931.5 L614.0,932.6 L614.5,933.7 L615.0,934.8 L615.4,935.9 L615.9,937.0 L616.4,938.1 L616.8,939.2 L617.3,940.3 L617.7,941.4 L618.2,942.5 L618.6,943.7 L619.1,944.8 L619.5,945.9 L620.0,947.0 L620.4,948.1 L620.9,949.2 L621.3,950.3 L621.8,951.5 L622.2,952.6 L622.7,953.7 L623.1,954.8 L623.5,955.9 L624.0,957.0 L624.4,958.2 L624.8,959.3 L625.3,960.4 L625.7,961.5 L626.2,962.7 L626.6,963.8 L627.0,964.9 L627.5,966.0 L627.9,967.1 L628.4,968.2 L628.8,969.4 L629.3,970.5 L629.7,971.6 L630.2,972.7 L630.6,973.8 L631.1,974.9 L631.6,976.0 L632.1,977.1 L632.5,978.2 L633.0,979.3 L633.5,980.4 L634.0,981.5 L634.5,982.6 L635.0,983.7 L635.5,984.8 L636.0,985.8 L636.6,986.9 L637.1,988.0 L637.6,989.1 L638.2,990.1 L638.7,991.2 L639.3,992.2 L639.9,993.3 L640.5,994.3 L641.1,995.4 L641.7,996.4 L642.3,997.4 L642.9,998.5 L643.5,999.5 L644.2,1000.5 L644.8,1001.5 L645.5,1002.5 L646.2,1003.5 L646.8,1004.4" stroke="#0000ff" stroke-dasharray="4.7 6.4"/>
<path d="M191.5,999.5 L192.7,999.4 L193.9,999.4 L195.1,999.3 L196.3,999.2 L197.5,999.2 L198.7,999.1 L199.9,999.0 L201.1,998.9 L202.3,998.9 L203.4,998.8 L204.6,998.7 L205.8,998.6 L207.0,998.6 L208.2,998.5 L209.4,998.4 L210.6,998.3 L211.8,998.2 L213.0,998.2 L214.2,998.1 L215.4,998.0 L216.6,997.9 L217.8,997.8 L219.0,997.7 L220.2,997.6 L221.4,997.6 L222.6,997.5 L223.8,997.4 L225.0,997.3 L226.2,997.2 L227.4,997.1 L228.6,997.0 L229.8,996.9 L231.0,996.8 L232.2,996.7 L233.4,996.7 L234.6,996.6 L235.8,996.5 L237.0,996.4 L238.2,996.3 L239.4,996.2 L240.6,996.1 L241.8,996.0 L243.0,995.9 L244.2,995.8 L245.4,995.7 L246.6,995.6 L247.8,995.5 L249.0,995.4 L250.2,995.3 L251.4,995.2 L252.6,995.1 L253.8,995.0 L255.0,994.9 L256.2,994.8 L257.4,994.7 L258.5,994.7 L259.7,994.6 L260.9,994.5 L262.1,994.4 L263.3,994.3 L264.5,994.2 L265.7,994.1 L266.9,994.0 L268.1,993.9 L269.3,993.8 L270.5,993.7 L271.7,993.6 L272.9,993.5 L274.1,993.4 L275.3,993.3 L276.5,993.2 L277.7,993.2 L278.9,993.1 L280.1,993.0 L281.3,992.9 L282.5,992.8 L283.7,992.7 L284.9,992.6 L286.1,992.5 L287.3,992.4 L288.5,992.4 L289.7,992.3 L290.9,992.2 L292.1,992.1 L293.3,992.0 L294.5,991.9 L295.7,991.9 L296.9,991.8 L298.1,991.7 L299.3,991.6 L300.5,991.5 L301.7,991.5 L302.9,991.4 L304.0,991.3 L305.2,991.2 L306.4,991.2 L307.6,991.1 L308.8,991.0 L310.0,991.0 L311.2,990.9 L312.4,990.8 L313.6,990.8 L314.8,990.7 L316.0,990.6 L317.2,990.5 L318.4,990.5 L319.6,990.4 L320.8,990.3 L321.9,990.2 L323.1,990.1 L324.3,990.0 L325.5,989.9 L326.7,989.8 L327.9,989.7 L329.1,989.6 L330.3,989.5 L331.5,989.4 L332.7,989.2 L333.8,989.1 L335.0,988.9 L336.2,988.8 L337.4,988.6 L338.6,988.4 L339.8,988.2 L341.0,988.0 L342.1,987.8 L343.3,987.6 L344.5,987.4 L345.7,987.2 L346.9,986.9 L348.0,986.7 L349.2,986.5 L350.4,986.2 L351.6,986.0 L352.8,985.7 L354.0,985.4 L355.1,985.2 L356.3,984.9 L357.5,984.6 L358.7,984.4 L359.8,984.1 L361.0,983.8 L362.2,983.5 L363.4,983.3 L364.6,983.0 L365.7,982.7 L366.9,982.4 L368.1,982.2 L369.3,981.9 L370.5,981.6 L371.6,981.3 L372.8,981.1 L374.0,980.8 L375.2,980.6 L376.3,980.3 L377.5,980.1 L378.7,979.8 L379.9,979.6 L381.1,979.4 L382.2,979.1 L383.4,978.9 L384.6,978.7 L385.8,978.5 L387.0,978.3 L388.1,978.2 L389.3,978.0 L390.5,977.8 L391.7,977.7 L392.9,977.5 L394.0,977.4 L395.2,977.3 L396.4,977.2 L397.6,977.1 L398.8,977.0 L400.0,976.9 L401.2,976.9 L402.3,976.8 L403.5,976.8 L404.7,976.8 L405.9,976.8 L407.1,976.8 L408.3,976.8 L409.5,976.9 L410.6,977.0 L411.8,977.1 L413.0,977.2 L414.2,977.3 L415.4,977.4 L416.6,977.6 L417.8,977.7 L419.0,977.9 L420.2,978.1 L421.3,978.4 L422.5,978.6 L423.7,978.8 L424.9,979.1 L426.0,979.4 L427.2,979.7 L428.4,980.0 L429.5,980.3 L430.7,980.7 L431.8,981.0 L433.0,981.4 L434.1,981.8 L435.3,982.2 L436.4,982.6 L437.5,983.1 L438.6,983.5 L439.8,984.0 L440.9,984.4 L442.0,984.9 L443.1,985.4 L444.2,985.9 L445.2,986.4 L446.3,986.9 L447.4,987.4 L448.5,987.9 L449.6,988.4 L450.7,988.9 L451.8,989.3 L452.9,989.8 L454.1,990.2 L455.2,990.5 L456.3,990.9 L457.5,991.2 L458.7,991.5 L459.8,991.7 L461.0,991.9 L462.2,992.1 L463.4,992.2 L464.6,992.3 L465.8,992.3 L467.0,992.3 L468.3,992.3 L469.5,992.2 L470.7,992.1 L471.9,991.9 L473.0,991.7 L474.2,991.4 L475.4,991.1 L476.5,990.8 L477.7,990.4 L478.8,990.0 L479.9,989.5 L481.0,988.9 L482.1,988.4 L483.1,987.7 L484.1,987.1 L485.2,986.4 L486.1,985.7 L487.1,984.9 L488.0,984.1 L488.9,983.3 L489.8,982.5 L490.7,981.7 L491.5,980.8 L492.3,979.9 L493.1,979.0 L493.8,978.1 L494.6,977.2 L495.3,976.2 L496.0,975.3 L496.7,974.3 L497.4,973.3 L498.0,972.3 L498.6,971.3 L499.3,970.3 L499.9,969.3 L500.5,968.2 L501.0,967.2 L501.6,966.2 L502.2,965.1 L502.8,964.0 L503.3,963.0 L503.9,961.9 L504.4,960.8 L504.9,959.7 L505.5,958.7 L506.0,957.6 L506.6,956.5 L507.1,955.4 L507.6,954.3 L508.2,953.3 L508.7,952.2 L509.3,951.1 L509.8,950.0 L510.4,949.0 L511.0,947.9 L511.5,946.8 L512.1,945.8 L512.6,944.7 L513.2,943.6 L513.8,942.6 L514.3,941.5 L514.9,940.4 L515.5,939.4 L516.1,938.3 L516.6,937.3 L517.2,936.2 L517.8,935.2 L518.4,934.1 L519.0,933.0 L519.5,932.0 L520.1,930.9 L520.7,929.9 L521.3,928.8 L521.9,927.8 L522.5,926.7 L523.0,925.7 L523.6,924.7 L524.2,923.6 L524.8,922.6 L525.4,921.5 L525.9,920.5 L526.5,919.4 L527.1,918.4 L527.7,917.3 L528.3,916.3 L528.8,915.2 L529.4,914.2 L530.0,913.2 L530.6,912.1 L531.1,911.1 L531.7,910.0 L532.3,909.0 L532.8,907.9 L533.4,906.9 L533.9,905.8 L534.5,904.8 L535.1,903.7 L535.6,902.7 L536.2,901.6 L536.7,900.6 L537.3,899.6 L537.9,898.5 L538.5,897.5 L539.0,896.4 L539.6,895.4 L540.2,894.4 L540.8,893.3 L541.4,892.3 L542.0,891.3 L542.7,890.2 L543.3,889.2 L543.9,888.2 L544.6,887.2 L545.3,886.1 L546.0,885.1 L546.6,884.1 L547.4,883.1 L548.1,882.1 L548.8,881.1 L549.6,880.1 L550.3,879.1 L551.1,878.1 L551.9,877.2 L552.8,876.2 L553.6,875.3 L554.5,874.4 L555.3,873.5 L556.2,872.7 L557.2,872.0 L558.1,871.3 L559.1,870.7 L560.1,870.1 L561.1,869.7 L562.1,869.3 L563.2,869.1 L564.3,868.9 L565.4,868.9 L566.5,868.9 L567.7,869.1 L568.8,869.4 L570.0,869.8 L571.1,870.3 L572.2,870.8 L573.3,871.4 L574.4,872.1 L575.4,872.8 L576.4,873.6 L577.3,874.4 L578.2,875.3 L579.1,876.1 L579.9,877.0 L580.6,878.0 L581.3,878.9 L582.0,879.9 L582.7,880.9 L583.3,881.9 L584.0,883.0 L584.6,884.0 L585.1,885.1 L585.7,886.1 L586.3,887.2 L586.9,888.3 L587.4,889.3 L588.0,890.4 L588.5,891.5 L589.1,892.5 L589.7,893.6 L590.2,894.7 L590.8,895.7 L591.4,896.8 L591.9,897.9 L592.5,898.9 L593.1,900.0 L593.6,901.1 L594.2,902.1 L594.8,903.2 L595.3,904.3 L595.9,905.3 L596.5,906.4 L597.0,907.4 L597.6,908.5 L598.2,909.6 L598.7,910.6 L599.3,911.7 L599.9,912.7 L600.4,913.8 L601.0,914.9 L601.5,915.9 L602.1,917.0 L602.7,918.0 L603.2,919.1 L603.8,920.1 L604.3,921.2 L604.9,922.3 L605.5,923.3 L606.0,924.4 L606.6,925.4 L607.1,926.5 L607.7,927.6 L608.2,928.6 L608.8,929.7 L609.3,930.8 L609.9,931.8 L610.4,932.9 L611.0,933.9 L611.5,935.0 L612.0,936.1 L612.6,937.1 L613.1,938.2 L613.7,939.3 L614.2,940.3 L614.7,941.4 L615.3,942.5 L615.8,943.6 L616.3,944.6 L616.8,945.7 L617.4,946.8 L617.9,947.9 L618.4,948.9 L618.9,950.0 L619.4,951.1 L620.0,952.2 L620.5,953.3 L621.0,954.4 L621.5,955.4 L622.0,956.5 L622.5,957.6 L623.0,958.7 L623.5,959.8 L624.0,960.9 L624.5,962.0 L625.0,963.1 L625.5,964.2 L625.9,965.3 L626.4,966.4 L626.9,967.5 L627.4,968.6 L627.9,969.7 L628.3,970.8 L628.8,971.9 L629.3,973.0 L629.7,974.2 L630.2,975.3 L630.7,976.4 L631.2,977.5 L631.6,978.6 L632.1,979.7 L632.6,980.8 L633.1,981.9 L633.6,983.0 L634.1,984.1 L634.6,985.2 L635.1,986.3 L635.7,987.3 L636.2,988.4 L636.7,989.5 L637.3,990.5 L637.8,991.6 L638.4,992.6 L639.0,993.7 L639.6,994.7 L640.2,995.7 L640.9,996.7 L641.5,997.8 L642.2,998.7 L642.8,999.7 L643.5,1000.7 L644.2,1001.7 L645.0,1002.6 L645.7,1003.6 L646.4,1004.4" stroke="#ff0000"/>
</g>
<path d="M321.3,118.5 H410.0" stroke="#000000" stroke-width="5.0" fill="none" stroke-dasharray="4.7 4.35 4.7 8.5"/>
<g transform="translate(302.3,129.0) rotate(0)" font-family="Liberation Serif, serif">
<text x="-43.08" y="0.00" font-size="31.00" xml:space="preserve">NR</text>
</g>
<path d="M321.3,149.7 H410.0" stroke="#00ff00" stroke-width="5.0" fill="none" stroke-dasharray="9 4.2"/>
<g transform="translate(302.3,160.2) rotate(0)" font-family="Liberation Serif, serif">
<text x="-70.62" y="0.00" font-size="31.00" xml:space="preserve">R-kin</text>
</g>
<path d="M321.3,180.8 H410.0" stroke="#ff00ff" stroke-width="5.0" fill="none" stroke-dasharray="2.5 3.05"/>
<g transform="translate(302.3,187.3) rotate(0)" font-family="Liberation Serif, serif">
<text x="-34.80" y="0.00" font-size="31.00" xml:space="preserve">V</text>
<text x="-12.41" y="9.30" font-size="24.80" xml:space="preserve">0</text>
</g>
<path d="M321.3,211.75 H410.0" stroke="#00ffff" stroke-width="5.0" fill="none" stroke-dasharray="11.3 4.2 2.3 4.4"/>
<g transform="translate(302.3,218.25) rotate(0)" font-family="Liberation Serif, serif">
<text x="-34.80" y="0.00" font-size="31.00" xml:space="preserve">V</text>
<text x="-12.41" y="9.30" font-size="24.80" xml:space="preserve">1</text>
</g>
<path d="M321.3,242.8 H410.0" stroke="#0000ff" stroke-width="5.0" fill="none" stroke-dasharray="4.7 6.4"/>
<g transform="translate(302.3,249.3) rotate(0)" font-family="Liberation Serif, serif">
<text x="-34.80" y="0.00" font-size="31.00" xml:space="preserve">V</text>
<text x="-12.41" y="9.30" font-size="24.80" xml:space="preserve">2</text>
</g>
<path d="M321.3,273.75 H410.0" stroke="#ff0000" stroke-width="5.0" fill="none"/>
<g transform="translate(302.3,284.25) rotate(0)" font-family="Liberation Serif, serif">
<text x="-20.69" y="0.00" font-size="31.00" xml:space="preserve">R</text>
</g>
<g transform="translate(335.8,50.7) rotate(0)" font-family="Liberation Serif, serif">
<text x="0.00" y="-0.00" font-size="35.50" xml:space="preserve">E</text>
<text x="21.69" y="10.65" font-size="28.40" xml:space="preserve">lab</text>
<text x="56.38" y="-0.00" font-size="35.50" xml:space="preserve"> = 1 GeV</text>
</g>
<g transform="translate(359.2,1090) rotate(0)" font-family="Liberation Serif, serif">
<text x="0.00" y="-0.00" font-size="35.50" xml:space="preserve">E</text>
<text x="21.69" y="10.65" font-size="28.40" xml:space="preserve">1</text>
<text x="35.89" y="-0.00" font-size="35.50" xml:space="preserve"> [MeV]</text>
</g>
<g transform="translate(69.0,728.0) rotate(-90)" font-family="Liberation Serif, serif">
<text x="0.00" y="0.00" font-size="31.00" xml:space="preserve">d</text>
<text x="15.50" y="-15.50" font-size="24.80" xml:space="preserve">5</text>
<text transform="translate(27.91,0.00) scale(1.12,1)" font-size="31.00" xml:space="preserve">σ</text>
<text x="46.63" y="9.30" font-size="24.80" xml:space="preserve">br</text>
<text x="67.29" y="-15.50" font-size="24.80" xml:space="preserve">lab</text>
<text x="97.58" y="0.00" font-size="31.00" xml:space="preserve">/d</text>
<text transform="translate(120.81,0.00) scale(1.05,1)" font-size="31.00" xml:space="preserve">Ω</text>
<text x="146.51" y="9.30" font-size="24.80" xml:space="preserve">1</text>
<text x="157.12" y="0.00" font-size="31.00" xml:space="preserve">d</text>
<text transform="translate(171.72,0.00) scale(1.05,1)" font-size="31.00" xml:space="preserve">Ω</text>
<text x="197.42" y="9.30" font-size="24.80" xml:space="preserve">2</text>
<text x="209.52" y="0.00" font-size="31.00" xml:space="preserve">dE</text>
<text x="243.96" y="9.30" font-size="24.80" xml:space="preserve">1</text>
<text x="256.07" y="0.00" font-size="31.00" xml:space="preserve"> [mb/(MeV sr</text>
<text x="425.99" y="-15.50" font-size="24.80" xml:space="preserve">2</text>
<text x="438.39" y="0.00" font-size="31.00" xml:space="preserve">)]</text>
</g>
</svg>
</body></html>
